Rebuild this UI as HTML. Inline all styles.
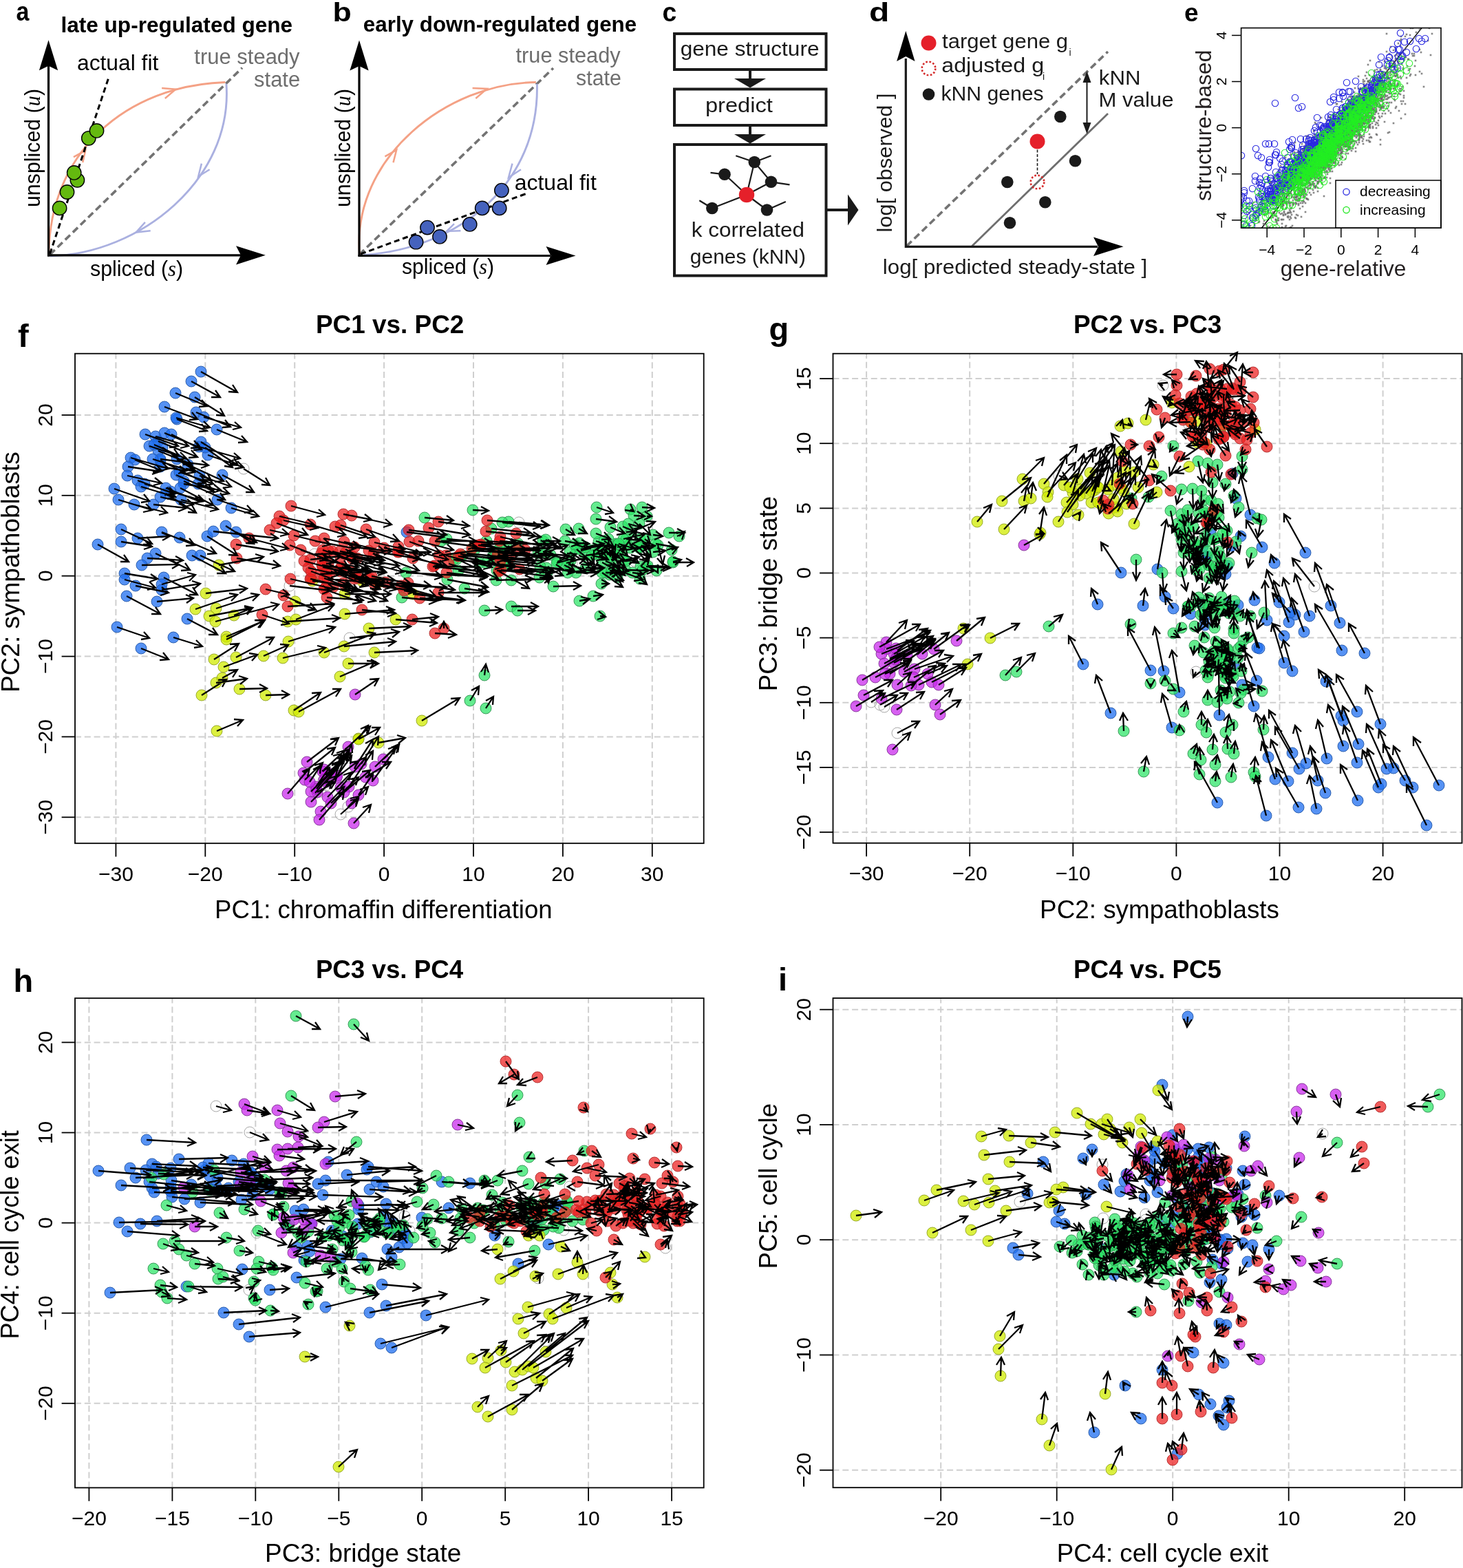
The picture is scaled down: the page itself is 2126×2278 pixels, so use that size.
<!DOCTYPE html>
<html><head><meta charset="utf-8"><title>Figure</title>
<style>html,body{margin:0;padding:0;background:#fff;}svg{display:block;}</style></head>
<body>
<svg xmlns="http://www.w3.org/2000/svg" width="2126" height="2278" viewBox="0 0 2126 2278" font-family="'Liberation Sans', Arial, Helvetica, sans-serif">
<rect width="2126" height="2278" fill="#fff"/>
<text x="23.6" y="29.8" font-size="38" font-weight="bold" textLength="18.9" lengthAdjust="spacingAndGlyphs">a</text>
<text x="88.4" y="46.6" font-size="31" font-weight="bold" textLength="336.8" lengthAdjust="spacingAndGlyphs">late up-regulated gene</text>
<line x1="72.5" y1="370.0" x2="352.0" y2="98.5" stroke="#737373" stroke-width="3.6" stroke-dasharray="10 5.5"/>
<path d="M70.9,368.9 C72.3,220.4 183.7,124.3 327.3,119.5" fill="none" stroke="#f4a185" stroke-width="2.9"/>
<path d="M328.9,121.9 C338.8,260.9 203.0,369.1 72.5,372.0" fill="none" stroke="#aab0e0" stroke-width="2.9"/>
<path d="M235.1,128.1 L255.4,129.7 L239.8,143.0" fill="none" stroke="#f4a185" stroke-width="2.5" stroke-linejoin="miter" stroke-linecap="butt"/>
<path d="M106.9,228.2 L124.1,218.8 L120.2,236.0" fill="none" stroke="#f4a185" stroke-width="2.5" stroke-linejoin="miter" stroke-linecap="butt"/>
<path d="M292.9,237.6 L288.2,256.3 L304.6,246.2" fill="none" stroke="#aab0e0" stroke-width="2.5" stroke-linejoin="miter" stroke-linecap="butt"/>
<path d="M210.9,322.8 L197.6,337.6 L218.7,335.3" fill="none" stroke="#aab0e0" stroke-width="2.5" stroke-linejoin="miter" stroke-linecap="butt"/>
<line x1="72.5" y1="368.9" x2="157.7" y2="113.3" stroke="#000" stroke-width="3" stroke-dasharray="8 5"/>
<circle cx="128.8" cy="200.8" r="10.2" fill="#64b90f" stroke="#000" stroke-width="1.4"/>
<circle cx="140.5" cy="189.9" r="10.2" fill="#64b90f" stroke="#000" stroke-width="1.4"/>
<circle cx="112.4" cy="261.8" r="10.2" fill="#64b90f" stroke="#000" stroke-width="1.4"/>
<circle cx="107.7" cy="250.9" r="10.2" fill="#64b90f" stroke="#000" stroke-width="1.4"/>
<circle cx="97.5" cy="279.0" r="10.2" fill="#64b90f" stroke="#000" stroke-width="1.4"/>
<circle cx="86.6" cy="302.4" r="10.2" fill="#64b90f" stroke="#000" stroke-width="1.4"/>
<line x1="70.5" y1="372.5" x2="70.5" y2="95.0" stroke="#000" stroke-width="3.2"/>
<line x1="69.0" y1="370.8" x2="350.0" y2="370.8" stroke="#000" stroke-width="3.2"/>
<path d="M70.5,58.2 L84.1,102.2 L70.5,95.7 L56.9,102.2 Z" fill="#000" stroke="none" stroke-width="1"/>
<path d="M385.8,370.8 L343,357.2 L350,370.8 L343,384.40000000000003 Z" fill="#000" stroke="none" stroke-width="1"/>
<text x="112.0" y="101.8" font-size="31.5" textLength="118.3" lengthAdjust="spacingAndGlyphs">actual fit</text>
<text x="282.3" y="92.7" font-size="31" fill="#6e6e6e" textLength="153.3" lengthAdjust="spacingAndGlyphs">true steady</text>
<text x="369.1" y="125.7" font-size="31" fill="#6e6e6e" textLength="67.1" lengthAdjust="spacingAndGlyphs">state</text>
<text x="0" y="0" font-size="32" textLength="172" lengthAdjust="spacingAndGlyphs" transform="translate(57.5,301) rotate(-90)">unspliced (<tspan font-family="'Liberation Serif', serif" font-style="italic">u</tspan>)</text>
<text x="131" y="401" font-size="32" textLength="135" lengthAdjust="spacingAndGlyphs">spliced (<tspan font-family="'Liberation Serif', serif" font-style="italic">s</tspan>)</text>
<text x="483.6" y="31.0" font-size="38" font-weight="bold" textLength="27.3" lengthAdjust="spacingAndGlyphs">b</text>
<text x="527.8" y="46.0" font-size="31" font-weight="bold" textLength="397.4" lengthAdjust="spacingAndGlyphs">early down-regulated gene</text>
<line x1="522.0" y1="370.0" x2="804.0" y2="99.0" stroke="#737373" stroke-width="3.6" stroke-dasharray="10 5.5"/>
<path d="M522.5,368.9 C511.6,228.7 649.8,120.6 778.9,119.5" fill="none" stroke="#f4a185" stroke-width="2.9"/>
<path d="M780.4,121.9 C783.8,267.9 667.0,360.6 528.8,370.4" fill="none" stroke="#aab0e0" stroke-width="2.9"/>
<path d="M686.6,128.1 L707.7,128.9 L691.3,143.0" fill="none" stroke="#f4a185" stroke-width="2.5" stroke-linejoin="miter" stroke-linecap="butt"/>
<path d="M559.4,227.4 L576.2,217.9 L571.5,236.1" fill="none" stroke="#f4a185" stroke-width="2.5" stroke-linejoin="miter" stroke-linecap="butt"/>
<path d="M744.5,237.6 L739.0,257.9 L757.0,246.2" fill="none" stroke="#aab0e0" stroke-width="2.5" stroke-linejoin="miter" stroke-linecap="butt"/>
<path d="M660.0,325.1 L649.1,336.0 L669.4,335.3" fill="none" stroke="#aab0e0" stroke-width="2.5" stroke-linejoin="miter" stroke-linecap="butt"/>
<line x1="524.0" y1="369.0" x2="764.8" y2="281.3" stroke="#000" stroke-width="3" stroke-dasharray="8 5"/>
<circle cx="728.9" cy="276.6" r="10.2" fill="#4562bd" stroke="#000" stroke-width="1.4"/>
<circle cx="700.7" cy="302.4" r="10.2" fill="#4562bd" stroke="#000" stroke-width="1.4"/>
<circle cx="725.7" cy="302.4" r="10.2" fill="#4562bd" stroke="#000" stroke-width="1.4"/>
<circle cx="682.7" cy="325.9" r="10.2" fill="#4562bd" stroke="#000" stroke-width="1.4"/>
<circle cx="621.0" cy="330.6" r="10.2" fill="#4562bd" stroke="#000" stroke-width="1.4"/>
<circle cx="639.0" cy="343.9" r="10.2" fill="#4562bd" stroke="#000" stroke-width="1.4"/>
<circle cx="604.6" cy="351.7" r="10.2" fill="#4562bd" stroke="#000" stroke-width="1.4"/>
<line x1="522.0" y1="372.5" x2="522.0" y2="95.0" stroke="#000" stroke-width="3.2"/>
<line x1="520.5" y1="371.5" x2="800.0" y2="371.5" stroke="#000" stroke-width="3.2"/>
<path d="M522,58.5 L535.6,102.5 L522,96 L508.4,102.5 Z" fill="#000" stroke="none" stroke-width="1"/>
<path d="M836.5,371.5 L793.5,357.9 L800.5,371.5 L793.5,385.1 Z" fill="#000" stroke="none" stroke-width="1"/>
<text x="747.7" y="276.2" font-size="31.5" textLength="119.1" lengthAdjust="spacingAndGlyphs">actual fit</text>
<text x="749.5" y="90.5" font-size="31" fill="#6e6e6e" textLength="152.2" lengthAdjust="spacingAndGlyphs">true steady</text>
<text x="837.1" y="123.8" font-size="31" fill="#6e6e6e" textLength="65.8" lengthAdjust="spacingAndGlyphs">state</text>
<text x="0" y="0" font-size="32" textLength="172" lengthAdjust="spacingAndGlyphs" transform="translate(509,301) rotate(-90)">unspliced (<tspan font-family="'Liberation Serif', serif" font-style="italic">u</tspan>)</text>
<text x="584" y="398" font-size="32" textLength="134" lengthAdjust="spacingAndGlyphs">spliced (<tspan font-family="'Liberation Serif', serif" font-style="italic">s</tspan>)</text>
<text x="962.5" y="31.0" font-size="38" font-weight="bold" textLength="20.7" lengthAdjust="spacingAndGlyphs">c</text>
<rect x="980" y="49" width="220.5" height="52" fill="none" stroke="#1a1a1a" stroke-width="4"/>
<rect x="980" y="129.5" width="220.5" height="52.5" fill="none" stroke="#1a1a1a" stroke-width="4"/>
<rect x="980" y="210" width="220.5" height="190.5" fill="none" stroke="#1a1a1a" stroke-width="4"/>
<line x1="1090.0" y1="103.0" x2="1090.0" y2="116.0" stroke="#1a1a1a" stroke-width="4"/>
<path d="M1067,114 L1113,114 L1090,127.5 Z" fill="#1a1a1a" stroke="none" stroke-width="1"/>
<line x1="1090.0" y1="184.0" x2="1090.0" y2="196.0" stroke="#1a1a1a" stroke-width="4"/>
<path d="M1067,195 L1113,195 L1090,208.5 Z" fill="#1a1a1a" stroke="none" stroke-width="1"/>
<text x="988.7" y="81.0" font-size="29" fill="#1a1a1a" textLength="201.8" lengthAdjust="spacingAndGlyphs">gene structure</text>
<text x="1024.9" y="162.5" font-size="29" fill="#1a1a1a" textLength="98.0" lengthAdjust="spacingAndGlyphs">predict</text>
<text x="1004.8" y="344.0" font-size="29" fill="#1a1a1a" textLength="164.2" lengthAdjust="spacingAndGlyphs">k correlated</text>
<text x="1002.8" y="382.5" font-size="29" fill="#1a1a1a" textLength="168.2" lengthAdjust="spacingAndGlyphs">genes (kNN)</text>
<line x1="1085.0" y1="283.0" x2="1096.3" y2="235.5" stroke="#1a1a1a" stroke-width="2.2"/>
<line x1="1085.0" y1="283.0" x2="1053.0" y2="253.3" stroke="#1a1a1a" stroke-width="2.2"/>
<line x1="1085.0" y1="283.0" x2="1120.5" y2="264.3" stroke="#1a1a1a" stroke-width="2.2"/>
<line x1="1085.0" y1="283.0" x2="1034.8" y2="302.5" stroke="#1a1a1a" stroke-width="2.2"/>
<line x1="1085.0" y1="283.0" x2="1114.5" y2="305.0" stroke="#1a1a1a" stroke-width="2.2"/>
<line x1="1096.3" y1="235.5" x2="1120.5" y2="264.3" stroke="#1a1a1a" stroke-width="2.2"/>
<line x1="1096.3" y1="235.5" x2="1069.3" y2="226.3" stroke="#1a1a1a" stroke-width="2.2"/>
<line x1="1096.3" y1="235.5" x2="1120.5" y2="226.3" stroke="#1a1a1a" stroke-width="2.2"/>
<line x1="1053.0" y1="253.3" x2="1032.5" y2="250.8" stroke="#1a1a1a" stroke-width="2.2"/>
<line x1="1120.5" y1="264.3" x2="1147.5" y2="268.3" stroke="#1a1a1a" stroke-width="2.2"/>
<line x1="1034.8" y1="302.5" x2="1016.3" y2="291.3" stroke="#1a1a1a" stroke-width="2.2"/>
<line x1="1114.5" y1="305.0" x2="1141.8" y2="293.0" stroke="#1a1a1a" stroke-width="2.2"/>
<circle cx="1096.3" cy="235.5" r="8.8" fill="#1a1a1a" stroke="none" stroke-width="1"/>
<circle cx="1053.0" cy="253.3" r="8.8" fill="#1a1a1a" stroke="none" stroke-width="1"/>
<circle cx="1120.5" cy="264.3" r="8.8" fill="#1a1a1a" stroke="none" stroke-width="1"/>
<circle cx="1034.8" cy="302.5" r="8.8" fill="#1a1a1a" stroke="none" stroke-width="1"/>
<circle cx="1114.5" cy="305.0" r="8.8" fill="#1a1a1a" stroke="none" stroke-width="1"/>
<circle cx="1085.0" cy="283.0" r="11.2" fill="#e5202a" stroke="none" stroke-width="1"/>
<line x1="1201.0" y1="305.0" x2="1235.0" y2="305.0" stroke="#1a1a1a" stroke-width="4"/>
<path d="M1232,282.5 L1247.5,305 L1232,327.5 Z" fill="#1a1a1a" stroke="none" stroke-width="1"/>
<text x="1263.0" y="31.0" font-size="38" font-weight="bold" textLength="29.3" lengthAdjust="spacingAndGlyphs">d</text>
<line x1="1317.5" y1="357.5" x2="1610.0" y2="75.0" stroke="#737373" stroke-width="3.6" stroke-dasharray="10 5.5"/>
<line x1="1412.5" y1="357.5" x2="1610.0" y2="165.0" stroke="#6e6e6e" stroke-width="2.8"/>
<line x1="1316.3" y1="360.0" x2="1316.3" y2="85.0" stroke="#1a1a1a" stroke-width="3.2"/>
<line x1="1315.0" y1="358.3" x2="1595.0" y2="358.3" stroke="#1a1a1a" stroke-width="3.2"/>
<path d="M1316.3,45 L1329.5,89 L1316.3,82 L1303.1,89 Z" fill="#000" stroke="none" stroke-width="1"/>
<path d="M1632.5,358.3 L1589,344.6 L1596,358.3 L1589,372.0 Z" fill="#000" stroke="none" stroke-width="1"/>
<circle cx="1349.5" cy="62.5" r="11" fill="#e5202a" stroke="none" stroke-width="1"/>
<circle cx="1349.5" cy="99.5" r="9.8" fill="none" stroke="#d42a2a" stroke-width="2.6" stroke-dasharray="2.6 2.6"/>
<circle cx="1349.5" cy="137.0" r="8.8" fill="#1a1a1a" stroke="none" stroke-width="1"/>
<text x="1369.1" y="70.0" font-size="29" fill="#1a1a1a" textLength="183.0" lengthAdjust="spacingAndGlyphs">target gene g</text>
<text x="1553.5" y="81.0" font-size="14" fill="#1a1a1a">i</text>
<text x="1368.2" y="105.0" font-size="29" fill="#1a1a1a" textLength="149.0" lengthAdjust="spacingAndGlyphs">adjusted g</text>
<text x="1515.0" y="116.0" font-size="14" fill="#1a1a1a">i</text>
<text x="1367.4" y="146.0" font-size="29" fill="#1a1a1a" textLength="149.3" lengthAdjust="spacingAndGlyphs">kNN genes</text>
<line x1="1579.5" y1="112.0" x2="1579.5" y2="186.0" stroke="#1a1a1a" stroke-width="2"/>
<path d="M1579.5,103.5 L1585.5,120 L1573.5,120 Z" fill="#1a1a1a" stroke="none" stroke-width="1"/>
<path d="M1579.5,194.5 L1585.5,178 L1573.5,178 Z" fill="#1a1a1a" stroke="none" stroke-width="1"/>
<text x="1596.8" y="122.5" font-size="29" fill="#1a1a1a" textLength="60.8" lengthAdjust="spacingAndGlyphs">kNN</text>
<text x="1596.4" y="155.0" font-size="29" fill="#1a1a1a" textLength="109.1" lengthAdjust="spacingAndGlyphs">M value</text>
<circle cx="1540.8" cy="169.5" r="8.8" fill="#1a1a1a" stroke="none" stroke-width="1"/>
<circle cx="1562.5" cy="233.8" r="8.8" fill="#1a1a1a" stroke="none" stroke-width="1"/>
<circle cx="1463.8" cy="264.5" r="8.8" fill="#1a1a1a" stroke="none" stroke-width="1"/>
<circle cx="1518.8" cy="293.8" r="8.8" fill="#1a1a1a" stroke="none" stroke-width="1"/>
<circle cx="1467.5" cy="323.8" r="8.8" fill="#1a1a1a" stroke="none" stroke-width="1"/>
<line x1="1507.5" y1="217.5" x2="1507.5" y2="253.0" stroke="#1a1a1a" stroke-width="1.6" stroke-dasharray="4 2.5"/>
<circle cx="1507.5" cy="205.5" r="11" fill="#e5202a" stroke="none" stroke-width="1"/>
<circle cx="1507.5" cy="264.5" r="9.8" fill="none" stroke="#d42a2a" stroke-width="2.6" stroke-dasharray="2.6 2.6"/>
<text x="0" y="0" font-size="29" fill="#1a1a1a" transform="translate(1296,337.5) rotate(-90)" textLength="202" lengthAdjust="spacingAndGlyphs">log[ observed ]</text>
<text x="1282.8" y="397.5" font-size="29" fill="#1a1a1a" textLength="384.5" lengthAdjust="spacingAndGlyphs">log[ predicted steady-state ]</text>
<defs><marker id="mg" markerUnits="userSpaceOnUse" markerWidth="4" markerHeight="4" refX="1.3" refY="1.3" overflow="visible"><rect width="2.6" height="2.6" fill="#6a6a6a" fill-opacity="0.8"/></marker><marker id="mbl" markerUnits="userSpaceOnUse" markerWidth="12" markerHeight="12" refX="6" refY="6" overflow="visible"><circle cx="6" cy="6" r="4.7" fill="none" stroke="#2a2ae0" stroke-width="1.1"/></marker><marker id="mgr" markerUnits="userSpaceOnUse" markerWidth="12" markerHeight="12" refX="6" refY="6" overflow="visible"><circle cx="6" cy="6" r="4.7" fill="none" stroke="#22ee22" stroke-opacity="0.9" stroke-width="1.1"/></marker></defs>
<clipPath id="ce"><rect x="1803.6" y="40.6" width="290.4000000000001" height="290.59999999999997"/></clipPath>
<g clip-path="url(#ce)">
<line x1="1833.4" y1="331.2" x2="2066" y2="40.6" stroke="#000" stroke-width="1.5"/>
<path d="M1929 207L1930 220L1898 253L1992 142L1988 149L1959 182L1865 262L1964 171L1863 330L1900 257L1955 190L1965 190L1955 183L1910 202L1966 157L1912 248L1925 223L1970 169L1920 243L1917 206L1904 238L1960 208L1943 181L1849 310L1936 223L1963 181L1874 254L1971 155L2007 127L1946 218L1969 185L1920 249L1896 262L2000 186L1874 268L2007 122L1854 363L1957 199L1890 236L1991 148L1952 186L2014 113L1964 170L1869 247L1984 148L1850 316L1979 198L1932 195L1881 229L1966 180L1956 178L1946 181L1910 244L1988 154L1900 226L2008 144L1878 273L1934 216L2005 160L1998 171L1905 229L1992 132L1957 185L1948 188L1933 208L1967 177L1976 157L2033 99L1921 232L1940 190L1925 213L2025 179L1889 252L1959 181L1921 213L1954 199L2052 78L1915 233L1930 216L1816 350L1987 179L1938 192L1980 135L1863 295L1925 209L1991 206L1991 181L1972 198L1949 178L1934 208L1977 163L1937 183L1989 160L2066 107L1983 165L1947 187L1951 184L1871 315L1969 192L1894 286L1999 128L2008 155L1941 222L1976 138L1900 214L1986 160L1851 260L1936 219L1959 178L2009 155L1993 119L2007 139L1907 219L1946 197L2006 142L1836 325L1856 271L1955 199L1940 191L1944 180L1938 190L2009 96L1910 219L1855 323L1851 269L1884 263L1932 214L1914 228L2023 117L1965 162L1932 235L1915 210L1865 298L1987 140L1941 191L1948 214L1869 295L1983 171L1899 264L1871 280L1887 252L1833 307L1911 273L1974 174L1839 336L1954 197L1976 153L1971 166L2002 126L1961 217L1982 136L1927 227L2029 155L1962 141L1898 234L2027 117L1966 162L1899 249L1954 177L1939 209L1894 261L1982 159L1902 263L2063 43L1970 220L1969 166L2018 113L1938 199L1852 269L1956 200L2001 101L1877 287L1954 187L1923 241L2038 75L1886 292L2019 99L2024 97L1901 240L1842 329L1938 198L1907 241L1962 176L1970 170L1926 205L1943 215L1912 234L1936 207L1941 201L1935 232L1960 167L1961 186L1961 199L1854 293L1898 233L1891 315L1893 219L1923 247L1906 230L1963 177L2009 117L1940 195L2016 102L1988 177L1934 199L1927 199L1968 160L1931 170L1997 149L1945 159L1925 205L1986 157L1887 256L1957 169L1977 166L1980 153L1950 193L1930 204L1893 269L1941 227L1921 262L1910 225L1967 178L1930 240L2024 104L1991 170L1932 244L1976 149L1854 296L1970 205L1857 320L1912 262L1942 199L1970 161L2009 106L1881 279L1892 279L1937 208L1963 207L1884 264L1932 219L1938 220L1973 164L1937 219L1933 259L1896 250L1872 271L1947 218L1929 222L1962 172L1939 220L1934 212L1974 164L1908 266L1924 235L1890 260L1918 226L1965 186L2047 102L1991 149L1992 199L1906 235L1968 134L1955 168L1976 150L1964 182L1964 198L1995 169L1952 159L1931 214L1994 148L1904 237L1967 164L1905 205L2017 124L1953 198L2005 152L1972 180L1909 223L2002 140L1910 220L1938 201L2010 105L1917 185L1941 191L1911 236L1861 241L2003 165L1872 316L1994 157L1938 212L1935 228L1942 226L1937 202L1962 186L1899 244L1919 198L1976 169L1919 240L1898 257L1954 182L1967 140L1908 238L2069 126L1917 226L1948 191L1930 209L1943 189L1854 319L1941 221L1893 240L1911 223L1975 163L1964 182L1876 272L1962 191L1936 196L1901 233L2026 129L1947 199L2011 123L1982 174L1940 205L1860 251L1982 195L1975 171L1961 177L1872 281L2009 146L1894 283L1885 255L2018 113L1952 158L1917 242L1965 169L1894 278L1954 186L1881 271L1916 221L1935 211L1925 202L2004 146L1979 178L1944 189L2010 140L1937 204L1872 276L1910 229L1889 303L1942 198L1916 213L1928 228L1963 208L1910 237L1980 167L1955 200L1955 163L1909 190L1911 235L1949 180L1884 312L1968 161L1969 128L1950 190L1983 152L2017 154L1924 285L1978 172L1983 118L1940 209L1918 244L1912 222L1942 201L1933 197L1963 183L1971 175L1888 226L1962 198L1990 145L1869 239L1956 174L1950 197L1870 254L1942 207L1957 186L1972 178L1939 241L1921 212L2002 148L1935 183L1926 207L2017 123L1997 160L1950 195L1946 181L2050 108L1914 222L1892 244L1967 182L1965 205L1975 196L1909 249L1922 208L1944 206L1966 151L1941 198L1997 139L1882 207L2042 151L1939 199L1985 145L1928 236L1945 183L1891 279L1940 237L1929 224L1961 194L1900 255L1938 217L1941 192L1995 112L1905 250L1827 266L1908 240L1965 202L1962 182L1857 284L1995 186L1978 162L1962 174L2000 146L1981 170L1974 184L1936 180L1961 185L1888 277L1950 181L1960 175L1939 184L1923 233L1981 160L1928 228L1929 205L1957 207L1960 181L1895 235L1928 223L1977 141L1909 228L1901 197L1918 205L1911 219L2042 166L1921 216L1936 220L2039 99L1866 261L1862 257L1914 229L1998 141L1877 312L1995 132L1903 225L1963 169L1837 321L1982 147L1981 209L1948 189L2057 109L1926 219L1981 170L1993 165L1953 200L1948 207L1868 253L1955 198L1950 179L1896 253L1965 169L1925 258L1998 138L1941 208L1953 198L1894 269L1913 245L1888 245L1881 251L1894 245L2004 134L1907 238L1948 223L1913 230L1919 225L1974 155L1982 149L1928 218L1928 223L1933 242L1925 221L1896 251L1964 182L2036 172L1931 246L1986 105L1826 320L1964 184L1966 216L1980 156L1942 212L1970 182L1951 201L1838 313L1950 183L1901 247L1969 172L1998 102L1899 289L1980 134L1983 144L1912 248L1981 179L1858 317L2055 30L1909 252L1951 205L2001 143L1891 227L1914 228L1940 210L1956 200L1856 351L1883 282L1940 204L1966 175L1904 257L1844 310L1963 172L1935 213L1984 159L1974 158L1950 174L1915 239L1904 259L2012 89L1942 194L1994 131L1996 173L1911 226L2006 133L1901 253L1911 253L2009 146L1942 169L1995 140L1913 225L2015 112L1998 142L1964 183L1960 162L1875 274L1952 201L1927 205L2032 92L1956 213L2029 110L1939 224L1938 225L1944 193L1942 198L1902 215L1911 271L1932 226L1895 260L1954 209L1934 187L1972 174L1947 200L1939 194L1936 249L1940 220L1971 184L1948 164L1893 279L1876 330L1855 284L1912 272L1873 260L1905 249L1956 167L2029 85L1947 194L2023 83L1927 211L1954 190L1918 253L1916 259L1997 134L1886 230L1982 198L2025 96L2035 137L1965 171L1950 192L1989 184L1884 296L1915 243L1958 182L1942 213L1921 208L1976 166L1926 192L1914 220L1993 154L1978 186L1987 152L1868 263L1900 220L1910 240L1954 196L1953 200L1971 172L1950 236L1994 148L1859 287L1962 164L1891 222L1933 171L1934 200L1924 242L1991 133L2011 111L1915 264L1911 249L1903 231L1956 193L1949 198L1950 182L1985 172L1872 241L1946 182L1866 291L1942 226L1917 215L1990 120L1901 275L1965 163L1950 215L1976 152L1966 186L1955 177L1915 266L1956 181L1941 189L1914 234L1927 209L2014 133L2035 66L1977 155L2022 124L1936 227L1962 159L1965 171L1932 211L1876 247L1922 244L1906 257L1980 143L1879 247L1981 173L1873 294L1912 228L1924 258L1951 217L1982 184L1909 254L1916 205L1980 152L1955 213L1917 240L1896 240L1907 254L1893 300L1968 152L1949 211L1817 328L1996 140L1983 131L1992 159L1989 138L1870 288L1876 275L1967 195L1847 266L1958 162L1880 242L2036 53L1931 210L1934 195L1988 153L1879 252L1919 215L1953 166L1993 159L1957 159L1916 222L1995 121L1964 202L1883 259L1958 144L1901 221L1976 198L1903 240L1918 231L1962 195L1962 192L1916 220L1915 226L2014 127L1934 199L1924 202L1882 251L1917 244L2022 140L2021 104L2007 156L1996 116L1935 212L2053 81L1921 236L1961 177L1949 170L1926 211L2007 157L1988 118L1879 295L1893 295L1961 213L1964 156L1867 290L1853 275L1907 245L1943 193L1925 220L1916 228L1887 259L1852 310L2028 110L1883 258L1896 286L1907 224L1958 187L1898 272L2002 134L1897 295L1878 211L1888 261L1950 196L1928 242L1893 217L1906 223L1863 292L1953 175L1889 245L1958 198L1963 196L1904 243L1817 338L1895 284L1921 210L1922 200L1888 289L2012 121L1984 175L1978 161L1970 173L1996 160L1897 282L1994 164L1893 275L1920 249L1927 229L1916 249L1942 210L1946 195L1956 223L1916 245L1976 196L1908 244L1925 202L1920 207L1874 319L1996 137L1963 179L1963 201L1984 169L1986 155L1850 334L1992 153L1923 219L1921 235L1945 197L2010 130L2027 69L2019 97L1947 196L1934 223L1938 218L2016 113L1920 261L1938 214L1891 281L1838 295L1938 165L1939 208L2007 132L1948 202L1913 204L1986 122L1925 220L1900 226L1877 257L1991 123L1898 226L1908 254L1880 240L2016 139L1906 247L2055 55L1916 265L1910 213L2026 121L1909 247L1854 270L1891 232L1863 319L1954 202L1976 167L1887 246L1979 200L2024 104L1975 202L1908 246L1990 182L1900 289L1930 210L1864 300L1964 153L1971 178L1887 282L1910 233L1938 179L1954 207L2011 108L1945 210L1855 321L1982 176L1880 263L1952 183L1971 148L1902 224L1896 236L1949 192L1985 158L1992 133L1947 206L1906 251L1931 214L2077 41L1976 183L1908 245L1950 211L2014 140L1990 200L1940 200L1949 186L1954 188L1854 314L1834 298L1955 192L1903 256L2025 73L1938 186L1868 329L1919 244L1915 227L2079 80L1943 197L1939 191L2022 149L1948 200L1957 212L1860 349L1965 176L1944 238L1924 236L1876 294L1973 161L1940 197L1913 232L1943 193L1938 210L1935 221L2043 83L1960 146L2005 171L1973 156L2027 81L1976 189L1901 240L1964 197L1923 230L1943 196L1928 240L1998 111L1936 192L1961 172L1963 194L1967 159L1900 205L2036 57L2032 90L1925 231L1904 241L1939 195L1848 237L2045 96L1972 163L1953 194L1935 224L1949 196L1955 202L1943 201L1968 194L1960 168L1968 182L1918 232L1974 141L1934 223L1958 183L1899 263L1936 198L1886 285L1964 201L1946 193L1936 226L1938 212L1956 201L1991 186L1933 212L1985 170L1966 188L1974 137L1922 215L1898 228L1996 145L1889 249L1993 127L1978 199L1910 208L1885 237L2027 95L1992 157L1885 265L1932 214L1973 173L1950 188L1940 175L1961 182L1931 225L2002 136L1891 268L1934 218L1990 176L1963 178L1887 259L1936 200L1920 220L1865 312L1977 147L1940 214L1990 195L1904 229L1971 191L1854 256L1948 210L1943 187L1822 294L1975 207L1976 200L1993 141L2044 113L1941 187L1911 249L1924 223L1891 245L1966 177L2018 130L2000 153L1975 204L1950 197L1918 239L1925 234L1840 326L1916 241L1892 258L1977 171L1918 202L1985 139L1994 156L1935 192L1915 233L1958 180L1928 200L1933 200L1990 140L1974 190L1881 282L1962 156L1885 256L1902 260L1928 205L1950 176L1896 232L1983 158L1963 191L1891 265L1911 178L1919 196L1950 190L1975 183L1983 153L1871 262L1966 170L2013 138L1964 167L1900 222L1874 305L1965 198L1935 237L1944 219L1956 212L1961 187L1944 202L1947 218L1823 326L1898 259L1960 216L1906 253L1892 248L1934 225L1896 234L1911 224L1961 214L1891 256L1956 175L1977 146L1924 226L1976 175L1989 185L1971 176L1851 272L1955 189L1891 266L2010 150L1902 270L1935 217L1899 266L1989 183L2030 124L1891 239L1967 195L1975 202L1898 224L1929 239L1964 164L1940 235L1925 213L1976 133L1929 225L1939 186L1898 221L1815 310L1910 227L1972 192L1937 204L1968 192L1895 293L2057 88L1931 241L1983 170L2006 116L1942 191L1890 265L1914 256L1942 206L2006 210L1910 255L1920 218L1959 184L1919 218L1957 217L1929 241L1887 257L1943 199L1901 250L1899 240L1972 139L1999 161L1920 244L1955 158L1973 210L1883 294L1964 179L1954 162L1903 261L2031 101L1905 283L1871 338L1944 200L1986 159L1909 252L2028 157L1949 195L1969 182L1964 166L1934 219L1932 230L1931 219L1950 174L2001 151L1968 170L1976 167L1953 199L1905 224L2000 128L1961 179L1920 259L1971 169L1915 249L1999 181L2021 104L2049 110L1940 213L1948 200L1907 218L1905 252L1966 187L1921 218L1924 244L1936 213L2019 149L1985 173L1924 227L1953 178L2021 136L2002 119L1978 179L1982 163L1957 192L1971 152L1992 154L1986 128L1898 217L1880 255L1968 150L1953 198L1904 268L1976 172L1908 228L1906 250L1920 195L2008 138L1869 272L1944 195L1967 183L1983 144L1950 200L1919 214L1890 260L1906 268L1968 176L1942 189L1872 277L1954 177L1891 240L1951 173L1993 138L2039 101L1921 231L1898 250L1855 296L1960 167L1925 196L1911 238L1855 314L1905 212L1964 198L1965 171L1930 215L1927 228L1862 289L1998 114L1928 230L1931 199L1956 197L1957 190L1964 187L1875 272L1975 188L1936 195L1924 233L2031 89L1987 174L2013 165L1918 215L2000 162L1911 231L1855 277L1966 186L1965 166L1954 182L2008 144L1948 204L1987 164L1962 180L1944 175L1937 185L1977 142L1933 196L1974 180L1953 194L1939 185L1909 270L1864 296L1912 234L1966 149L1954 183L1908 227L2001 113L1855 271L2011 113L1875 280L1967 170L1905 259L1983 184L2004 138L1954 210L1914 219L1876 224L1879 297L1943 195L1973 177L1932 218L1915 278L1983 155L1948 206L1952 193L1937 190L1865 277L1894 260L2007 158L1936 218L1982 179L1867 269L1925 226L1988 171L1924 219L1959 193L1986 114L1923 190L1848 264L1926 218L1926 231L1885 272L1998 121L1925 229L1910 259L2020 106L1946 206L1896 224L1975 185L1984 179L1969 191L1923 214L1960 168L1904 211L2000 142L1961 195L1934 233L1945 197L2000 123L1977 173L1931 220L1950 222L1975 196L1918 227L1918 198L1936 184L1992 160L1958 165L1926 218L1916 229L1925 219L1985 132L1947 195L1978 170L1894 229L1900 228L1898 211L1895 234L2007 156L2006 153L1863 267L1972 175L1830 322L1927 225L1928 248L1916 197L2009 141L1909 229L1987 141L1889 254L1947 176L1993 139L1994 156L2008 143L1958 172L1901 260L1864 281L1938 212L1963 215L1940 204L1929 203L2018 134L1899 260L1945 191L1903 224L1896 234L1959 177L2035 111L1933 204L1979 189L1953 203L1968 152L1943 203L1949 239L1975 159L1948 202L1909 241L1994 150L2000 195L1921 220L1940 231L1912 211L1884 286L1893 266L1969 165L1852 259L1915 242L2014 129L1886 275L1909 257L1926 204L1956 209L2063 104L1946 198L1974 175L1961 150L1945 216L1955 201L1924 218L1956 193L1978 169L1883 245L1925 200L1912 223L1955 231L1875 299L2002 179L1981 142L1962 170L1919 227L1951 188L1972 175L1910 247L1959 211L1886 271L1916 235L1824 337L1930 203L1854 303L1962 174L1993 128L1895 239L1926 233L2008 147L1903 252L1903 223L1957 165L1959 195L1987 168L1920 228L1942 184L1914 225L1940 225L1893 259L1959 180L1962 181L1921 217L1897 278L1926 244L1918 241L1916 231L1905 249L1865 280L1902 237L1816 359L1951 229L1925 219L1945 222L1951 191L1898 234L1939 206L1921 215L1945 183L1961 193L1931 199L1925 214L1964 183L1838 308L1950 192L1907 216L1935 221L1909 230L1892 276L2029 80L1987 129L1967 205L1994 124L1962 213L1996 119L1919 225L1975 170L1989 152L1971 171L1875 296L2081 49L1999 120L2017 112L1914 231L1856 298L1981 202L1949 183L2000 162L1912 270L1896 240L2033 136L2002 131L1919 187L1829 323L1950 162L2021 68L1947 183L2001 130L1957 190L1923 245L2027 124L1848 294L1939 203L2021 122L1929 229L1940 212L1950 148L1958 199L2027 93L1977 153L1977 154L2003 117L2001 152L1941 216L1983 144L1920 215L2058 47L1891 258L1969 175L1958 167L1955 206L1973 172L1946 207L1879 298L1925 239L1820 296L1889 274L1964 219L2000 158L1970 182L1954 188L1941 233L1875 274L2004 150L1964 177L1962 165L1874 268L1933 218L1903 260L1895 276L2053 41L1941 192L1897 308L1860 286L2005 138L1896 256L1896 280L1930 222L1905 260L1899 243L2003 144L2040 142L1953 209L1934 210L1966 159L1916 253L1932 208L1910 219L2016 158L1957 171L1855 288L1931 239L1999 138L1919 218L1969 161L1967 170L1888 268L1946 240L2036 114L1894 292L1952 192L1915 239L1901 261L1936 219L1971 175L1947 192L1997 132L1951 196L1905 249L1971 168L1923 246L1872 268L1987 149L1880 273L1951 207L1956 191L1904 268L1977 160L1901 266L1980 152L1927 191L1928 236L1989 157L1956 187L1896 276L1932 190L1896 222L1951 210L1953 183L1901 290L1957 205L1960 214L1934 224L1875 279L1948 204L1888 254L1863 272L1963 154L1980 156L1952 191L1882 233L1964 184L1890 225L1964 199L1971 140L1940 199L1922 235L1988 94L1946 201L1976 173L1973 156L1896 274L1937 194L1953 172L1880 257L1913 231L1955 204L1931 234L1953 205L1919 223L1912 213L1912 218L1953 207L1931 228L1925 226L2021 129L2010 121L1883 317L1971 207L1973 153L1958 189L1930 211L1927 227L1924 201L1913 226L1890 273L1880 272L1971 167L1919 216L1925 214L1953 183L1831 357L1975 170L2040 106L1916 202L1965 147L1963 184L1973 184L1921 235L1931 201L1919 221L1919 211L1819 338L1948 212L1986 153L1997 125L1969 177L1893 259L1920 221L1920 171L1870 250L1920 230L1982 161L1887 251L1932 247L1949 210L1908 229L1954 195L2037 93L1914 228L1935 245L1871 310L2032 113L1929 227L1984 158L2016 107L2013 131L1957 194L1933 240L1915 249L1912 211L1952 174L1979 148L1985 169L1976 173L1917 207L2036 129L2017 105L1903 238L1957 181L1925 243L1942 189L1975 156L1989 172L1939 201L1985 155L1964 178L2033 161L1940 167L1951 220L1947 219L1911 231L2016 115L1970 156L1950 207L1936 203L1929 228L1925 247L1896 253L1925 220L2003 133L1939 224L1893 246L1902 236L1893 251L1938 192L1923 229L1952 192L2015 132L1917 235L1962 179L1971 196L2050 41L1939 224L1948 191L1842 307L1876 262L2002 119L1874 241L1981 169L1963 156L1926 220L1916 209L1846 265L1898 230L1869 302L1914 216L1869 264L1913 210L1927 210L1933 183L1925 221L2028 111L1971 185L1950 228L1945 209L1875 307L1991 143L1874 231L1910 243L1952 210L1870 297L1993 131L1871 248L1942 195L1943 195L1897 269L1910 244L1968 196L2011 145L1915 218L1960 189L1894 275L1870 250L1988 118L1963 176L1974 153L1929 210L2036 147L1879 291L1974 149L1926 208L1939 202L1917 230L1941 187L2039 147L1964 180L1983 140L1975 154L1899 283L2014 100L1899 222L1970 215L1980 181L1992 164L1908 268L1931 197L1911 271L2035 59L1971 182L1887 296L1965 157L1894 253L1929 221L1963 147L1913 217L1989 159L1934 233L1988 165L1912 233L1903 265L1928 192L1932 205L1876 317L2021 129L1873 278L1968 205L1902 240L1900 230L1983 151L1922 225L1913 236L1955 194L1984 110L1917 223L1977 154L1930 223L1985 146L1963 194L1969 161L1933 202L2037 151L1968 196L1880 273L1965 178L1889 289L1916 230L1904 273L2018 142L1934 220L1915 230L1928 207L1888 292L2027 116L1975 148L1965 178L1872 314L1984 146L1966 205L1846 332L1888 255L1895 218L1913 244L1979 158L1901 229L2026 144L1930 234L1855 278L1972 155L1960 216L1940 216L1889 283L1975 174L2028 101L1856 270L1996 145L1887 221L1882 267L1856 325L1865 256L1993 157L1880 269L1958 211L1889 260L1972 170L1961 203L1830 311L1900 250L1924 213L1906 211L1942 194L1969 157L1959 213L1913 198L1962 173L1962 193L1910 248L1992 143L2020 109L2025 104L1888 221L1956 170L1950 199L1948 213L1887 280L1917 254L1936 204L2032 63L1938 192L1931 208L1939 214L1944 223L1960 188L1892 263L1966 190L1962 172L2011 155L1936 201L2008 128L1975 195L1914 200L1928 180L1908 244L1869 264L1953 161L1948 200L1877 273L1983 145L1996 128L1939 197L1949 216L2018 114L1893 245L1954 175L2006 203L1966 152L1898 288L1953 186L1957 205L1920 223L1974 129L1954 200L1834 285L1935 212L1896 235L1860 286L1946 194L2000 144L1945 186L1870 285L1944 186L1904 226L1958 210L1874 309L1947 194L1974 155L1916 210L1978 156L1962 203L1957 203L1887 269L1947 198L1926 238L1949 206L1877 269L2007 144L1892 224L2019 130L1931 211L2075 59L1986 148L1858 320L1885 253L1946 171L1928 212L1944 198L2046 86L2008 105L1913 220L1923 220L1948 196L1919 197L1929 204L2017 109L1988 128L1990 117L1876 225L1942 231L1912 262L1940 229L1895 246L1948 209L1930 217L1944 201L1931 199L1867 293L1947 204L1916 239L1950 175L1932 218L1957 191L1852 289L1923 233L1969 173L1915 273L1862 286L1935 202L1951 201L1883 290L1934 230L1975 192L1859 295L1860 246L1895 253L1930 230L1860 337L1980 143L2040 139L1966 178L1979 173L1974 153L1968 150L1933 186L1909 204L1815 335L1904 242L1988 140L1945 173L1873 295L2010 124L1846 294L1887 227L1993 161L2000 160L1983 149L1935 234L1928 258L1915 267L1996 166L1830 303L1958 195L2038 82L1944 211L1806 330L1985 170L1876 273L1864 284L1976 139L1953 188L1975 142L1926 241L1905 268L1900 249L1956 185L1944 206L1960 169L1975 140L1927 222L2018 118L1960 190L1985 166L1895 254L1921 210L1923 220L1931 209L1912 213L1876 282L1908 225L1943 195L1926 233L1890 265L1916 224L1957 171L1936 222L1892 254L1957 155L1949 169L2026 140L1996 122L2002 140L1984 168L1938 207L2022 124L1984 157L1908 233L1971 185L1970 186L1901 241L1930 233L1866 282L1952 200L1949 218L1959 179L1953 200L1944 198L1990 147L1952 203L1980 141L1918 216L1955 190L1882 225L1855 285L1924 201L1921 224L1969 167L1917 216L1959 169L1917 229L1923 238L1952 186L2006 143L1958 167L1936 209L1947 208L1896 227L1949 197L1884 261L1994 172L1900 223L2006 101L1916 219L1907 229L1924 218L2002 133L1930 215L1953 199L1950 185L2012 177L1887 289L1981 116L1950 193L1993 200L1933 266L1948 204L1919 221L1914 210L1941 198L2056 96L1983 176L1997 125L1947 182L2014 96L1941 205L1991 181L1913 223L1967 145L2021 113L1961 205L1932 208L1930 214L1968 192L1915 265L1993 171L1864 265L1931 198L1924 183L1973 168L1946 202L1977 129L1922 244L1968 157L1873 292L1896 239L1964 192L1890 242L1848 284L1934 179L1986 168L1928 222L1908 237L1984 188L1930 189L1974 184L1904 260L1868 251L1944 212L1876 281L1918 196L1920 224L1989 140L1933 249L2004 125L1921 226L1898 268L1874 262L1964 177L1976 158L1946 212L1967 156L1969 153L1919 244L1997 157L1952 196L1942 207L1917 263L2026 110L1854 319L1890 273L1826 307L2014 133L1974 158L1885 235L1865 298L1925 199L1946 200L1905 240L1943 191L2003 123L1942 206L2012 124L1940 176L2011 118L1936 220L1989 163L1984 174L1945 193L1947 194L1958 204L1891 259L2021 122L1899 261L1942 184L1915 220L1949 201L1899 252L1908 227L1862 258L1975 158L2008 121L1864 283L1961 194L1890 248L1964 187L1930 224L1915 232L1989 185L1926 192L1955 187L1978 183L1887 298L1876 266L1979 172L1910 228L1968 171L1856 307L1828 315L1903 257L2008 105L1962 177L1948 205L1938 176L1902 258L1948 183L1978 183L1935 215L1886 260L1919 210L1960 196L1944 206L1912 243L1988 163L1864 303L1977 128L1894 261L1926 244L1959 186L1953 157L1929 203L1978 177L1914 202L1973 168L1892 236L1964 143L2006 118L1953 191L1916 224L1952 183L1989 147L1917 214L2010 150L1959 176L1965 171L1937 210L2016 86L1878 328L1960 195L1918 258L1956 188L1917 213L2049 51L1993 158L1970 174L1992 139L1939 197L1909 222L2008 142L1965 206L1982 144L1895 215L1946 225L1880 248L1929 198L1872 279L1984 171L1971 179L1956 183L2040 132L1975 144L1891 255L2043 69L1809 350L1865 276L1908 249L1904 237L1920 242L1931 208L1903 221L1867 271L1923 194L1912 247L1881 221L1968 194L1926 236L2008 124L1850 293L1981 161L1962 184L1950 191L1909 230L1948 197L1910 256L1952 180L1833 332L2001 122L1909 211L1897 267L2027 124L1931 242L1896 276L1935 241L1988 162L1914 244L1974 142L1923 194L2012 99L1954 213L1971 180L1949 223L1928 213L1899 242L2015 121L1910 190L1845 330L1959 194L1839 304L1978 180L2006 125L1994 179L1941 179L2030 78L1941 201L1913 212L1910 234L1849 341L2020 120L1950 227L1939 173L1874 331L1934 220L1931 235L1880 296L1969 175L1977 185L1967 184L1945 186L1942 208L1866 280L1976 179L1938 236L1881 257L1999 150L1866 292L1871 284L2027 106L1934 194L1924 216L1950 188L1875 256L1980 205L1819 359L2008 134L1971 163L1981 174L1914 225L1968 166L1956 196L1990 143L1989 204L1986 204L1950 204L1946 206L1927 215L1956 200L1827 347L1965 193L1960 190L1898 224L2015 128L1938 191L1881 287L1992 132L1918 242L1957 210L1918 232L1830 303L1975 149L1876 303L1904 269L2034 132L1927 215L1961 159L1891 236L1947 215L1948 218L2014 144L1986 131L1913 251L1947 214L1982 158L1906 254L1974 196L2017 142L1932 229L2015 108L2000 128L1945 174L1971 165L1967 164L1953 193L1868 229L1882 316L1908 199L1996 159L1953 192L1850 308L1954 172L1886 313L1869 271L1944 198L1947 203L1878 259L1958 176L1998 171L1834 368L2038 126L1959 185L1974 111L1917 232L1913 228L1965 196L2001 116L1961 185L1930 244L1971 190L1918 209L1899 259L1980 128L1909 215L1911 228L1963 200L1988 119L1943 197L1887 220L1944 221L1976 194L1909 280L2004 90L1912 247L1914 243L1966 152L1895 243L1858 250L1937 220L2011 133L2003 115L2016 144L1943 196L1932 187L1908 218L2003 182L1896 270L1916 223L1933 211L1920 228L1963 168L1905 244L1906 244L1875 250L1971 174L1909 246L1910 267L2015 49L1885 290L1967 166L1869 328L1966 212L2006 147L1945 200L1915 234L1927 196L1937 209L1917 242L1907 239L2025 89L1952 167L1987 151L1933 231L1952 197L1868 312L2029 106L1963 177L1919 218L1990 158L1964 162L1919 224L1907 227L1924 201L1906 206L1927 234L1899 233L1902 207L1999 132L1876 273L1908 276L1960 147L1916 214L1999 163L1925 216L1962 201L1951 195L1984 190L1915 241L1926 206L1912 180L1908 221L1987 136L1931 228L1929 205L1946 189L1967 192L1898 218L1919 257L2026 136L1898 228L1889 278L1989 170L2055 81L2063 72L1943 212L1931 223L1940 193L1883 286L1845 262L1937 208L1938 190L1955 175L1933 214L1938 237L1991 184L1895 237L1943 189L2019 78L2004 143L2034 129L1937 192L1931 216L1925 196L1828 284L1989 155L1966 194L1991 88L1899 218L1938 212L1918 231L1883 296L2017 125L1966 172L1963 207L1897 236L1986 179L1914 253L1971 167L1942 213L1956 187L1907 233L1910 217L1969 186L1968 175L1908 256L1865 313L1957 168L1912 231L1956 175L1961 162L1976 181L1959 223L1933 212L1967 182L1979 139L1902 256L1953 184L1947 185L1887 243L1994 125L1960 188L1959 186L1868 295L1939 214L1898 254L1924 221L1939 204L1986 154L1959 205L1806 359L1972 178L1912 258L1982 172L1952 175L1965 140L1935 194L1972 183L1943 211L1894 247L1905 207L1907 251L1945 208L1943 211L1876 331L1882 230L1961 180L1919 229L1954 212L1904 261L1998 166L1994 158L2065 76L1942 181L1981 144L1892 230L2018 126L1919 248L1987 150L1941 224L2015 106L1940 181L1897 231L1895 221L1928 196L1922 217L1993 168L1945 213L1980 175L1924 226L1994 170L1940 211L1916 246L1933 208L1870 272L1887 261L2045 121L1938 211L1986 166L1859 332L1949 192L1990 164L1971 191L2000 144L1910 233L2020 141L1884 287L1888 261L1957 190L1950 177L1928 240L1836 307L1910 242L1959 177L1869 303L1944 203L1993 160L1846 270L1866 307L1959 203L2055 78L1965 186L2042 83L1908 213L1863 300L1954 188L1897 216L2008 155L1958 197L1921 207L1946 200L1945 217L1997 161L2001 151L1920 198L1949 205L1916 218L2026 99L1923 244L1910 239L1952 203L1999 163L1908 228L1963 188L1985 186L2015 75L2030 108L2031 109L2002 145L1950 187L1861 293L2019 192L1958 171L1956 185L2004 130L1854 320L1927 216L1920 228L2017 193L1993 130L1968 175L1944 195L1952 204L1976 182L1939 212L1888 246L1938 227L1937 231L2006 124L2031 123L1973 188L1902 247L1960 169L1929 198L1985 175L1933 228L2019 136L1981 144L1929 225L1956 200L1883 287L1956 185L2021 164L1964 200L1993 135L1947 175L1924 232L1893 269L1946 188L1999 149L1908 246L1921 233L1922 239L1938 215L1933 236L1947 189L1970 183L1889 288L1887 274L1927 250L1971 200L1910 251L1978 130L1925 226L1923 226L1933 170L1891 258L1905 234L1917 218L1892 209L1950 221L1972 179L1888 249L1917 215L1916 213L1947 192L1948 202L1924 213L1973 178L2042 53L1889 234L1938 204L1905 208L1904 245L1908 200L1997 172L1920 219L1921 231L1892 249L1892 237L2049 100L2015 118L1911 242L1898 247L1972 154L1928 238L1937 180L1953 192L1847 314L1965 194L2001 153L1902 257L1937 192L1915 264L1937 199L2010 157L2007 119L1961 195L1901 265L1983 156L1989 118L1942 204L2027 146L1921 232L1924 219L1903 220L1880 287L1865 319L1967 166L1932 199L1969 185L1939 200L2031 121L1958 178L1996 138L1989 175L1929 250L1939 169L1952 191L1953 189L1882 282L1933 209L1902 246L1908 264L1912 250L1978 140L1967 180L1916 260L1917 199L1993 145L1930 215L1960 184L1960 196L1943 207L1989 178L1999 145L1919 227L1947 202L1960 193L1865 266L1940 178L1958 218L1996 160L1965 141L1990 174L1937 234L1971 163L1895 242L1983 145L1911 249L1891 284L1955 188L1999 137L1927 244L2010 128L1940 221L1894 239L1898 237L1969 181L1869 269L2004 156L1885 238L1948 206L1996 152L1961 189L1908 234L1903 280L1917 206L1990 109L1985 126L1952 199L1962 198L1974 177L1953 205L1935 194L1932 225L1954 177L1933 232L1872 309L1988 156L1962 164L1954 183L1919 257L1969 176L1967 195L1935 177L1904 241L1999 148L1947 230L1976 176L1998 146L1925 213L1931 223L2010 110L1946 186L1978 155L1943 200L1959 176L1957 196L1938 200L1898 249L1975 166L1929 217L1920 208L1925 250L1888 252L1951 201L1884 267L1904 255L1941 216L1955 201L1921 229L2006 102L1983 174L1942 189L1977 196L1939 218L1974 158L1918 188L1929 174L1934 213L2025 129L1921 198L1940 198L1886 221L1984 151L1972 180L1921 254L1958 167L1979 147L1972 187L1884 249L1949 181L1929 231L1961 192L1870 293L1903 266L1917 211L2044 50L1923 202L1938 200L1912 236L1868 236L1908 227L1916 225L1890 265L1981 151L1857 270L1884 257L1964 190L1928 222L1959 170L2001 134L2028 136L2019 128L1975 171L1945 214L1958 153L1948 197L1942 192L1933 213L1951 174L1983 180L1914 232L1978 147L1932 177L1934 187L2003 104L1950 186L1875 315L1915 218L1988 157L1987 145L2008 169L1905 260L1896 216L1901 262L1924 206L1921 211L1965 189L1839 337L1887 224L1910 257L1958 185L1901 223L1981 156L1909 255L1852 286L1958 200L1943 151L1892 292L1968 183L1920 214L1936 193L1964 161L1947 230L2000 178L1987 151L1881 265L1980 182L1943 213L1898 262L1997 131L1940 206L1947 193L1949 221L1981 178L1828 301L1889 262L1937 217L1965 184L1929 233L1929 234L1943 181L1985 149L1882 242L1982 122L1843 306L1927 200L1894 261L2042 72L1855 294L2001 154L1967 175L1878 285L1991 128L1915 210L1910 231L1940 225L1955 195L1822 354L1904 259L1899 263L1834 290L1944 197L1929 215L1930 234L1875 271L1985 153L2011 161L1930 227L1995 113L1918 214L1930 232L1936 226L2009 120L1993 142L1835 292L1945 236L1945 184L2016 149L1975 162L1933 216L1964 170L1970 181L1883 234L1998 156L1940 192L1864 272L2047 86L1910 196L1941 200L1922 220L1862 319L1876 250L1937 189L1852 313L2005 154L1859 309L1926 220L1998 116L2009 120L1919 236L1876 242L1996 145L1902 231L1962 179L1890 252L1916 216L1967 169L1922 196L1975 146L1978 153L1958 203L1861 311L1968 160L1949 194L2021 129L1863 325L1927 207L1973 174L1977 167L1909 245L1974 152L1892 277L1946 166L1890 285L1959 177L1914 233L1962 210L1940 196L1981 140L1938 231L2000 126L1913 213L1986 159L1837 326L1908 255L1937 225L1958 156L1889 236L1917 218L1935 189L1910 222L1907 235L1940 187L1872 309L2002 132L2015 150L1950 185L2018 124L1921 212L1936 221L1974 203L1896 222L1919 233L1957 169L1964 196L1916 210L1936 220L1979 143L2036 132L1910 250L1956 195L1990 206L1983 172L1929 207L1950 210L2007 123L1919 223L1892 281L1928 212L1945 211L1880 307L2011 123L1906 217L1964 186L1914 211L1955 164L1957 197L1914 245L1952 189L1967 169L1895 257L1899 237L1883 278L1903 256L1929 190L1930 240L1928 205L1965 175L2028 86L1945 181L1882 270L1903 240L2012 141L2011 154L2003 175L1903 223L1937 206L1940 202L1933 229L1928 216L1901 236L2018 161L1917 234L1942 202L1909 238L1941 205L2008 130L1876 309L1967 183L1914 258L1927 220L1911 242L1980 149L1965 182L1881 249L2006 108L1992 145L1957 187L1996 152L2035 86L1927 219L1870 296L1928 176L1905 223L1944 205L1968 209L1982 124L1954 191L1948 187L1919 224L1963 187L1958 181L1972 189L1917 237L1993 144L1868 311L2026 107L1884 284L1947 176L2012 138L1928 185L1898 217L1956 187L1997 135L1904 273L1941 195L2001 196L2000 130L2007 117L1950 188L1958 196L1936 207L1921 251L1877 259L1964 178L1889 239L1924 259L2009 165L2040 87L1921 267L1910 208L2000 136L1866 292L1928 209L1935 204L1869 295L2004 169L1981 119L1969 198L1995 184L1956 195L1995 123L1949 169L1984 168L1898 198L1923 215L1936 217L1870 282L1936 193L1918 257L1894 254L1952 182L1924 212L1947 172L1938 204L1966 158L1900 256L1929 253L1998 122L1942 151L1997 104L2010 112L1878 234L1959 204L1943 190L1984 155L1918 214L1907 241L1974 194L1957 218L1900 272L1937 197L1939 192L1945 203L1962 185L1947 182L1916 209L1892 260L1864 297L2011 123L1997 176L1896 241L1977 151L1867 269L1938 206L1962 187L1866 309L1877 302L1935 189L1909 252L1890 295L1944 208L1930 231L1962 201L1965 190L1976 184L1960 177L1937 181L1948 209L1971 186L1917 229L1949 171L1864 291L1991 155L1955 166L1886 260L1976 178L1863 310L1949 192L2022 88L1872 251L1981 132L1934 220L1947 174L1968 146L1975 178L1896 212" fill="none" stroke="none" marker-start="url(#mg)" marker-mid="url(#mg)" marker-end="url(#mg)"/>
<path d="M1870 260L1902 216L1946 180L1867 260L1993 127L1912 185L1890 231L1931 202L1937 184L1934 171L1862 285L1925 200L2071 56L1866 268L1920 212L1880 256L2008 115L1925 201L1969 159L1952 187L1959 162L1908 220L1937 197L1898 227L1951 157L1971 149L1933 184L1910 208L1935 182L1874 217L1932 193L1885 252L1974 150L1985 135L1974 167L1884 250L1993 125L1953 193L1960 133L1884 249L2035 88L1994 131L1894 235L1988 136L1844 290L1901 231L1960 178L1930 197L1903 239L1996 116L1903 215L1934 167L1890 202L1933 178L1853 225L1950 196L1919 191L1830 292L1998 126L1964 164L1894 241L1894 221L2016 118L1881 265L1846 278L1962 152L1893 248L1875 245L1924 214L1988 142L1979 154L1958 161L1940 178L1832 302L1891 238L1964 165L1898 202L1951 172L1935 191L1888 231L1973 160L1930 207L1910 212L1998 128L1915 221L1896 240L1891 241L1877 261L1913 220L1929 190L1918 211L1965 171L1868 262L1973 158L1989 132L1960 159L1883 236L1870 256L1907 225L1844 288L1946 143L1910 203L1883 222L1892 230L1852 282L1925 213L1933 200L1992 136L1854 282L1867 258L1942 192L1978 144L1890 231L1877 253L1978 126L2008 108L1898 243L1913 224L1977 163L1971 150L1919 220L1914 192L1919 198L1958 174L1886 250L1982 147L1926 208L1955 181L1887 229L1969 150L1924 209L1916 208L1899 237L1985 143L1961 155L1899 248L1956 177L2017 88L1943 189L1996 137L1948 174L1902 212L1954 187L1836 300L1850 299L1923 211L1934 207L1908 225L1937 183L1811 328L2026 101L1942 182L1878 262L1920 218L1945 176L1879 255L1917 215L1875 267L1894 239L1894 217L1920 183L1848 293L1997 120L1853 292L1922 214L1966 154L1885 237L2031 99L1894 233L1915 200L1902 210L1923 200L1923 196L1934 198L1924 184L1908 212L1988 147L1908 213L2023 97L1967 155L1913 218L1909 210L1900 233L1877 250L1922 214L1938 178L1852 268L1910 190L2011 113L1946 180L1821 318L1875 236L1907 232L1890 247L1902 243L1948 176L1884 247L1871 229L1921 197L1986 152L1902 230L1872 253L1925 203L2049 60L1940 198L1971 162L1908 224L1959 158L1889 237L1964 182L1945 187L1867 277L1894 239L1885 240L1899 223L1825 302L1999 115L1933 190L1910 217L1907 220L1957 174L1857 280L1880 242L1941 198L2016 94L1900 240L1906 208L1887 249L1897 236L1951 173L1941 174L1876 245L1951 171L1932 187L1988 143L1909 205L1940 195L1830 289L1970 147L1898 229L1850 292L1949 165L1870 273L1856 274L1955 155L1861 273L1986 152L1914 225L1903 234L1789 347L1938 187L2038 81L1973 147L1897 224L1841 281L1929 201L1931 184L1907 224L1960 155L1976 157L1918 182L1904 200L1893 234L1958 179L1872 268L2058 71L1975 167L1982 156L1939 193L1956 173L1833 270L1979 133L2007 122L1857 272L1920 217L1931 188L1948 177L1880 256L1939 195L1910 204L1910 212L1942 168L1882 236L1952 140L1956 155L1928 211L1879 239L1934 205L1897 238L1963 165L1873 253L1954 186L1978 151L1885 254L1937 199L1862 268L1955 160L1942 190L1910 221L1902 214L1933 178L1951 184L1869 249L1916 217L1964 175L1978 142L1846 291L1870 248L1970 158L1966 148L1978 159L1842 276L1904 225L1941 178L1876 235L1962 133L1988 127L1909 220L2041 61L1870 243L1902 203L1982 151L1908 227L1930 170L1904 228L1861 260L1927 207L1972 150L1900 240L1920 207L1917 220L1903 217L1880 264L1877 271L1937 192L1885 256L1886 236L1837 292L1938 205L1918 199L1887 250L1959 171L1924 188L1892 248L1966 168L2023 93L1848 264L1938 183L1885 226L1964 158L1924 210L1917 209L1875 251L1913 213L1943 182L2036 82L1930 187L1948 181L1889 241L2031 63L1985 129L1945 192L1887 233L1919 215L1826 311L1931 194L1896 236L1884 236L1972 153L1930 188L1895 234L2032 82L1945 189L1895 237L2005 117L1926 202L1980 133L1936 210L1942 159L1897 250L1903 216L1936 193L1922 215L1951 183L1898 235L1853 276L1848 287L1935 183L1925 197L1844 283L1948 170L1881 254L2004 94L1874 257L1893 235L1962 176L1887 245L1994 123L1955 163L1963 144L1942 186L1937 209L1930 200L1854 277L1933 201L1895 238L1933 148L1931 180L1958 168L1825 313L1955 160L1968 165L1912 207L1964 152L1892 217L1868 253L1965 158L1940 187L1973 152L1991 141L1902 232L1909 216L1933 196L1846 274L1890 242L1963 167L1854 286L1905 210L1970 146L1910 232L1945 183L1915 224L1968 161L1915 213L1860 273L1911 206L1949 183L1914 210L1937 177L1851 275L1919 212L1939 181L1829 309L1912 227L1944 177L1900 223L1950 169L1957 158L1944 180L1959 162L1871 271L1892 234L1942 176L1882 251L1955 167L1969 155L1990 133L1842 278L1969 144L1882 247L1949 174L1956 169L1918 204L1909 213L1921 210L1911 211L1925 202L1860 287L1906 208L1964 176L2001 117L1902 205L1906 215L1868 276L1951 193L1927 200L1949 180L1940 189L1966 153L1932 183L2001 132L1923 194L1882 260L1916 213L1989 137L1882 253L1865 270L1955 173L1896 242L1834 286L1920 217L1894 220L1871 243L1934 203L1995 132L1920 222L1911 215L1951 157L1968 154L1968 169L1872 269L1934 194L1911 220L1921 218L1915 218L1932 190L1950 181L1954 171L1938 141L1951 160L1929 208L1977 156L1873 250L2019 84L1954 185L1951 183L1936 178L1905 213L1927 210L1845 290L1855 258L1960 149L1923 202L1915 211L1919 211L1892 243L1857 264L1903 223L1903 222L1923 205L1869 271L1944 191L1963 154L1892 252L1899 221L1893 211L2007 83L1933 189L1898 231L1962 169L1963 165L1896 234L1900 220L1963 162L1923 186L1907 219L1885 245L1878 252L1924 207L1875 251L1914 171L1922 204L1791 321L2019 83L1926 206L2002 120L1874 261L1973 145L2005 108L1944 187L1987 127L1937 182L2004 120L1833 299L1900 233L1964 163L1861 270L1859 271L1860 230L1941 168L1874 252L1918 223L1957 174L1870 255L1946 191L1940 186L1903 228L1993 143L1883 247L1963 164L1962 156L1819 328L1982 146L1905 204L2009 122L1965 166L1864 271L1893 252L1965 158L1909 222L1937 193L1889 240L1846 282L2001 109L1947 166L1905 212L1860 258L1883 259L1933 201L2044 76L1923 211L1878 203L1945 169L1951 135L1966 157L1924 205L1980 142L1923 187L1848 277L2012 109L1892 232L1871 259L1975 149L1965 155L1938 186L1930 197L1932 197L1879 254L1908 229L1978 161L1958 160L1919 214L1992 149L1955 163L1928 184L1871 240L1938 187L2001 113L1970 156L1979 161L1924 201L1922 207L1959 162L1881 244L1950 166L1882 254L1945 180L1893 247L1873 251L1930 219L1862 260L1899 236L1887 240L1851 287L1931 203L1938 180L1890 238L2034 72L1890 229L1864 234L1803 290L1802 299L1844 236L1851 286L1876 214L1847 292L1860 252L1855 221L1875 259L1863 247L1861 254L1835 276L1808 313L1859 275L1808 280L1854 250L1808 326L1824 256L1845 236L1816 299L1843 243L1808 277L1838 300L1834 282L1854 225L1839 256L1831 260L1807 287L1812 292L1815 304L1812 307L1847 259L1831 273L1868 247L1847 262L1880 237L1856 268L1820 274L1846 277L1804 285L1830 265L1834 266L1845 232L1874 235L1839 286L1861 271L1824 263L1801 296L1846 259L1826 305L1877 212L1865 267L1864 261L1815 292L1849 282L1862 239L1873 206L1856 260L1877 215L1853 150L1882 142L1887 157L1892 155L1938 145L1946 134L1951 134L1957 120L1970 118L1825 216L1828 226L1839 209L1844 209L1852 209L1804 226L1833 229L2035 48L2062 56L2066 60L2024 72L2032 72L1829 286L1839 306L1841 269L1852 273L1820 316L1801 300" fill="none" stroke="none" marker-start="url(#mbl)" marker-mid="url(#mbl)" marker-end="url(#mbl)"/>
<path d="M1880 265L1927 225L1977 165L1927 193L1918 246L1883 272L1965 167L1984 133L2008 125L1993 140L1917 217L1942 205L2021 108L1920 226L2035 108L1970 164L1961 174L1921 231L1934 216L1973 147L1904 234L1900 256L1931 212L1922 260L1997 148L1914 221L1916 250L1960 177L1906 227L1956 204L2012 125L1894 246L1945 185L1885 247L1979 154L1965 159L1970 171L1906 224L1980 158L1946 187L1837 307L1838 308L1983 132L1921 218L1937 239L1970 173L1943 215L1938 205L1992 145L1923 226L1938 218L2002 130L1888 257L1987 175L1946 201L2035 98L1923 230L2017 130L2033 129L1932 216L1911 237L1968 184L1881 246L2000 151L1952 228L1983 179L1917 197L1888 258L1896 277L1892 250L1886 269L1970 175L1886 239L1945 179L1897 225L1885 287L1923 228L1951 201L1966 158L1913 252L1923 210L1973 174L1900 247L1979 173L1993 146L1952 201L1996 145L1879 257L1923 207L1947 206L1947 204L1906 240L1974 168L1936 216L1963 176L1979 158L2027 136L1938 199L1976 188L1890 257L1983 144L1878 268L1988 154L1898 259L1885 245L1929 222L1904 244L1903 257L1938 210L1958 183L1988 155L1950 190L1907 222L1917 251L1991 142L1917 215L1979 153L1892 252L1897 258L1917 241L1960 195L1965 176L1915 228L1968 159L1929 191L1963 162L1885 277L1989 156L1959 168L1881 260L2019 111L1943 193L1940 193L1993 152L1963 176L1970 161L1896 234L1975 183L1928 238L1928 212L1893 265L1904 252L1908 253L1963 183L1906 226L1917 216L1889 237L1921 237L1956 206L1896 247L1920 220L1945 195L1945 189L1940 189L1978 192L1868 257L1922 221L1935 206L2029 121L1942 202L1896 263L1929 216L1955 216L1876 248L1932 201L1922 233L2025 132L1903 234L1940 227L1945 189L1878 278L1971 144L1845 313L1941 217L1903 250L1960 198L1975 156L1974 147L1918 228L1980 144L1978 171L1920 244L1922 236L1920 231L1973 158L1937 223L1937 201L1974 166L1972 180L1966 167L1925 231L1989 167L1967 180L1925 223L1922 224L2012 109L1934 204L1976 172L2014 127L1965 192L1894 266L1913 218L1927 206L1923 236L1946 203L1872 275L1987 158L1891 266L1890 260L1901 247L1946 179L1893 283L2005 130L1925 213L1902 249L1967 181L1945 193L1944 203L1960 165L1991 164L1970 200L1882 259L1961 163L1870 263L1917 235L1957 166L1901 269L1915 232L1988 149L1927 225L1921 211L1872 285L1904 226L1944 209L1970 146L1981 180L1931 198L1866 299L1923 215L1906 238L1933 208L1891 287L1852 294L1979 157L1874 298L1927 231L1865 291L1907 241L1954 187L1946 191L1935 217L1925 204L1928 206L2006 111L1852 294L1978 171L1910 256L1912 234L1863 286L1905 241L1895 251L1945 209L1912 221L1964 190L1956 204L1918 269L1916 220L1919 218L1913 229L1933 226L2023 129L1884 261L1958 181L1934 204L1976 158L1883 240L1937 236L1972 173L1950 166L1917 238L1899 245L1965 173L1945 229L1949 180L1918 235L1898 245L1876 245L1931 223L1890 250L1978 173L1946 195L1978 157L1988 174L2044 103L1893 266L1954 179L2037 86L1908 243L1920 234L1932 222L1986 152L1964 182L1892 249L1923 195L1988 171L1899 255L1930 199L1931 207L1926 223L1988 154L2018 124L1954 184L1965 151L1911 242L1901 220L1958 180L1957 213L1970 171L1951 192L1935 211L1916 233L1964 209L1972 162L1896 244L1951 200L2007 132L1933 230L2026 111L1951 196L2022 121L2002 124L1978 156L1985 159L1855 331L1984 188L1993 106L1863 277L1958 196L1859 291L2007 136L1939 205L1941 200L2031 122L1865 271L1918 235L1883 267L1921 218L1923 243L1959 186L1863 291L1969 175L1926 211L1913 243L1960 186L1914 229L1949 182L1979 162L1938 220L1947 202L1972 159L1965 180L1952 171L2007 142L1825 316L1877 270L1957 166L1932 215L1916 226L1890 249L1953 172L1927 214L1947 198L1900 254L1941 197L1981 170L1949 186L1974 166L1947 202L1940 207L1869 288L1843 299L1974 173L1946 196L1929 195L1932 209L1937 180L1874 271L1886 271L1901 235L1896 265L1926 233L1899 225L1913 244L1994 146L1984 181L1927 211L1948 188L1989 145L1983 148L1909 234L1992 164L1961 174L1993 172L2035 127L1939 170L1885 230L1950 167L1998 142L1908 242L1887 279L1955 209L1954 191L1934 225L1890 246L1901 254L1932 203L2019 94L1971 162L1966 180L1931 238L1962 189L1955 158L1974 153L1975 176L1913 253L1916 227L1967 168L1925 236L1941 199L1860 287L1882 272L1934 225L1919 227L1899 238L1966 170L1897 253L1926 218L1969 181L1940 193L1926 209L1938 226L1937 205L1922 196L1923 242L1933 215L1960 149L1945 188L1910 249L1911 238L1921 225L1913 250L1908 228L1893 243L2005 150L1975 156L1832 305L1965 189L2010 156L1991 147L1898 248L1877 262L1961 166L1995 156L1959 194L1822 315L1986 153L2009 133L1869 285L1928 214L1922 255L1889 260L1984 168L1886 268L1976 150L1899 238L1992 139L1894 244L1919 234L2016 125L1959 168L2005 133L1914 233L1911 236L1934 232L1907 259L1936 197L1968 173L1900 248L1884 256L1876 280L2008 127L1899 251L1897 261L1922 236L1946 183L1904 256L1906 249L1944 210L1903 253L1978 151L1981 159L1900 227L2028 122L1914 217L1966 172L2023 121L1906 245L1948 194L1989 143L1909 226L1931 193L1985 166L1961 201L1957 186L1957 204L1904 250L1929 207L1905 270L1916 219L1973 188L1965 178L1968 173L1989 163L2026 99L1891 278L1980 185L1906 233L1932 211L1851 309L1959 156L1955 189L1943 187L1964 192L1858 294L1922 198L1903 233L1857 281L1885 262L1929 215L1938 224L1962 195L1936 222L1936 211L1930 227L1987 159L1940 236L1961 205L1929 246L2014 153L1926 237L1885 287L1996 116L1932 202L1917 245L2010 123L1890 259L1936 214L1933 222L1933 218L1923 234L1999 149L1928 215L1937 227L1971 190L1909 232L1928 229L1936 221L1912 252L1885 277L1938 215L1930 204L1917 256L1939 182L1818 337L1890 279L1968 177L1934 230L1915 248L1997 147L1854 300L1995 159L1924 223L1955 184L1910 242L1963 196L1922 220L1926 235L2002 139L1924 264L1980 151L1933 212L1902 217L1972 140L2027 140L1962 212L1951 194L1913 224L1942 208L1926 207L1956 177L1949 202L1917 226L1908 248L1969 172L1928 215L1921 207L1929 217L1890 268L1884 258L1959 177L1923 223L1951 199L1869 252L1957 175L1969 185L1935 217L1980 161L1908 234L2048 92L1876 253L1875 259L1871 238L1825 320L1809 333L1849 347L1835 307L1821 335L1838 296L1856 272L1881 227L1856 302L1807 302L1807 322L1850 331L1845 328L1841 261L1867 277L1866 300L1827 355L1878 298L1850 288L1867 259L1824 298L1833 282L1860 268L1878 234L1813 352L1809 318L1810 347L1810 304L1851 307L1869 256L1860 302L1841 295L1852 288L1798 386L1811 299L1841 303L1808 325L1824 369L1821 303L1841 292L1835 296L1818 326L1867 222L1839 315L1828 279L1852 318L1857 255" fill="none" stroke="none" marker-start="url(#mgr)" marker-mid="url(#mgr)" marker-end="url(#mgr)"/>
</g>
<rect x="1941" y="262" width="153" height="69.2" fill="#fff" stroke="#000" stroke-width="1.5"/>
<circle cx="1956.5" cy="278.8" r="4.6" fill="none" stroke="#2a2ae0" stroke-width="1.3"/>
<circle cx="1956.5" cy="305" r="4.6" fill="none" stroke="#19e619" stroke-width="1.3"/>
<text x="1976" y="285" font-size="21">decreasing</text>
<text x="1976" y="311.5" font-size="21">increasing</text>
<rect x="1803.6" y="40.6" width="290.4" height="290.6" fill="none" stroke="#000" stroke-width="1.6"/>
<line x1="1841.2" y1="331.2" x2="1841.2" y2="345.0" stroke="#000" stroke-width="1.5"/>
<text x="1841.2" y="369.5" font-size="21" text-anchor="middle">−4</text>
<line x1="1790.0" y1="319.8" x2="1803.6" y2="319.8" stroke="#000" stroke-width="1.5"/>
<text x="0" y="0" font-size="21" text-anchor="middle" transform="translate(1782,319.8) rotate(-90)">−4</text>
<line x1="1895.0" y1="331.2" x2="1895.0" y2="345.0" stroke="#000" stroke-width="1.5"/>
<text x="1895.0" y="369.5" font-size="21" text-anchor="middle">−2</text>
<line x1="1790.0" y1="252.7" x2="1803.6" y2="252.7" stroke="#000" stroke-width="1.5"/>
<text x="0" y="0" font-size="21" text-anchor="middle" transform="translate(1782,252.7) rotate(-90)">−2</text>
<line x1="1948.8" y1="331.2" x2="1948.8" y2="345.0" stroke="#000" stroke-width="1.5"/>
<text x="1948.8" y="369.5" font-size="21" text-anchor="middle">0</text>
<line x1="1790.0" y1="185.6" x2="1803.6" y2="185.6" stroke="#000" stroke-width="1.5"/>
<text x="0" y="0" font-size="21" text-anchor="middle" transform="translate(1782,185.6) rotate(-90)">0</text>
<line x1="2002.6" y1="331.2" x2="2002.6" y2="345.0" stroke="#000" stroke-width="1.5"/>
<text x="2002.6" y="369.5" font-size="21" text-anchor="middle">2</text>
<line x1="1790.0" y1="118.5" x2="1803.6" y2="118.5" stroke="#000" stroke-width="1.5"/>
<text x="0" y="0" font-size="21" text-anchor="middle" transform="translate(1782,118.5) rotate(-90)">2</text>
<line x1="2056.4" y1="331.2" x2="2056.4" y2="345.0" stroke="#000" stroke-width="1.5"/>
<text x="2056.4" y="369.5" font-size="21" text-anchor="middle">4</text>
<line x1="1790.0" y1="51.4" x2="1803.6" y2="51.4" stroke="#000" stroke-width="1.5"/>
<text x="0" y="0" font-size="21" text-anchor="middle" transform="translate(1782,51.4) rotate(-90)">4</text>
<text x="1721" y="31" font-size="37" font-weight="bold">e</text>
<text x="1860.7" y="400.9" font-size="32" fill="#231f20" textLength="182.7" lengthAdjust="spacingAndGlyphs">gene-relative</text>
<text x="0" y="0" font-size="32" fill="#231f20" textLength="219.1" lengthAdjust="spacingAndGlyphs" transform="translate(1759.5,291.9) rotate(-90)">structure-based</text>
<line x1="168.4" y1="1225.2" x2="168.4" y2="513.7" stroke="#cfcfcf" stroke-width="2" stroke-dasharray="9 4.8"/>
<line x1="298.3" y1="1225.2" x2="298.3" y2="513.7" stroke="#cfcfcf" stroke-width="2" stroke-dasharray="9 4.8"/>
<line x1="428.2" y1="1225.2" x2="428.2" y2="513.7" stroke="#cfcfcf" stroke-width="2" stroke-dasharray="9 4.8"/>
<line x1="558.1" y1="1225.2" x2="558.1" y2="513.7" stroke="#cfcfcf" stroke-width="2" stroke-dasharray="9 4.8"/>
<line x1="688.0" y1="1225.2" x2="688.0" y2="513.7" stroke="#cfcfcf" stroke-width="2" stroke-dasharray="9 4.8"/>
<line x1="817.9" y1="1225.2" x2="817.9" y2="513.7" stroke="#cfcfcf" stroke-width="2" stroke-dasharray="9 4.8"/>
<line x1="947.8" y1="1225.2" x2="947.8" y2="513.7" stroke="#cfcfcf" stroke-width="2" stroke-dasharray="9 4.8"/>
<line x1="109.0" y1="1187.3" x2="1022.7" y2="1187.3" stroke="#cfcfcf" stroke-width="2" stroke-dasharray="9 4.8"/>
<line x1="109.0" y1="1070.4" x2="1022.7" y2="1070.4" stroke="#cfcfcf" stroke-width="2" stroke-dasharray="9 4.8"/>
<line x1="109.0" y1="953.6" x2="1022.7" y2="953.6" stroke="#cfcfcf" stroke-width="2" stroke-dasharray="9 4.8"/>
<line x1="109.0" y1="836.7" x2="1022.7" y2="836.7" stroke="#cfcfcf" stroke-width="2" stroke-dasharray="9 4.8"/>
<line x1="109.0" y1="719.8" x2="1022.7" y2="719.8" stroke="#cfcfcf" stroke-width="2" stroke-dasharray="9 4.8"/>
<line x1="109.0" y1="603.0" x2="1022.7" y2="603.0" stroke="#cfcfcf" stroke-width="2" stroke-dasharray="9 4.8"/>
<line x1="1259.1" y1="1224.8" x2="1259.1" y2="513.7" stroke="#cfcfcf" stroke-width="2" stroke-dasharray="9 4.8"/>
<line x1="1409.2" y1="1224.8" x2="1409.2" y2="513.7" stroke="#cfcfcf" stroke-width="2" stroke-dasharray="9 4.8"/>
<line x1="1559.3" y1="1224.8" x2="1559.3" y2="513.7" stroke="#cfcfcf" stroke-width="2" stroke-dasharray="9 4.8"/>
<line x1="1709.4" y1="1224.8" x2="1709.4" y2="513.7" stroke="#cfcfcf" stroke-width="2" stroke-dasharray="9 4.8"/>
<line x1="1859.5" y1="1224.8" x2="1859.5" y2="513.7" stroke="#cfcfcf" stroke-width="2" stroke-dasharray="9 4.8"/>
<line x1="2009.6" y1="1224.8" x2="2009.6" y2="513.7" stroke="#cfcfcf" stroke-width="2" stroke-dasharray="9 4.8"/>
<line x1="1210.5" y1="1209.0" x2="2124.5" y2="1209.0" stroke="#cfcfcf" stroke-width="2" stroke-dasharray="9 4.8"/>
<line x1="1210.5" y1="1114.9" x2="2124.5" y2="1114.9" stroke="#cfcfcf" stroke-width="2" stroke-dasharray="9 4.8"/>
<line x1="1210.5" y1="1020.8" x2="2124.5" y2="1020.8" stroke="#cfcfcf" stroke-width="2" stroke-dasharray="9 4.8"/>
<line x1="1210.5" y1="926.6" x2="2124.5" y2="926.6" stroke="#cfcfcf" stroke-width="2" stroke-dasharray="9 4.8"/>
<line x1="1210.5" y1="832.5" x2="2124.5" y2="832.5" stroke="#cfcfcf" stroke-width="2" stroke-dasharray="9 4.8"/>
<line x1="1210.5" y1="738.4" x2="2124.5" y2="738.4" stroke="#cfcfcf" stroke-width="2" stroke-dasharray="9 4.8"/>
<line x1="1210.5" y1="644.2" x2="2124.5" y2="644.2" stroke="#cfcfcf" stroke-width="2" stroke-dasharray="9 4.8"/>
<line x1="1210.5" y1="550.1" x2="2124.5" y2="550.1" stroke="#cfcfcf" stroke-width="2" stroke-dasharray="9 4.8"/>
<line x1="129.4" y1="2161.4" x2="129.4" y2="1450.2" stroke="#cfcfcf" stroke-width="2" stroke-dasharray="9 4.8"/>
<line x1="250.4" y1="2161.4" x2="250.4" y2="1450.2" stroke="#cfcfcf" stroke-width="2" stroke-dasharray="9 4.8"/>
<line x1="371.3" y1="2161.4" x2="371.3" y2="1450.2" stroke="#cfcfcf" stroke-width="2" stroke-dasharray="9 4.8"/>
<line x1="492.3" y1="2161.4" x2="492.3" y2="1450.2" stroke="#cfcfcf" stroke-width="2" stroke-dasharray="9 4.8"/>
<line x1="613.2" y1="2161.4" x2="613.2" y2="1450.2" stroke="#cfcfcf" stroke-width="2" stroke-dasharray="9 4.8"/>
<line x1="734.2" y1="2161.4" x2="734.2" y2="1450.2" stroke="#cfcfcf" stroke-width="2" stroke-dasharray="9 4.8"/>
<line x1="855.1" y1="2161.4" x2="855.1" y2="1450.2" stroke="#cfcfcf" stroke-width="2" stroke-dasharray="9 4.8"/>
<line x1="976.1" y1="2161.4" x2="976.1" y2="1450.2" stroke="#cfcfcf" stroke-width="2" stroke-dasharray="9 4.8"/>
<line x1="109.0" y1="2038.8" x2="1022.7" y2="2038.8" stroke="#cfcfcf" stroke-width="2" stroke-dasharray="9 4.8"/>
<line x1="109.0" y1="1907.7" x2="1022.7" y2="1907.7" stroke="#cfcfcf" stroke-width="2" stroke-dasharray="9 4.8"/>
<line x1="109.0" y1="1776.6" x2="1022.7" y2="1776.6" stroke="#cfcfcf" stroke-width="2" stroke-dasharray="9 4.8"/>
<line x1="109.0" y1="1645.5" x2="1022.7" y2="1645.5" stroke="#cfcfcf" stroke-width="2" stroke-dasharray="9 4.8"/>
<line x1="109.0" y1="1514.4" x2="1022.7" y2="1514.4" stroke="#cfcfcf" stroke-width="2" stroke-dasharray="9 4.8"/>
<line x1="1367.2" y1="2161.2" x2="1367.2" y2="1450.1" stroke="#cfcfcf" stroke-width="2" stroke-dasharray="9 4.8"/>
<line x1="1535.7" y1="2161.2" x2="1535.7" y2="1450.1" stroke="#cfcfcf" stroke-width="2" stroke-dasharray="9 4.8"/>
<line x1="1704.2" y1="2161.2" x2="1704.2" y2="1450.1" stroke="#cfcfcf" stroke-width="2" stroke-dasharray="9 4.8"/>
<line x1="1872.7" y1="2161.2" x2="1872.7" y2="1450.1" stroke="#cfcfcf" stroke-width="2" stroke-dasharray="9 4.8"/>
<line x1="2041.2" y1="2161.2" x2="2041.2" y2="1450.1" stroke="#cfcfcf" stroke-width="2" stroke-dasharray="9 4.8"/>
<line x1="1210.5" y1="2135.8" x2="2124.5" y2="2135.8" stroke="#cfcfcf" stroke-width="2" stroke-dasharray="9 4.8"/>
<line x1="1210.5" y1="1968.5" x2="2124.5" y2="1968.5" stroke="#cfcfcf" stroke-width="2" stroke-dasharray="9 4.8"/>
<line x1="1210.5" y1="1801.2" x2="2124.5" y2="1801.2" stroke="#cfcfcf" stroke-width="2" stroke-dasharray="9 4.8"/>
<line x1="1210.5" y1="1634.0" x2="2124.5" y2="1634.0" stroke="#cfcfcf" stroke-width="2" stroke-dasharray="9 4.8"/>
<line x1="1210.5" y1="1466.7" x2="2124.5" y2="1466.7" stroke="#cfcfcf" stroke-width="2" stroke-dasharray="9 4.8"/>
<g fill="none" stroke="#a8a8a8" stroke-width="1"><circle cx="511" cy="832" r="8"/><circle cx="584" cy="829" r="8"/><circle cx="457" cy="805" r="8"/><circle cx="506" cy="837" r="8"/><circle cx="678" cy="804" r="8"/><circle cx="889" cy="809" r="8"/><circle cx="831" cy="819" r="8"/><circle cx="884" cy="827" r="8"/><circle cx="880" cy="815" r="8"/><circle cx="458" cy="1152" r="8"/><circle cx="470" cy="1134" r="8"/><circle cx="474" cy="1141" r="8"/><circle cx="354" cy="681" r="8"/><circle cx="508" cy="927" r="8"/><circle cx="421" cy="851" r="8"/><circle cx="495" cy="1183" r="8"/><circle cx="506" cy="1172" r="8"/><circle cx="466" cy="1150" r="8"/><circle cx="754" cy="759" r="8"/><circle cx="922" cy="815" r="8"/></g>
<g fill="rgba(30,110,240,0.75)" stroke="#2c5fae" stroke-width="1"><circle cx="256" cy="690" r="8"/><circle cx="263" cy="726" r="8"/><circle cx="233" cy="669" r="8"/><circle cx="267" cy="703" r="8"/><circle cx="241" cy="717" r="8"/><circle cx="230" cy="655" r="8"/><circle cx="233" cy="667" r="8"/><circle cx="230" cy="641" r="8"/><circle cx="267" cy="699" r="8"/><circle cx="257" cy="667" r="8"/><circle cx="273" cy="675" r="8"/><circle cx="292" cy="642" r="8"/><circle cx="292" cy="540" r="8"/><circle cx="278" cy="554" r="8"/><circle cx="255" cy="571" r="8"/><circle cx="283" cy="577" r="8"/><circle cx="239" cy="591" r="8"/><circle cx="285" cy="599" r="8"/><circle cx="296" cy="606" r="8"/><circle cx="257" cy="609" r="8"/><circle cx="256" cy="607" r="8"/><circle cx="315" cy="624" r="8"/><circle cx="211" cy="631" r="8"/><circle cx="226" cy="634" r="8"/><circle cx="239" cy="629" r="8"/><circle cx="249" cy="631" r="8"/><circle cx="217" cy="648" r="8"/><circle cx="236" cy="650" r="8"/><circle cx="224" cy="646" r="8"/><circle cx="289" cy="649" r="8"/><circle cx="302" cy="661" r="8"/><circle cx="298" cy="650" r="8"/><circle cx="190" cy="665" r="8"/><circle cx="196" cy="668" r="8"/><circle cx="222" cy="667" r="8"/><circle cx="186" cy="678" r="8"/><circle cx="233" cy="678" r="8"/><circle cx="185" cy="691" r="8"/><circle cx="200" cy="698" r="8"/><circle cx="261" cy="686" r="8"/><circle cx="290" cy="691" r="8"/><circle cx="288" cy="703" r="8"/><circle cx="323" cy="690" r="8"/><circle cx="166" cy="710" r="8"/><circle cx="205" cy="707" r="8"/><circle cx="241" cy="709" r="8"/><circle cx="262" cy="709" r="8"/><circle cx="248" cy="714" r="8"/><circle cx="316" cy="726" r="8"/><circle cx="172" cy="726" r="8"/><circle cx="195" cy="733" r="8"/><circle cx="223" cy="733" r="8"/><circle cx="336" cy="738" r="8"/><circle cx="233" cy="722" r="8"/><circle cx="210" cy="703" r="8"/><circle cx="176" cy="769" r="8"/><circle cx="176" cy="787" r="8"/><circle cx="200" cy="782" r="8"/><circle cx="235" cy="773" r="8"/><circle cx="261" cy="781" r="8"/><circle cx="301" cy="779" r="8"/><circle cx="310" cy="772" r="8"/><circle cx="328" cy="764" r="8"/><circle cx="343" cy="773" r="8"/><circle cx="142" cy="791" r="8"/><circle cx="226" cy="804" r="8"/><circle cx="214" cy="811" r="8"/><circle cx="206" cy="821" r="8"/><circle cx="279" cy="807" r="8"/><circle cx="291" cy="807" r="8"/><circle cx="181" cy="833" r="8"/><circle cx="181" cy="842" r="8"/><circle cx="197" cy="851" r="8"/><circle cx="238" cy="839" r="8"/><circle cx="235" cy="849" r="8"/><circle cx="235" cy="857" r="8"/><circle cx="184" cy="866" r="8"/><circle cx="228" cy="874" r="8"/><circle cx="272" cy="899" r="8"/><circle cx="170" cy="911" r="8"/><circle cx="252" cy="926" r="8"/><circle cx="205" cy="942" r="8"/><circle cx="591" cy="773" r="8"/></g>
<g fill="rgba(40,228,100,0.72)" stroke="#3a9a5a" stroke-width="1"><circle cx="716" cy="808" r="8"/><circle cx="641" cy="786" r="8"/><circle cx="664" cy="812" r="8"/><circle cx="688" cy="795" r="8"/><circle cx="723" cy="803" r="8"/><circle cx="736" cy="794" r="8"/><circle cx="669" cy="808" r="8"/><circle cx="726" cy="797" r="8"/><circle cx="689" cy="800" r="8"/><circle cx="738" cy="818" r="8"/><circle cx="697" cy="818" r="8"/><circle cx="733" cy="821" r="8"/><circle cx="722" cy="829" r="8"/><circle cx="672" cy="807" r="8"/><circle cx="717" cy="811" r="8"/><circle cx="649" cy="783" r="8"/><circle cx="886" cy="835" r="8"/><circle cx="915" cy="791" r="8"/><circle cx="949" cy="777" r="8"/><circle cx="884" cy="783" r="8"/><circle cx="903" cy="802" r="8"/><circle cx="795" cy="832" r="8"/><circle cx="844" cy="798" r="8"/><circle cx="917" cy="773" r="8"/><circle cx="863" cy="799" r="8"/><circle cx="851" cy="807" r="8"/><circle cx="875" cy="817" r="8"/><circle cx="878" cy="800" r="8"/><circle cx="893" cy="806" r="8"/><circle cx="873" cy="807" r="8"/><circle cx="900" cy="829" r="8"/><circle cx="895" cy="790" r="8"/><circle cx="810" cy="816" r="8"/><circle cx="837" cy="832" r="8"/><circle cx="870" cy="787" r="8"/><circle cx="866" cy="805" r="8"/><circle cx="899" cy="801" r="8"/><circle cx="880" cy="832" r="8"/><circle cx="932" cy="792" r="8"/><circle cx="882" cy="805" r="8"/><circle cx="829" cy="815" r="8"/><circle cx="871" cy="801" r="8"/><circle cx="978" cy="817" r="8"/><circle cx="929" cy="796" r="8"/><circle cx="931" cy="823" r="8"/><circle cx="910" cy="783" r="8"/><circle cx="906" cy="814" r="8"/><circle cx="826" cy="820" r="8"/><circle cx="939" cy="823" r="8"/><circle cx="842" cy="789" r="8"/><circle cx="916" cy="796" r="8"/><circle cx="956" cy="792" r="8"/><circle cx="888" cy="818" r="8"/><circle cx="838" cy="798" r="8"/><circle cx="828" cy="802" r="8"/><circle cx="930" cy="841" r="8"/><circle cx="794" cy="825" r="8"/><circle cx="820" cy="821" r="8"/><circle cx="941" cy="822" r="8"/><circle cx="931" cy="794" r="8"/><circle cx="934" cy="828" r="8"/><circle cx="897" cy="791" r="8"/><circle cx="906" cy="783" r="8"/><circle cx="930" cy="783" r="8"/><circle cx="790" cy="803" r="8"/><circle cx="909" cy="828" r="8"/><circle cx="875" cy="832" r="8"/><circle cx="617" cy="752" r="8"/><circle cx="687" cy="741" r="8"/><circle cx="590" cy="832" r="8"/><circle cx="650" cy="842" r="8"/><circle cx="675" cy="855" r="8"/><circle cx="584" cy="868" r="8"/><circle cx="666" cy="829" r="8"/><circle cx="659" cy="813" r="8"/><circle cx="683" cy="1018" r="8"/><circle cx="867" cy="737" r="8"/><circle cx="866" cy="754" r="8"/><circle cx="916" cy="740" r="8"/><circle cx="933" cy="737" r="8"/><circle cx="940" cy="750" r="8"/><circle cx="921" cy="749" r="8"/><circle cx="822" cy="769" r="8"/><circle cx="841" cy="768" r="8"/><circle cx="866" cy="775" r="8"/><circle cx="887" cy="766" r="8"/><circle cx="905" cy="765" r="8"/><circle cx="913" cy="761" r="8"/><circle cx="929" cy="761" r="8"/><circle cx="972" cy="774" r="8"/><circle cx="987" cy="779" r="8"/><circle cx="937" cy="783" r="8"/><circle cx="899" cy="790" r="8"/><circle cx="929" cy="795" r="8"/><circle cx="953" cy="790" r="8"/><circle cx="949" cy="802" r="8"/><circle cx="976" cy="799" r="8"/><circle cx="978" cy="816" r="8"/><circle cx="889" cy="809" r="8"/><circle cx="910" cy="815" r="8"/><circle cx="860" cy="807" r="8"/><circle cx="851" cy="795" r="8"/><circle cx="878" cy="786" r="8"/><circle cx="835" cy="791" r="8"/><circle cx="821" cy="786" r="8"/><circle cx="809" cy="818" r="8"/><circle cx="785" cy="823" r="8"/><circle cx="789" cy="786" r="8"/><circle cx="782" cy="804" r="8"/><circle cx="800" cy="806" r="8"/><circle cx="825" cy="832" r="8"/><circle cx="851" cy="825" r="8"/><circle cx="889" cy="829" r="8"/><circle cx="897" cy="839" r="8"/><circle cx="919" cy="832" r="8"/><circle cx="954" cy="829" r="8"/><circle cx="874" cy="848" r="8"/><circle cx="862" cy="866" r="8"/><circle cx="842" cy="873" r="8"/><circle cx="872" cy="895" r="8"/><circle cx="804" cy="852" r="8"/><circle cx="743" cy="881" r="8"/><circle cx="752" cy="887" r="8"/><circle cx="704" cy="887" r="8"/><circle cx="721" cy="843" r="8"/><circle cx="743" cy="843" r="8"/><circle cx="784" cy="839" r="8"/><circle cx="707" cy="818" r="8"/><circle cx="725" cy="829" r="8"/><circle cx="723" cy="800" r="8"/><circle cx="732" cy="815" r="8"/><circle cx="739" cy="758" r="8"/><circle cx="730" cy="759" r="8"/><circle cx="714" cy="768" r="8"/><circle cx="707" cy="786" r="8"/><circle cx="753" cy="790" r="8"/><circle cx="793" cy="784" r="8"/><circle cx="704" cy="981" r="8"/><circle cx="706" cy="1029" r="8"/></g>
<g fill="rgba(208,235,0,0.75)" stroke="#9aab2a" stroke-width="1"><circle cx="526" cy="844" r="8"/><circle cx="550" cy="846" r="8"/><circle cx="318" cy="821" r="8"/><circle cx="299" cy="862" r="8"/><circle cx="284" cy="885" r="8"/><circle cx="314" cy="884" r="8"/><circle cx="304" cy="895" r="8"/><circle cx="340" cy="894" r="8"/><circle cx="313" cy="903" r="8"/><circle cx="329" cy="925" r="8"/><circle cx="329" cy="929" r="8"/><circle cx="311" cy="958" r="8"/><circle cx="343" cy="955" r="8"/><circle cx="383" cy="953" r="8"/><circle cx="325" cy="969" r="8"/><circle cx="293" cy="1010" r="8"/><circle cx="314" cy="992" r="8"/><circle cx="323" cy="985" r="8"/><circle cx="348" cy="1001" r="8"/><circle cx="386" cy="1010" r="8"/><circle cx="315" cy="1062" r="8"/><circle cx="454" cy="844" r="8"/><circle cx="501" cy="863" r="8"/><circle cx="429" cy="874" r="8"/><circle cx="600" cy="863" r="8"/><circle cx="501" cy="892" r="8"/><circle cx="575" cy="900" r="8"/><circle cx="418" cy="903" r="8"/><circle cx="430" cy="900" r="8"/><circle cx="536" cy="913" r="8"/><circle cx="419" cy="932" r="8"/><circle cx="500" cy="939" r="8"/><circle cx="471" cy="948" r="8"/><circle cx="544" cy="948" r="8"/><circle cx="411" cy="956" r="8"/><circle cx="506" cy="964" r="8"/><circle cx="494" cy="983" r="8"/><circle cx="427" cy="1032" r="8"/><circle cx="434" cy="1034" r="8"/><circle cx="613" cy="1047" r="8"/><circle cx="521" cy="1073" r="8"/><circle cx="521" cy="1074" r="8"/><circle cx="550" cy="1079" r="8"/></g>
<g fill="rgba(200,35,235,0.72)" stroke="#8a3a9e" stroke-width="1"><circle cx="446" cy="1107" r="8"/><circle cx="478" cy="1124" r="8"/><circle cx="495" cy="1144" r="8"/><circle cx="471" cy="1118" r="8"/><circle cx="441" cy="1123" r="8"/><circle cx="459" cy="1143" r="8"/><circle cx="474" cy="1136" r="8"/><circle cx="469" cy="1121" r="8"/><circle cx="461" cy="1151" r="8"/><circle cx="489" cy="1130" r="8"/><circle cx="452" cy="1150" r="8"/><circle cx="460" cy="1146" r="8"/><circle cx="516" cy="1009" r="8"/><circle cx="506" cy="1085" r="8"/><circle cx="418" cy="1153" r="8"/><circle cx="443" cy="1133" r="8"/><circle cx="450" cy="1136" r="8"/><circle cx="473" cy="1126" r="8"/><circle cx="471" cy="1133" r="8"/><circle cx="490" cy="1127" r="8"/><circle cx="452" cy="1165" r="8"/><circle cx="466" cy="1179" r="8"/><circle cx="464" cy="1191" r="8"/><circle cx="476" cy="1158" r="8"/><circle cx="481" cy="1167" r="8"/><circle cx="507" cy="1143" r="8"/><circle cx="516" cy="1114" r="8"/><circle cx="525" cy="1110" r="8"/><circle cx="521" cy="1155" r="8"/><circle cx="531" cy="1129" r="8"/><circle cx="542" cy="1134" r="8"/><circle cx="545" cy="1114" r="8"/><circle cx="557" cy="1103" r="8"/><circle cx="511" cy="1167" r="8"/><circle cx="514" cy="1196" r="8"/><circle cx="500" cy="1151" r="8"/></g>
<g fill="rgba(235,28,28,0.72)" stroke="#b83232" stroke-width="1"><circle cx="587" cy="858" r="8"/><circle cx="580" cy="802" r="8"/><circle cx="543" cy="804" r="8"/><circle cx="538" cy="841" r="8"/><circle cx="515" cy="841" r="8"/><circle cx="522" cy="840" r="8"/><circle cx="629" cy="823" r="8"/><circle cx="593" cy="847" r="8"/><circle cx="484" cy="853" r="8"/><circle cx="451" cy="841" r="8"/><circle cx="545" cy="850" r="8"/><circle cx="458" cy="786" r="8"/><circle cx="495" cy="825" r="8"/><circle cx="508" cy="829" r="8"/><circle cx="451" cy="813" r="8"/><circle cx="465" cy="834" r="8"/><circle cx="536" cy="800" r="8"/><circle cx="519" cy="811" r="8"/><circle cx="476" cy="841" r="8"/><circle cx="452" cy="841" r="8"/><circle cx="579" cy="794" r="8"/><circle cx="468" cy="821" r="8"/><circle cx="512" cy="808" r="8"/><circle cx="471" cy="840" r="8"/><circle cx="494" cy="801" r="8"/><circle cx="512" cy="812" r="8"/><circle cx="469" cy="824" r="8"/><circle cx="499" cy="847" r="8"/><circle cx="477" cy="800" r="8"/><circle cx="494" cy="830" r="8"/><circle cx="473" cy="854" r="8"/><circle cx="448" cy="825" r="8"/><circle cx="477" cy="819" r="8"/><circle cx="495" cy="810" r="8"/><circle cx="474" cy="831" r="8"/><circle cx="467" cy="804" r="8"/><circle cx="578" cy="802" r="8"/><circle cx="515" cy="795" r="8"/><circle cx="560" cy="846" r="8"/><circle cx="697" cy="792" r="8"/><circle cx="666" cy="808" r="8"/><circle cx="669" cy="805" r="8"/><circle cx="638" cy="807" r="8"/><circle cx="706" cy="772" r="8"/><circle cx="699" cy="791" r="8"/><circle cx="686" cy="797" r="8"/><circle cx="727" cy="780" r="8"/><circle cx="728" cy="828" r="8"/><circle cx="725" cy="830" r="8"/><circle cx="727" cy="815" r="8"/><circle cx="755" cy="827" r="8"/><circle cx="723" cy="807" r="8"/><circle cx="648" cy="807" r="8"/><circle cx="742" cy="810" r="8"/><circle cx="695" cy="792" r="8"/><circle cx="726" cy="786" r="8"/><circle cx="763" cy="799" r="8"/><circle cx="343" cy="791" r="8"/><circle cx="344" cy="811" r="8"/><circle cx="362" cy="782" r="8"/><circle cx="392" cy="770" r="8"/><circle cx="386" cy="856" r="8"/><circle cx="381" cy="893" r="8"/><circle cx="423" cy="735" r="8"/><circle cx="406" cy="750" r="8"/><circle cx="412" cy="756" r="8"/><circle cx="402" cy="760" r="8"/><circle cx="451" cy="762" r="8"/><circle cx="499" cy="747" r="8"/><circle cx="511" cy="749" r="8"/><circle cx="487" cy="765" r="8"/><circle cx="495" cy="763" r="8"/><circle cx="532" cy="769" r="8"/><circle cx="427" cy="778" r="8"/><circle cx="421" cy="792" r="8"/><circle cx="471" cy="782" r="8"/><circle cx="500" cy="787" r="8"/><circle cx="544" cy="788" r="8"/><circle cx="558" cy="796" r="8"/><circle cx="437" cy="799" r="8"/><circle cx="469" cy="799" r="8"/><circle cx="483" cy="801" r="8"/><circle cx="502" cy="803" r="8"/><circle cx="442" cy="815" r="8"/><circle cx="468" cy="813" r="8"/><circle cx="497" cy="824" r="8"/><circle cx="452" cy="830" r="8"/><circle cx="481" cy="830" r="8"/><circle cx="518" cy="839" r="8"/><circle cx="540" cy="837" r="8"/><circle cx="594" cy="770" r="8"/><circle cx="595" cy="787" r="8"/><circle cx="608" cy="786" r="8"/><circle cx="623" cy="767" r="8"/><circle cx="637" cy="758" r="8"/><circle cx="632" cy="786" r="8"/><circle cx="600" cy="811" r="8"/><circle cx="631" cy="822" r="8"/><circle cx="652" cy="819" r="8"/><circle cx="649" cy="832" r="8"/><circle cx="583" cy="851" r="8"/><circle cx="637" cy="861" r="8"/><circle cx="610" cy="869" r="8"/><circle cx="471" cy="856" r="8"/><circle cx="475" cy="868" r="8"/><circle cx="412" cy="865" r="8"/><circle cx="418" cy="881" r="8"/><circle cx="526" cy="886" r="8"/><circle cx="599" cy="900" r="8"/><circle cx="632" cy="920" r="8"/><circle cx="645" cy="913" r="8"/><circle cx="422" cy="841" r="8"/><circle cx="708" cy="756" r="8"/><circle cx="751" cy="799" r="8"/><circle cx="750" cy="775" r="8"/></g>
<path d="M587 858L647 870M637 862L647 870L635 873M580 802L626 802M615 796L626 802L615 808M543 804L609 829M600 820L609 829L596 831M511 832L550 856M544 845L550 856L538 855M584 829L643 838M633 830L643 838L631 842M538 841L599 855M590 847L599 855L587 858M515 841L560 846M550 839L560 846L549 850M522 840L574 843M563 836L574 843L563 848M629 823L698 830M688 823L698 830L687 835M593 847L661 857M651 850L661 857L649 861M484 853L546 873M538 864L546 873L534 875M451 841L509 855M500 847L509 855L497 858M545 850L605 859M595 852L605 859L593 863M458 786L516 797M506 790L516 797L504 801M495 825L561 832M550 825L561 832L549 836M508 829L561 831M550 824L561 831L549 836M451 813L496 808M484 803L496 808L486 815M465 834L536 831M525 825L536 831L525 837M536 800L611 812M601 805L611 812L599 816M519 811L580 822M570 814L580 822L568 826M476 841L536 846M526 839L536 846L525 851M452 841L516 856M506 848L516 856L504 859M579 794L651 813M642 804L651 813L639 816M468 821L513 828M503 820L513 828L501 832M512 808L559 814M548 806L559 814L547 818M471 840L522 859M514 849L522 859L510 860M494 801L552 811M542 804L552 811L540 815M512 812L586 831M577 823L586 831L574 834M469 824L514 834M504 826L514 834L501 837M499 847L563 873M555 863L563 873L551 874M477 800L534 827M526 817L534 827L521 828M494 830L553 856M546 847L553 856L541 857M473 854L549 861M538 854L549 861L537 866M448 825L493 835M484 827L493 835L481 839M477 819L534 845M526 835L534 845L521 846M495 810L560 830M551 821L560 830L548 833M474 831L536 840M526 833L536 840L524 845M467 804L507 825M500 814L507 825L495 825M526 844L577 856M568 848L577 856L565 859M457 805L514 804M502 798L514 804L503 810M578 802L645 823M636 814L645 823L632 826M506 837L557 850M548 841L557 850L545 853M515 795L569 801M559 794L569 801L558 806M550 846L626 851M616 844L626 851L615 856M560 846L633 866M624 857L633 866L621 869M716 808L773 813M762 806L773 813L761 817M641 786L692 786M681 780L692 786L681 792M664 812L724 841M717 831L724 841L711 842M697 792L742 799M732 791L742 799L731 803M666 808L731 824M722 816L731 824L719 827M669 805L719 812M709 805L719 812L708 816M688 795L769 809M759 801L769 809L757 813M638 807L721 796M709 791L721 796L711 803M723 803L789 807M778 801L789 807L778 812M706 772L786 780M775 773L786 780L774 785M736 794L797 813M789 804L797 813L785 815M669 808L720 819M710 811L720 819L707 823M726 797L800 796M789 790L800 796L789 802M699 791L752 789M741 784L752 789L741 795M689 800L741 803M731 797L741 803L730 808M686 797L766 798M755 792L766 798L755 804M738 818L818 827M808 820L818 827L806 831M727 780L786 793M776 785L786 793L774 796M728 828L802 838M792 831L802 838L790 842M697 818L748 824M738 817L748 824L737 829M725 830L769 855M763 844L769 855L757 854M733 821L807 831M796 823L807 831L795 835M727 815L802 806M790 802L802 806L791 814M722 829L795 827M784 821L795 827L784 833M672 807L735 812M724 805L735 812L723 817M717 811L778 815M767 808L778 815L766 820M678 804L739 810M729 803L739 810L728 815M755 827L801 833M791 826L801 833L790 838M723 807L808 807M796 801L808 807L797 813M648 807L715 824M705 816L715 824L702 827M649 783L715 789M704 782L715 789L703 794M742 810L791 815M781 808L791 815L779 820M695 792L748 800M738 793L748 800L736 804M726 786L797 792M786 785L797 792L785 796M763 799L810 795M798 790L810 795L799 802M886 835L898 829M886 829L898 829L891 839M889 809L909 825M904 814L909 825L896 823M915 791L941 816M938 804L941 816L929 812M949 777L963 779M953 772L963 779L951 784M884 783L887 808M892 797L887 808L880 798M903 802L925 771M914 777L925 771L923 783M795 832L797 847M801 835L797 847L790 837M831 819L852 833M846 822L852 833L839 831M844 798L872 793M861 789L872 793L863 801M917 773L952 758M939 757L952 758L944 767M863 799L863 827M869 816L863 827L857 816M851 807L879 803M867 799L879 803L869 810M875 817L905 834M898 824L905 834L893 834M878 800L909 815M901 805L909 815L896 815M893 806L900 825M902 813L900 825L891 817M873 807L884 813M877 803L884 813L871 813M900 829L934 842M926 833L934 842L921 844M895 790L892 813M899 802L892 813L888 801M810 816L837 805M824 804L837 805L829 815M837 832L869 832M858 826L869 832L858 838M884 827L895 821M882 821L895 821L888 831M870 787L893 805M888 794L893 805L881 803M866 805L883 792M871 794L883 792L878 803M899 801L910 792M897 795L910 792L905 804M880 832L900 832M889 826L900 832L889 838M932 792L946 809M944 797L946 809L935 804M882 805L900 809M890 801L900 809L888 813M829 815L852 811M841 807L852 811L842 819M871 801L894 794M882 791L894 794L885 803M978 817L1008 817M997 811L1008 817L998 823M929 796L941 808M938 796L941 808L929 804M931 823L944 809M932 813L944 809L941 821M910 783L930 785M920 778L930 785L919 790M906 814L929 809M917 806L929 809L920 817M826 820L863 831M854 822L863 831L851 833M939 823L974 825M964 819L974 825L963 830M842 789L856 790M845 784L856 790L845 795M916 796L930 796M918 790L930 796L918 802M956 792L963 820M966 807L963 820L955 811M888 818L908 836M904 824L908 836L896 833M838 798L864 820M859 809L864 820L852 818M828 802L857 821M851 810L857 821L844 820M930 841L940 849M935 837L940 849L928 847M794 825L818 836M810 826L818 836L806 837M820 821L834 828M827 817L834 828L821 828M880 815L913 830M905 820L913 830L900 831M941 822L971 823M960 817L971 823L960 829M931 794L952 793M941 788L952 793L942 799M934 828L951 829M941 822L951 829L940 834M897 791L912 808M909 796L912 808L900 804M906 783L937 776M925 773L937 776L928 784M930 783L945 795M940 784L945 795L933 793M790 803L825 792M812 790L825 792L816 801M909 828L943 829M932 823L943 829L932 834M875 832L905 853M899 842L905 853L893 852M256 690L311 714M303 704L311 714L299 715M263 726L317 740M308 732L317 740L305 743M233 669L299 702M292 691L299 702L287 702M267 703L321 712M311 704L321 712L309 716M241 717L285 745M279 734L285 745L273 744M230 655L278 674M270 665L278 674L266 675M233 667L303 676M293 669L303 676L292 680M230 641L287 664M278 654L287 664L274 665M267 699L327 726M320 716L327 726L315 726M257 667L307 698M301 687L307 698L295 697M273 675L325 699M317 689L325 699L312 700M292 642L346 676M340 665L346 676L334 675M446 1107L492 1072M480 1074L492 1072L487 1083M458 1152L491 1115M480 1119L491 1115L488 1127M478 1124L508 1088M497 1093L508 1088L506 1100M495 1144L532 1100M521 1105L532 1100L530 1112M471 1118L496 1095M484 1098L496 1095L492 1107M470 1134L510 1094M498 1098L510 1094L507 1106M441 1123L487 1086M475 1088L487 1086L482 1097M459 1143L479 1115M468 1120L479 1115L478 1127M474 1136L506 1097M495 1102L506 1097L504 1109M469 1121L501 1090M489 1094L501 1090L497 1102M461 1151L487 1136M475 1136L487 1136L481 1146M489 1130L511 1081M501 1089L511 1081L512 1094M452 1150L494 1108M482 1112L494 1108L490 1120M474 1141L520 1106M508 1108L520 1106L515 1117M460 1146L494 1106M482 1110L494 1106L491 1118M292 540L345 570M338 559L345 570L332 569M278 554L320 577M313 567L320 577L307 577M255 571L301 590M293 581L301 590L289 591M283 577L326 604M320 593L326 604L314 603M239 591L287 609M279 599L287 609L275 610M285 599L335 620M327 610L335 620L323 621M296 606L350 621M341 613L350 621L338 624M257 609L301 626M293 616L301 626L289 627M256 607L305 621M296 612L305 621L293 623M315 624L359 642M351 633L359 642L346 643M211 631L259 648M250 639L259 648L246 650M226 634L274 648M265 639L274 648L262 651M239 629L290 650M282 640L290 650L277 651M249 631L293 653M286 643L293 653L281 654M217 648L271 666M262 657L271 666L258 668M236 650L283 683M277 672L283 683L270 681M224 646L260 662M253 652L260 662L248 663M289 649L349 666M340 658L349 666L337 669M302 661L354 679M345 670L354 679L341 681M298 650L338 679M333 668L338 679L326 677M190 665L245 681M236 672L245 681L233 684M196 668L235 684M227 675L235 684L222 686M222 667L283 686M274 677L283 686L271 688M186 678L233 685M223 678L233 685L221 689M233 678L271 684M261 677L271 684L259 688M185 691L235 702M225 694L235 702L223 705M200 698L252 717M243 708L252 717L239 719M261 686L310 703M302 694L310 703L298 705M290 691L336 707M328 698L336 707L324 709M288 703L333 717M324 708L333 717L321 719M323 690L369 715M362 705L369 715L357 715M354 681L392 705M386 694L392 705L380 704M166 710L217 728M209 718L217 728L205 730M205 707L255 722M246 713L255 722L243 725M241 709L291 729M283 720L291 729L279 731M262 709L310 734M304 724L310 734L298 734M248 714L297 728M288 719L297 728L284 730M316 726L367 743M359 734L367 743L355 745M172 726L221 741M212 732L221 741L208 744M195 733L243 745M234 736L243 745L231 748M223 733L271 738M260 731L271 738L259 743M336 738L376 750M367 741L376 750L364 752M233 722L281 733M272 725L281 733L269 736M210 703L255 717M246 708L255 717L243 720M176 769L221 790M213 780L221 790L208 791M176 787L221 794M211 786L221 794L209 798M200 782L247 779M235 774L247 779L236 785M235 773L283 792M275 782L283 792L270 793M261 781L314 804M306 794L314 804L301 805M301 779L345 807M339 796L345 807L332 806M310 772L404 782M393 775L404 782L392 786M328 764L369 790M363 779L369 790L357 789M343 773L373 788M366 778L373 788L360 788M142 791L187 816M180 806L187 816L175 816M226 804L276 828M269 818L276 828L263 829M214 811L266 814M255 808L266 814L254 819M206 821L260 820M249 814L260 820L250 826M279 807L328 833M321 823L328 833L315 833M291 807L341 830M333 820L341 830L328 831M318 821L383 809M371 805L383 809L373 817M181 833L229 841M219 834L229 841L218 845M181 842L226 854M217 845L226 854L214 857M197 851L245 861M235 853L245 861L233 865M238 839L287 864M280 853L287 864L275 864M235 849L284 835M272 832L284 835L275 844M235 857L291 848M279 844L291 848L281 856M184 866L233 892M226 882L233 892L220 892M228 874L281 869M270 864L281 869L271 876M299 862L359 855M347 850L359 855L348 862M284 885L345 864M333 862L345 864L336 873M314 884L376 864M364 862L376 864L367 873M304 895L367 883M355 880L367 883L358 891M340 894L367 883M355 882L367 883L359 893M313 903L405 878M393 875L405 878L396 887M272 899L316 922M309 912L316 922L303 922M170 911L217 927M209 918L217 927L205 929M252 926L294 939M285 930L294 939L282 941M205 942L245 958M237 948L245 958L232 959M329 925L383 902M370 901L383 902L375 912M329 929L385 901M372 901L385 901L377 912M311 958L347 935M334 936L347 935L341 946M343 955L398 926M386 926L398 926L391 937M383 953L419 937M407 936L419 937L412 947M325 969L374 951M362 949L374 951L366 960M343 791L404 801M394 793L404 801L392 805M344 811L407 822M397 814L407 822L395 826M362 782L419 797M410 789L419 797L407 800M392 770L419 776M410 768L419 776L407 779M386 856L420 864M411 856L420 864L408 867M381 893L420 906M411 897L420 906L408 908M293 1010L329 987M317 988L329 987L323 998M314 992L359 986M347 982L359 986L349 994M323 985L345 973M332 974L345 973L338 984M348 1001L388 1000M377 994L388 1000L377 1006M386 1010L420 1009M409 1003L420 1009L409 1015M315 1062L353 1046M340 1045L353 1046L345 1055M423 735L472 748M463 740L472 748L460 751M406 750L456 762M447 754L456 762L444 765M412 756L462 767M453 759L462 767L450 770M402 760L447 777M439 767L447 777L435 778M451 762L502 777M493 768L502 777L490 780M499 747L540 755M530 747L540 755L528 758M511 749L569 762M560 754L569 762L557 766M487 765L533 780M524 771L533 780L521 782M495 763L545 780M537 771L545 780L533 782M532 769L580 786M571 776L580 786L567 787M427 778L480 791M470 782L480 791L468 794M421 792L476 813M468 804L476 813L464 815M471 782L523 794M513 786L523 794L511 797M500 787L559 801M550 793L559 801L547 804M544 788L588 798M579 790L588 798L576 801M558 796L614 806M604 798L614 806L602 810M437 799L487 817M478 807L487 817L474 819M469 799L521 817M512 808L521 817L509 819M483 801L542 817M533 808L542 817L530 819M502 803L556 819M547 810L556 819L543 822M442 815L497 830M488 822L497 830L485 833M468 813L521 824M511 816L521 824L509 827M497 824L542 830M532 823L542 830L530 835M452 830L511 851M502 842L511 851L498 853M481 830L535 851M527 842L535 851L522 853M518 839L571 853M562 844L571 853L559 856M540 837L597 848M587 840L597 848L585 851M594 770L649 777M639 770L649 777L637 781M595 787L640 803M632 794L640 803L628 805M608 786L659 799M650 791L659 799L647 802M623 767L683 777M673 769L683 777L671 781M637 758L682 764M671 757L682 764L670 768M632 786L692 794M682 787L692 794L680 798M600 811L649 822M639 814L649 822L637 825M631 822L697 824M686 817L697 824L686 829M652 819L706 834M697 825L706 834L693 837M649 832L707 839M697 832L707 839L696 844M583 851L649 853M638 847L649 853L638 858M637 861L706 861M695 855L706 861L695 867M610 869L676 872M666 866L676 872L665 877M471 856L525 875M516 866L525 875L512 877M475 868L528 872M517 865L528 872L517 877M412 865L459 886M451 876L459 886L447 886M418 881L485 877M473 872L485 877L474 884M526 886L575 891M564 884L575 891L563 896M599 900L637 896M625 891L637 896L626 903M632 920L663 922M652 915L663 922L651 927M645 913L645 903M639 914L645 903L651 914M591 773L645 780M635 772L645 780L634 784M617 752L659 756M649 749L659 756L648 761M687 741L710 742M699 736L710 742L699 747M590 832L707 838M697 832L707 838L696 843M650 842L709 853M699 845L709 853L697 857M675 855L710 860M700 852L710 860L698 864M584 868L635 873M624 866L635 873L623 878M666 829L709 837M699 829L709 837L697 841M659 813L701 817M690 810L701 817L689 822M422 841L487 856M477 848L487 856L475 859M454 844L511 851M501 844L511 851L499 856M501 863L568 863M557 857L568 863L557 869M429 874L459 886M451 876L459 886L447 887M600 863L675 872M664 865L675 872L663 876M501 892L573 886M561 881L573 886L562 892M575 900L635 905M624 898L635 905L624 910M418 903L494 898M482 893L494 898L483 904M430 900L485 879M472 877L485 879L477 888M536 913L597 910M586 905L597 910L586 916M419 932L487 911M474 909L487 911L478 920M500 939L575 932M563 927L575 932L564 939M471 948L545 920M533 918L545 920L537 929M544 948L607 945M596 940L607 945L597 951M411 956L473 941M461 938L473 941L464 949M508 927L580 918M568 914L580 918L570 926M421 851L480 858M469 851L480 858L468 863M506 964L550 964M539 958L550 964L539 970M494 983L545 961M533 960L545 961L538 971M427 1032L466 1006M453 1007L466 1006L460 1017M434 1034L495 1001M483 1001L495 1001L488 1012M613 1047L668 1014M655 1015L668 1014L661 1025M521 1073L535 1054M524 1059L535 1054L533 1066M521 1074L552 1057M540 1057L552 1057L545 1068M550 1079L589 1072M577 1068L589 1072L579 1080M516 1009L550 986M537 987L550 986L544 997M506 1085L538 1055M526 1058L538 1055L534 1067M418 1153L450 1116M439 1121L450 1116L447 1128M443 1133L469 1108M457 1112L469 1108L465 1120M450 1136L466 1112M455 1118L466 1112L465 1124M473 1126L507 1095M495 1098L507 1095L503 1106M471 1133L502 1098M490 1102L502 1098L499 1110M490 1127L511 1098M500 1104L511 1098L509 1110M452 1165L483 1134M471 1138L483 1134L479 1146M466 1179L500 1143M489 1147L500 1143L497 1155M464 1191L500 1150M489 1154L500 1150L498 1162M476 1158L511 1122M499 1126L511 1122L507 1134M481 1167L521 1129M509 1132L521 1129L517 1141M507 1143L542 1091M531 1097L542 1091L541 1104M516 1114L542 1074M531 1080L542 1074L541 1086M525 1110L550 1070M539 1076L550 1070L549 1083M521 1155L542 1124M531 1130L542 1124L541 1136M531 1129L568 1107M555 1107L568 1107L561 1117M542 1134L580 1081M569 1086L580 1081L578 1093M545 1114L576 1084M564 1088L576 1084L572 1096M557 1103L580 1082M568 1086L580 1082L576 1094M511 1167L535 1143M523 1147L535 1143L531 1155M514 1196L539 1169M527 1173L539 1169L536 1181M500 1151L538 1119M526 1121L538 1119L534 1130M495 1183L521 1160M509 1163L521 1160L517 1172M506 1172L521 1157M509 1160L521 1157L517 1169M466 1150L490 1127M478 1131L490 1127L486 1139M683 1018L696 997M685 1003L696 997L695 1010M867 737L891 745M883 736L891 745L879 747M866 754L896 758M885 750L896 758L884 762M916 740L921 743M916 732L921 743L908 741M933 737L951 738M940 732L951 738L940 743M940 750L947 750M937 743L947 750L936 755M921 749L937 750M926 743L937 750L925 755M822 769L835 777M829 766L835 777L823 777M841 768L853 775M846 765L853 775L840 775M866 775L887 783M878 773L887 783L874 784M887 766L908 775M900 766L908 775L896 777M905 765L922 772M914 762L922 772L910 773M913 761L931 766M922 758L931 766L919 769M929 761L945 777M942 765L945 777L934 774M972 774L995 774M984 768L995 774L984 779M987 779L995 772M983 775L995 772L991 784M937 783L945 790M941 778L945 790L933 787M899 790L922 797M914 788L922 797L910 799M929 795L945 795M934 789L945 795L934 801M953 790L981 795M971 787L981 795L969 799M949 802L967 800M955 796L967 800L956 807M976 799L985 795M972 794L985 795L977 805M978 816L990 813M978 810L990 813L981 821M889 809L899 807M887 803L899 807L889 815M910 815L924 813M912 808L924 813L914 820M860 807L878 811M868 803L878 811L866 815M851 795L878 790M866 786L878 790L868 798M878 786L892 795M886 784L892 795L880 794M835 791L857 797M847 788L857 797L844 800M821 786L842 790M832 782L842 790L830 794M809 818L835 811M823 808L835 811L826 819M785 823L835 831M825 823L835 831L823 835M789 786L814 786M803 780L814 786L803 792M782 804L825 807M814 801L825 807L813 812M800 806L835 815M826 806L835 815L823 818M825 832L878 825M866 821L878 825L868 832M851 825L878 825M867 819L878 825L867 831M889 829L905 845M901 833L905 845L893 841M897 839L906 843M898 833L906 843L894 844M919 832L935 834M925 827L935 834L923 839M954 829L956 832M956 820L956 832L946 825M874 848L885 848M874 842L885 848L874 854M862 866L876 864M864 860L876 864L866 872M842 873L857 870M844 867L857 870L847 878M872 895L880 896M870 888L880 896L868 900M804 852L844 851M833 845L844 851L833 857M743 881L782 881M771 875L782 881L771 887M752 887L778 887M767 882L778 887L767 893M704 887L730 886M719 881L730 886L720 892M721 843L775 841M763 836L775 841L764 847M743 843L801 841M790 836L801 841L791 847M784 839L803 840M792 834L803 840L792 846M707 818L748 822M738 815L748 822L737 827M725 829L775 831M764 824L775 831L763 836M723 800L760 804M750 797L760 804L749 809M732 815L778 818M768 811L778 818L767 823M739 758L798 763M787 756L798 763L786 768M730 759L785 765M775 758L785 765L774 769M714 768L771 774M761 767L771 774L760 778M707 786L753 790M743 783L753 790L742 795M753 790L807 790M796 784L807 790L796 795M793 784L817 797M810 787L817 797L805 797M708 756L796 763M786 756L796 763L785 768M751 799L785 800M775 794L785 800L774 806M750 775L778 779M768 772L778 779L767 783M754 759L798 763M787 756L798 763L786 768M922 815L928 818M922 807L928 818L915 817M704 981L706 965M699 976L706 965L710 977M706 1029L717 1012M706 1018L717 1012L716 1024" fill="none" stroke="#000" stroke-width="2.3" stroke-linejoin="miter"/>
<g fill="none" stroke="#a8a8a8" stroke-width="1"><circle cx="1729" cy="627" r="8"/><circle cx="1758" cy="573" r="8"/><circle cx="1728" cy="617" r="8"/><circle cx="1304" cy="945" r="8"/><circle cx="1317" cy="961" r="8"/><circle cx="1293" cy="957" r="8"/><circle cx="1539" cy="691" r="8"/><circle cx="1690" cy="560" r="8"/><circle cx="1738" cy="976" r="8"/><circle cx="1910" cy="852" r="8"/><circle cx="1266" cy="1020" r="8"/><circle cx="1285" cy="1027" r="8"/><circle cx="1304" cy="1065" r="8"/><circle cx="1279" cy="1024" r="8"/></g>
<g fill="rgba(30,110,240,0.75)" stroke="#2c5fae" stroke-width="1"><circle cx="1781" cy="834" r="8"/><circle cx="1754" cy="808" r="8"/><circle cx="1759" cy="775" r="8"/><circle cx="1759" cy="746" r="8"/><circle cx="1748" cy="794" r="8"/><circle cx="1778" cy="949" r="8"/><circle cx="1805" cy="995" r="8"/><circle cx="1799" cy="879" r="8"/><circle cx="1760" cy="884" r="8"/><circle cx="1751" cy="896" r="8"/><circle cx="1793" cy="881" r="8"/><circle cx="1629" cy="832" r="8"/><circle cx="1682" cy="827" r="8"/><circle cx="1817" cy="748" r="8"/><circle cx="1803" cy="779" r="8"/><circle cx="1790" cy="793" r="8"/><circle cx="1784" cy="822" r="8"/><circle cx="1791" cy="688" r="8"/><circle cx="1796" cy="724" r="8"/><circle cx="1753" cy="810" r="8"/><circle cx="1595" cy="878" r="8"/><circle cx="1661" cy="880" r="8"/><circle cx="1693" cy="867" r="8"/><circle cx="1705" cy="884" r="8"/><circle cx="1730" cy="892" r="8"/><circle cx="1751" cy="908" r="8"/><circle cx="1782" cy="877" r="8"/><circle cx="1823" cy="872" r="8"/><circle cx="1574" cy="965" r="8"/><circle cx="1614" cy="1036" r="8"/><circle cx="1672" cy="974" r="8"/><circle cx="1691" cy="975" r="8"/><circle cx="1714" cy="1006" r="8"/><circle cx="1703" cy="1057" r="8"/><circle cx="1772" cy="1039" r="8"/><circle cx="1822" cy="1026" r="8"/><circle cx="1826" cy="989" r="8"/><circle cx="1827" cy="941" r="8"/><circle cx="1793" cy="967" r="8"/><circle cx="1745" cy="876" r="8"/><circle cx="1769" cy="1166" r="8"/><circle cx="1834" cy="795" r="8"/><circle cx="1852" cy="818" r="8"/><circle cx="1897" cy="803" r="8"/><circle cx="1934" cy="880" r="8"/><circle cx="1947" cy="905" r="8"/><circle cx="1903" cy="895" r="8"/><circle cx="1895" cy="918" r="8"/><circle cx="1882" cy="893" r="8"/><circle cx="1873" cy="904" r="8"/><circle cx="1875" cy="890" r="8"/><circle cx="1859" cy="875" r="8"/><circle cx="1841" cy="901" r="8"/><circle cx="1866" cy="924" r="8"/><circle cx="1950" cy="945" r="8"/><circle cx="1983" cy="949" r="8"/><circle cx="1866" cy="963" r="8"/><circle cx="1878" cy="975" r="8"/><circle cx="1830" cy="942" r="8"/><circle cx="1927" cy="990" r="8"/><circle cx="1972" cy="1034" r="8"/><circle cx="1949" cy="1040" r="8"/><circle cx="1952" cy="1047" r="8"/><circle cx="2006" cy="1052" r="8"/><circle cx="1952" cy="1084" r="8"/><circle cx="1974" cy="1081" r="8"/><circle cx="1972" cy="1108" r="8"/><circle cx="1878" cy="1094" r="8"/><circle cx="1843" cy="1100" r="8"/><circle cx="1888" cy="1117" r="8"/><circle cx="1898" cy="1109" r="8"/><circle cx="1928" cy="1102" r="8"/><circle cx="1915" cy="1134" r="8"/><circle cx="1926" cy="1152" r="8"/><circle cx="1853" cy="1132" r="8"/><circle cx="1872" cy="1135" r="8"/><circle cx="1887" cy="1173" r="8"/><circle cx="1913" cy="1175" r="8"/><circle cx="1973" cy="1163" r="8"/><circle cx="2003" cy="1144" r="8"/><circle cx="2007" cy="1139" r="8"/><circle cx="2015" cy="1117" r="8"/><circle cx="2025" cy="1116" r="8"/><circle cx="2042" cy="1134" r="8"/><circle cx="2053" cy="1144" r="8"/><circle cx="2091" cy="1141" r="8"/><circle cx="2073" cy="1199" r="8"/><circle cx="1840" cy="1185" r="8"/></g>
<g fill="rgba(40,228,100,0.72)" stroke="#3a9a5a" stroke-width="1"><circle cx="1717" cy="784" r="8"/><circle cx="1755" cy="765" r="8"/><circle cx="1719" cy="755" r="8"/><circle cx="1757" cy="840" r="8"/><circle cx="1739" cy="808" r="8"/><circle cx="1771" cy="801" r="8"/><circle cx="1783" cy="771" r="8"/><circle cx="1732" cy="798" r="8"/><circle cx="1738" cy="803" r="8"/><circle cx="1742" cy="746" r="8"/><circle cx="1796" cy="787" r="8"/><circle cx="1750" cy="726" r="8"/><circle cx="1768" cy="827" r="8"/><circle cx="1774" cy="814" r="8"/><circle cx="1742" cy="793" r="8"/><circle cx="1751" cy="779" r="8"/><circle cx="1752" cy="746" r="8"/><circle cx="1756" cy="821" r="8"/><circle cx="1739" cy="793" r="8"/><circle cx="1715" cy="769" r="8"/><circle cx="1771" cy="752" r="8"/><circle cx="1736" cy="788" r="8"/><circle cx="1722" cy="778" r="8"/><circle cx="1760" cy="727" r="8"/><circle cx="1711" cy="761" r="8"/><circle cx="1765" cy="827" r="8"/><circle cx="1773" cy="808" r="8"/><circle cx="1763" cy="750" r="8"/><circle cx="1738" cy="828" r="8"/><circle cx="1757" cy="753" r="8"/><circle cx="1753" cy="787" r="8"/><circle cx="1715" cy="775" r="8"/><circle cx="1756" cy="821" r="8"/><circle cx="1774" cy="822" r="8"/><circle cx="1750" cy="742" r="8"/><circle cx="1768" cy="782" r="8"/><circle cx="1738" cy="801" r="8"/><circle cx="1770" cy="732" r="8"/><circle cx="1769" cy="744" r="8"/><circle cx="1757" cy="754" r="8"/><circle cx="1767" cy="824" r="8"/><circle cx="1738" cy="807" r="8"/><circle cx="1772" cy="826" r="8"/><circle cx="1766" cy="808" r="8"/><circle cx="1726" cy="766" r="8"/><circle cx="1717" cy="747" r="8"/><circle cx="1727" cy="798" r="8"/><circle cx="1778" cy="1011" r="8"/><circle cx="1781" cy="982" r="8"/><circle cx="1766" cy="961" r="8"/><circle cx="1777" cy="962" r="8"/><circle cx="1793" cy="914" r="8"/><circle cx="1784" cy="943" r="8"/><circle cx="1761" cy="953" r="8"/><circle cx="1807" cy="1002" r="8"/><circle cx="1749" cy="948" r="8"/><circle cx="1786" cy="983" r="8"/><circle cx="1764" cy="946" r="8"/><circle cx="1781" cy="985" r="8"/><circle cx="1799" cy="956" r="8"/><circle cx="1803" cy="1007" r="8"/><circle cx="1807" cy="930" r="8"/><circle cx="1787" cy="1005" r="8"/><circle cx="1777" cy="938" r="8"/><circle cx="1791" cy="979" r="8"/><circle cx="1775" cy="963" r="8"/><circle cx="1792" cy="983" r="8"/><circle cx="1761" cy="970" r="8"/><circle cx="1757" cy="961" r="8"/><circle cx="1779" cy="942" r="8"/><circle cx="1764" cy="950" r="8"/><circle cx="1777" cy="972" r="8"/><circle cx="1779" cy="963" r="8"/><circle cx="1763" cy="956" r="8"/><circle cx="1786" cy="954" r="8"/><circle cx="1776" cy="970" r="8"/><circle cx="1804" cy="975" r="8"/><circle cx="1800" cy="942" r="8"/><circle cx="1788" cy="952" r="8"/><circle cx="1784" cy="945" r="8"/><circle cx="1756" cy="979" r="8"/><circle cx="1788" cy="976" r="8"/><circle cx="1777" cy="977" r="8"/><circle cx="1755" cy="984" r="8"/><circle cx="1781" cy="951" r="8"/><circle cx="1745" cy="893" r="8"/><circle cx="1770" cy="879" r="8"/><circle cx="1756" cy="887" r="8"/><circle cx="1786" cy="883" r="8"/><circle cx="1777" cy="879" r="8"/><circle cx="1727" cy="881" r="8"/><circle cx="1794" cy="889" r="8"/><circle cx="1766" cy="895" r="8"/><circle cx="1742" cy="868" r="8"/><circle cx="1775" cy="867" r="8"/><circle cx="1730" cy="881" r="8"/><circle cx="1784" cy="881" r="8"/><circle cx="1763" cy="882" r="8"/><circle cx="1757" cy="877" r="8"/><circle cx="1756" cy="881" r="8"/><circle cx="1794" cy="873" r="8"/><circle cx="1771" cy="885" r="8"/><circle cx="1748" cy="891" r="8"/><circle cx="1705" cy="648" r="8"/><circle cx="1741" cy="670" r="8"/><circle cx="1755" cy="673" r="8"/><circle cx="1769" cy="675" r="8"/><circle cx="1762" cy="701" r="8"/><circle cx="1781" cy="703" r="8"/><circle cx="1805" cy="663" r="8"/><circle cx="1805" cy="682" r="8"/><circle cx="1688" cy="692" r="8"/><circle cx="1669" cy="722" r="8"/><circle cx="1644" cy="724" r="8"/><circle cx="1717" cy="711" r="8"/><circle cx="1733" cy="710" r="8"/><circle cx="1746" cy="713" r="8"/><circle cx="1701" cy="742" r="8"/><circle cx="1726" cy="741" r="8"/><circle cx="1717" cy="777" r="8"/><circle cx="1734" cy="765" r="8"/><circle cx="1762" cy="744" r="8"/><circle cx="1777" cy="775" r="8"/><circle cx="1764" cy="784" r="8"/><circle cx="1793" cy="720" r="8"/><circle cx="1800" cy="737" r="8"/><circle cx="1819" cy="803" r="8"/><circle cx="1651" cy="813" r="8"/><circle cx="1689" cy="832" r="8"/><circle cx="1720" cy="803" r="8"/><circle cx="1734" cy="805" r="8"/><circle cx="1755" cy="801" r="8"/><circle cx="1786" cy="818" r="8"/><circle cx="1717" cy="830" r="8"/><circle cx="1743" cy="827" r="8"/><circle cx="1827" cy="753" r="8"/><circle cx="1524" cy="910" r="8"/><circle cx="1643" cy="907" r="8"/><circle cx="1705" cy="920" r="8"/><circle cx="1717" cy="912" r="8"/><circle cx="1726" cy="881" r="8"/><circle cx="1736" cy="910" r="8"/><circle cx="1750" cy="926" r="8"/><circle cx="1736" cy="938" r="8"/><circle cx="1752" cy="974" r="8"/><circle cx="1672" cy="993" r="8"/><circle cx="1693" cy="989" r="8"/><circle cx="1705" cy="1001" r="8"/><circle cx="1720" cy="1034" r="8"/><circle cx="1633" cy="1062" r="8"/><circle cx="1714" cy="1061" r="8"/><circle cx="1755" cy="1017" r="8"/><circle cx="1774" cy="1003" r="8"/><circle cx="1769" cy="1020" r="8"/><circle cx="1783" cy="1015" r="8"/><circle cx="1800" cy="1021" r="8"/><circle cx="1746" cy="1053" r="8"/><circle cx="1753" cy="1064" r="8"/><circle cx="1781" cy="1064" r="8"/><circle cx="1791" cy="1053" r="8"/><circle cx="1762" cy="1089" r="8"/><circle cx="1784" cy="1088" r="8"/><circle cx="1793" cy="1095" r="8"/><circle cx="1734" cy="1095" r="8"/><circle cx="1767" cy="932" r="8"/><circle cx="1765" cy="912" r="8"/><circle cx="1779" cy="950" r="8"/><circle cx="1793" cy="920" r="8"/><circle cx="1803" cy="939" r="8"/><circle cx="1814" cy="926" r="8"/><circle cx="1802" cy="895" r="8"/><circle cx="1817" cy="895" r="8"/><circle cx="1783" cy="977" r="8"/><circle cx="1786" cy="891" r="8"/><circle cx="1764" cy="879" r="8"/><circle cx="1757" cy="869" r="8"/><circle cx="1743" cy="876" r="8"/><circle cx="1662" cy="1121" r="8"/><circle cx="1743" cy="1125" r="8"/><circle cx="1766" cy="1135" r="8"/><circle cx="1789" cy="1129" r="8"/><circle cx="1766" cy="1111" r="8"/><circle cx="1822" cy="1122" r="8"/><circle cx="1824" cy="1128" r="8"/><circle cx="1745" cy="1104" r="8"/><circle cx="1833" cy="755" r="8"/><circle cx="1837" cy="890" r="8"/><circle cx="1834" cy="1004" r="8"/><circle cx="1836" cy="1060" r="8"/><circle cx="1461" cy="981" r="8"/><circle cx="1477" cy="976" r="8"/></g>
<g fill="rgba(208,235,0,0.75)" stroke="#9aab2a" stroke-width="1"><circle cx="1730" cy="613" r="8"/><circle cx="1824" cy="624" r="8"/><circle cx="1778" cy="618" r="8"/><circle cx="1740" cy="643" r="8"/><circle cx="1738" cy="612" r="8"/><circle cx="1753" cy="645" r="8"/><circle cx="1637" cy="732" r="8"/><circle cx="1591" cy="712" r="8"/><circle cx="1559" cy="733" r="8"/><circle cx="1654" cy="708" r="8"/><circle cx="1622" cy="737" r="8"/><circle cx="1594" cy="707" r="8"/><circle cx="1586" cy="730" r="8"/><circle cx="1611" cy="746" r="8"/><circle cx="1633" cy="714" r="8"/><circle cx="1587" cy="714" r="8"/><circle cx="1566" cy="696" r="8"/><circle cx="1578" cy="717" r="8"/><circle cx="1596" cy="708" r="8"/><circle cx="1630" cy="709" r="8"/><circle cx="1570" cy="711" r="8"/><circle cx="1599" cy="732" r="8"/><circle cx="1618" cy="725" r="8"/><circle cx="1616" cy="705" r="8"/><circle cx="1559" cy="716" r="8"/><circle cx="1420" cy="758" r="8"/><circle cx="1456" cy="728" r="8"/><circle cx="1459" cy="769" r="8"/><circle cx="1486" cy="696" r="8"/><circle cx="1488" cy="728" r="8"/><circle cx="1498" cy="724" r="8"/><circle cx="1511" cy="776" r="8"/><circle cx="1517" cy="703" r="8"/><circle cx="1523" cy="715" r="8"/><circle cx="1522" cy="722" r="8"/><circle cx="1546" cy="705" r="8"/><circle cx="1555" cy="708" r="8"/><circle cx="1569" cy="720" r="8"/><circle cx="1584" cy="687" r="8"/><circle cx="1550" cy="730" r="8"/><circle cx="1551" cy="744" r="8"/><circle cx="1567" cy="748" r="8"/><circle cx="1538" cy="758" r="8"/><circle cx="1596" cy="730" r="8"/><circle cx="1624" cy="694" r="8"/><circle cx="1629" cy="656" r="8"/><circle cx="1634" cy="684" r="8"/><circle cx="1648" cy="686" r="8"/><circle cx="1610" cy="711" r="8"/><circle cx="1681" cy="715" r="8"/><circle cx="1648" cy="761" r="8"/><circle cx="1624" cy="743" r="8"/><circle cx="1676" cy="675" r="8"/><circle cx="1728" cy="678" r="8"/><circle cx="1512" cy="774" r="8"/><circle cx="1703" cy="585" r="8"/><circle cx="1628" cy="619" r="8"/><circle cx="1639" cy="615" r="8"/><circle cx="1665" cy="610" r="8"/><circle cx="1400" cy="913" r="8"/><circle cx="1439" cy="927" r="8"/><circle cx="1406" cy="965" r="8"/></g>
<g fill="rgba(200,35,235,0.72)" stroke="#8a3a9e" stroke-width="1"><circle cx="1303" cy="955" r="8"/><circle cx="1318" cy="952" r="8"/><circle cx="1299" cy="950" r="8"/><circle cx="1288" cy="943" r="8"/><circle cx="1299" cy="963" r="8"/><circle cx="1288" cy="933" r="8"/><circle cx="1301" cy="958" r="8"/><circle cx="1281" cy="950" r="8"/><circle cx="1278" cy="940" r="8"/><circle cx="1488" cy="792" r="8"/><circle cx="1302" cy="942" r="8"/><circle cx="1285" cy="964" r="8"/><circle cx="1340" cy="950" r="8"/><circle cx="1357" cy="943" r="8"/><circle cx="1390" cy="931" r="8"/><circle cx="1253" cy="988" r="8"/><circle cx="1272" cy="984" r="8"/><circle cx="1293" cy="979" r="8"/><circle cx="1314" cy="976" r="8"/><circle cx="1329" cy="972" r="8"/><circle cx="1348" cy="979" r="8"/><circle cx="1328" cy="984" r="8"/><circle cx="1335" cy="995" r="8"/><circle cx="1354" cy="991" r="8"/><circle cx="1364" cy="995" r="8"/><circle cx="1304" cy="995" r="8"/><circle cx="1255" cy="1010" r="8"/><circle cx="1281" cy="1015" r="8"/><circle cx="1244" cy="1026" r="8"/><circle cx="1303" cy="1031" r="8"/><circle cx="1359" cy="1024" r="8"/><circle cx="1366" cy="1038" r="8"/><circle cx="1297" cy="1089" r="8"/><circle cx="1324" cy="996" r="8"/><circle cx="1286" cy="979" r="8"/></g>
<g fill="rgba(235,28,28,0.72)" stroke="#b83232" stroke-width="1"><circle cx="1778" cy="617" r="8"/><circle cx="1793" cy="617" r="8"/><circle cx="1761" cy="573" r="8"/><circle cx="1759" cy="598" r="8"/><circle cx="1778" cy="537" r="8"/><circle cx="1722" cy="600" r="8"/><circle cx="1727" cy="590" r="8"/><circle cx="1773" cy="565" r="8"/><circle cx="1802" cy="596" r="8"/><circle cx="1788" cy="618" r="8"/><circle cx="1791" cy="564" r="8"/><circle cx="1802" cy="637" r="8"/><circle cx="1781" cy="662" r="8"/><circle cx="1778" cy="634" r="8"/><circle cx="1758" cy="606" r="8"/><circle cx="1766" cy="613" r="8"/><circle cx="1748" cy="594" r="8"/><circle cx="1803" cy="568" r="8"/><circle cx="1776" cy="604" r="8"/><circle cx="1748" cy="583" r="8"/><circle cx="1758" cy="536" r="8"/><circle cx="1789" cy="588" r="8"/><circle cx="1805" cy="615" r="8"/><circle cx="1817" cy="594" r="8"/><circle cx="1778" cy="573" r="8"/><circle cx="1718" cy="606" r="8"/><circle cx="1770" cy="594" r="8"/><circle cx="1746" cy="630" r="8"/><circle cx="1731" cy="576" r="8"/><circle cx="1738" cy="596" r="8"/><circle cx="1817" cy="629" r="8"/><circle cx="1748" cy="587" r="8"/><circle cx="1770" cy="605" r="8"/><circle cx="1750" cy="643" r="8"/><circle cx="1748" cy="646" r="8"/><circle cx="1795" cy="625" r="8"/><circle cx="1795" cy="631" r="8"/><circle cx="1728" cy="596" r="8"/><circle cx="1778" cy="635" r="8"/><circle cx="1771" cy="638" r="8"/><circle cx="1777" cy="593" r="8"/><circle cx="1758" cy="619" r="8"/><circle cx="1781" cy="577" r="8"/><circle cx="1783" cy="565" r="8"/><circle cx="1761" cy="579" r="8"/><circle cx="1774" cy="595" r="8"/><circle cx="1757" cy="560" r="8"/><circle cx="1794" cy="628" r="8"/><circle cx="1757" cy="581" r="8"/><circle cx="1714" cy="586" r="8"/><circle cx="1736" cy="633" r="8"/><circle cx="1753" cy="759" r="8"/><circle cx="1755" cy="760" r="8"/><circle cx="1784" cy="788" r="8"/><circle cx="1611" cy="733" r="8"/><circle cx="1684" cy="635" r="8"/><circle cx="1670" cy="648" r="8"/><circle cx="1643" cy="646" r="8"/><circle cx="1631" cy="670" r="8"/><circle cx="1670" cy="698" r="8"/><circle cx="1627" cy="703" r="8"/><circle cx="1603" cy="727" r="8"/><circle cx="1610" cy="739" r="8"/><circle cx="1646" cy="732" r="8"/><circle cx="1701" cy="713" r="8"/><circle cx="1714" cy="663" r="8"/><circle cx="1733" cy="634" r="8"/><circle cx="1758" cy="653" r="8"/><circle cx="1774" cy="637" r="8"/><circle cx="1810" cy="653" r="8"/><circle cx="1812" cy="639" r="8"/><circle cx="1760" cy="686" r="8"/><circle cx="1789" cy="689" r="8"/><circle cx="1764" cy="741" r="8"/><circle cx="1710" cy="544" r="8"/><circle cx="1738" cy="546" r="8"/><circle cx="1772" cy="539" r="8"/><circle cx="1821" cy="541" r="8"/><circle cx="1710" cy="560" r="8"/><circle cx="1708" cy="574" r="8"/><circle cx="1760" cy="564" r="8"/><circle cx="1739" cy="572" r="8"/><circle cx="1755" cy="581" r="8"/><circle cx="1776" cy="578" r="8"/><circle cx="1793" cy="566" r="8"/><circle cx="1802" cy="555" r="8"/><circle cx="1821" cy="577" r="8"/><circle cx="1795" cy="591" r="8"/><circle cx="1681" cy="595" r="8"/><circle cx="1693" cy="607" r="8"/><circle cx="1719" cy="610" r="8"/><circle cx="1736" cy="597" r="8"/><circle cx="1745" cy="586" r="8"/><circle cx="1764" cy="597" r="8"/><circle cx="1774" cy="610" r="8"/><circle cx="1795" cy="610" r="8"/><circle cx="1822" cy="614" r="8"/><circle cx="1731" cy="614" r="8"/><circle cx="1752" cy="607" r="8"/><circle cx="1781" cy="600" r="8"/><circle cx="1841" cy="649" r="8"/></g>
<path d="M1730 613L1699 614M1710 620L1699 614L1710 608M1778 617L1811 603M1798 602L1811 603L1803 613M1793 617L1802 600M1792 607L1802 600L1802 613M1761 573L1742 572M1753 578L1742 572L1753 567M1759 598L1754 570M1750 582L1754 570L1762 580M1778 537L1798 512M1787 517L1798 512L1796 525M1722 600L1690 576M1696 587L1690 576L1703 578M1727 590L1739 574M1727 580L1739 574L1737 587M1773 565L1751 594M1763 589L1751 594L1753 582M1824 624L1819 596M1815 608L1819 596L1826 606M1802 596L1779 597M1790 602L1779 597L1789 591M1729 627L1742 595M1733 603L1742 595L1744 607M1788 618L1809 624M1800 615L1809 624L1797 626M1791 564L1770 538M1773 550L1770 538L1782 543M1802 637L1783 622M1788 634L1783 622L1795 624M1781 662L1760 631M1761 643L1760 631L1771 637M1778 634L1758 600M1758 612L1758 600L1769 606M1758 606L1775 588M1764 592L1775 588L1772 600M1766 613L1741 595M1746 606L1741 595L1753 597M1758 573L1778 553M1766 557L1778 553L1775 565M1778 618L1782 597M1774 606L1782 597L1786 609M1748 594L1745 633M1751 623L1745 633L1740 622M1803 568L1806 529M1800 539L1806 529L1811 540M1776 604L1811 610M1801 602L1811 610L1799 614M1748 583L1742 561M1739 573L1742 561L1750 570M1758 536L1737 524M1744 535L1737 524L1750 525M1789 588L1783 570M1781 582L1783 570L1792 579M1805 615L1821 602M1809 604L1821 602L1816 613M1817 594L1804 580M1808 592L1804 580L1816 584M1778 573L1779 605M1784 594L1779 605L1773 594M1718 606L1727 578M1718 586L1727 578L1729 590M1770 594L1758 625M1768 617L1758 625L1757 613M1740 643L1763 616M1752 620L1763 616L1761 628M1746 630L1720 625M1729 633L1720 625L1732 621M1731 576L1714 609M1724 602L1714 609L1714 597M1738 596L1702 603M1714 607L1702 603L1712 595M1817 629L1795 623M1804 632L1795 623L1807 620M1748 587L1710 585M1720 592L1710 585L1721 580M1770 605L1759 587M1759 599L1759 587L1769 593M1750 643L1716 628M1724 638L1716 628L1728 627M1748 646L1716 668M1729 666L1716 668L1722 657M1795 625L1774 612M1780 623L1774 612L1786 613M1795 631L1826 608M1814 610L1826 608L1821 619M1728 596L1741 576M1730 582L1741 576L1740 589M1778 635L1743 623M1752 632L1743 623L1755 621M1771 638L1765 620M1763 633L1765 620L1774 629M1777 593L1745 577M1752 587L1745 577L1757 577M1758 619L1756 600M1751 612L1756 600L1763 611M1781 577L1809 575M1798 570L1809 575L1799 582M1783 565L1744 561M1755 568L1744 561L1756 556M1761 579L1759 550M1754 562L1759 550L1765 561M1774 595L1754 580M1759 591L1754 580L1766 582M1757 560L1753 525M1748 536L1753 525L1760 535M1738 612L1722 582M1722 595L1722 582L1733 589M1794 628L1817 607M1805 611L1817 607L1813 619M1753 645L1725 648M1737 653L1725 648L1735 641M1757 581L1775 552M1764 558L1775 552L1774 564M1728 617L1755 646M1752 634L1755 646L1743 642M1714 586L1739 593M1730 584L1739 593L1726 595M1736 633L1752 602M1742 609L1752 602L1752 614M1717 784L1715 800M1722 790L1715 800L1711 789M1755 765L1737 775M1749 775L1737 775L1743 765M1719 755L1724 781M1728 769L1724 781L1716 771M1757 840L1748 860M1758 852L1748 860L1747 847M1739 808L1732 833M1741 824L1732 833L1730 821M1753 759L1751 786M1758 775L1751 786L1746 774M1771 801L1774 813M1777 801L1774 813L1766 804M1783 771L1785 796M1790 784L1785 796L1778 785M1732 798L1736 807M1737 795L1736 807L1726 800M1755 760L1776 767M1768 758L1776 767L1764 769M1738 803L1738 817M1744 806L1738 817L1732 806M1742 746L1731 762M1742 756L1731 762L1732 749M1796 787L1801 804M1803 792L1801 804L1792 795M1750 726L1738 741M1749 736L1738 741L1740 729M1768 827L1768 849M1774 838L1768 849L1762 837M1774 814L1770 829M1778 820L1770 829L1767 817M1742 793L1740 808M1747 798L1740 808L1735 796M1751 779L1754 789M1756 776L1754 789L1745 781M1784 788L1778 796M1789 791L1778 796L1780 784M1752 746L1735 759M1747 757L1735 759L1740 748M1756 821L1761 847M1765 835L1761 847L1753 837M1739 793L1741 818M1746 807L1741 818L1734 808M1715 769L1712 784M1720 774L1712 784L1709 772M1771 752L1787 772M1785 760L1787 772L1776 767M1736 788L1722 804M1734 800L1722 804L1725 792M1722 778L1734 801M1734 789L1734 801L1724 794M1760 727L1769 745M1769 732L1769 745L1759 738M1781 834L1777 858M1784 848L1777 858L1773 846M1711 761L1703 774M1714 767L1703 774L1703 762M1765 827L1770 848M1773 836L1770 848L1762 839M1773 808L1777 825M1780 813L1777 825L1769 815M1763 750L1755 758M1767 754L1755 758L1759 746M1738 828L1747 842M1746 830L1747 842L1736 836M1757 753L1754 769M1762 759L1754 769L1750 757M1754 808L1745 821M1756 815L1745 821L1746 808M1753 787L1738 809M1749 803L1738 809L1739 796M1715 775L1729 795M1728 783L1729 795L1718 790M1759 775L1744 795M1755 790L1744 795L1746 782M1756 821L1767 840M1767 828L1767 840L1757 834M1774 822L1774 838M1780 827L1774 838L1768 827M1750 742L1752 754M1756 742L1752 754L1744 745M1768 782L1761 790M1772 786L1761 790L1764 778M1759 746L1767 770M1769 758L1767 770L1758 762M1738 801L1742 823M1746 811L1742 823L1734 813M1770 732L1778 745M1777 732L1778 745L1767 738M1769 744L1763 760M1773 752L1763 760L1762 748M1757 754L1756 773M1763 762L1756 773L1751 762M1767 824L1780 843M1779 830L1780 843L1769 837M1748 794L1741 819M1749 810L1741 819L1738 807M1738 807L1736 820M1743 810L1736 820L1732 808M1772 826L1768 841M1777 832L1768 841L1765 829M1766 808L1776 828M1776 816L1776 828L1766 821M1726 766L1735 783M1735 770L1735 783L1725 776M1717 747L1723 763M1724 751L1723 763L1713 755M1727 798L1729 817M1734 805L1729 817L1722 807M1778 1011L1784 1002M1773 1008L1784 1002L1783 1015M1781 982L1780 972M1776 984L1780 972L1787 983M1766 961L1750 968M1762 969L1750 968L1758 959M1777 962L1789 976M1787 964L1789 976L1777 971M1793 914L1793 895M1787 906L1793 895L1799 906M1784 943L1767 944M1779 949L1767 944L1778 937M1761 953L1750 958M1762 958L1750 958L1757 948M1807 1002L1824 1001M1812 996L1824 1001L1813 1008M1749 948L1743 936M1742 949L1743 936L1753 944M1786 983L1786 997M1792 986L1786 997L1780 985M1764 946L1753 947M1765 952L1753 947L1764 941M1781 985L1795 992M1788 982L1795 992L1783 992M1799 956L1807 953M1794 952L1807 953L1799 963M1803 1007L1796 1000M1799 1012L1796 1000L1808 1004M1807 930L1815 920M1803 925L1815 920L1813 932M1778 949L1764 939M1770 950L1764 939L1777 941M1787 1005L1776 999M1782 1010L1776 999L1789 1000M1777 938L1786 952M1785 939L1786 952L1775 945M1791 979L1782 967M1784 980L1782 967L1793 972M1775 963L1770 970M1781 964L1770 970L1771 958M1792 983L1785 977M1791 989L1785 977L1797 979M1761 970L1773 971M1762 965L1773 971L1762 976M1757 961L1755 969M1764 961L1755 969L1753 957M1779 942L1785 933M1774 938L1785 933L1784 945M1764 950L1762 960M1770 951L1762 960L1758 948M1777 972L1791 981M1785 970L1791 981L1779 980M1779 963L1784 976M1785 964L1784 976L1774 968M1763 956L1754 960M1767 961L1754 960L1762 950M1786 954L1789 965M1792 953L1789 965L1781 956M1776 970L1767 980M1779 976L1767 980L1770 968M1804 975L1808 964M1799 972L1808 964L1810 976M1800 942L1811 942M1800 936L1811 942L1799 947M1788 952L1779 961M1791 957L1779 961L1783 949M1784 945L1775 929M1775 941L1775 929L1785 935M1756 979L1766 963M1755 970L1766 963L1765 976M1788 976L1794 962M1784 970L1794 962L1795 975M1777 977L1794 980M1784 973L1794 980L1782 984M1805 995L1823 995M1811 989L1823 995L1811 1001M1755 984L1753 973M1749 985L1753 973L1761 982M1781 951L1794 950M1783 945L1794 950L1783 956M1745 893L1755 911M1755 898L1755 911L1745 904M1770 879L1756 885M1769 886L1756 885L1764 875M1756 887L1762 911M1765 898L1762 911L1754 902M1799 879L1779 878M1789 884L1779 878L1790 873M1786 883L1786 897M1792 887L1786 897L1781 886M1777 879L1761 881M1773 885L1761 881L1771 874M1760 884L1748 897M1760 893L1748 897L1751 885M1727 881L1718 895M1729 889L1718 895L1719 883M1794 889L1777 890M1788 896L1777 890L1787 884M1766 895L1769 911M1773 899L1769 911L1761 902M1742 868L1734 883M1745 876L1734 883L1734 870M1775 867L1763 878M1775 875L1763 878L1767 866M1751 896L1742 917M1752 909L1742 917L1741 904M1730 881L1724 891M1735 884L1724 891L1724 879M1793 881L1773 895M1786 893L1773 895L1779 884M1784 881L1788 894M1791 882L1788 894L1779 885M1763 882L1758 893M1768 886L1758 893L1758 880M1757 877L1751 897M1760 888L1751 897L1748 885M1756 881L1744 902M1755 895L1744 902L1744 889M1794 873L1791 889M1799 879L1791 889L1787 877M1771 885L1761 906M1771 898L1761 906L1760 893M1748 891L1752 903M1754 891L1752 903L1743 895M1637 732L1668 696M1656 700L1668 696L1665 708M1591 712L1600 653M1592 663L1600 653L1604 664M1559 733L1588 692M1577 698L1588 692L1586 704M1654 708L1678 653M1668 661L1678 653L1679 666M1622 737L1643 696M1633 703L1643 696L1643 708M1611 733L1636 686M1625 693L1636 686L1636 698M1594 707L1612 668M1602 676L1612 668L1613 680M1586 730L1602 679M1593 687L1602 679L1604 691M1611 746L1644 719M1632 722L1644 719L1639 731M1633 714L1657 678M1646 684L1657 678L1656 690M1587 714L1608 664M1598 672L1608 664L1609 677M1566 696L1588 660M1578 666L1588 660L1588 672M1578 717L1604 681M1593 686L1604 681L1602 693M1596 708L1608 648M1600 658L1608 648L1611 660M1630 709L1628 661M1622 672L1628 661L1634 672M1570 711L1604 669M1593 674L1604 669L1602 682M1599 732L1612 676M1604 686L1612 676L1616 688M1618 725L1643 685M1632 691L1643 685L1642 697M1616 705L1619 657M1613 667L1619 657L1625 668M1559 716L1575 660M1566 670L1575 660L1578 673M1303 955L1342 943M1329 940L1342 943L1333 951M1318 952L1356 924M1344 926L1356 924L1350 935M1304 945L1348 913M1335 915L1348 913L1342 925M1299 950L1344 925M1331 926L1344 925L1337 936M1288 943L1351 919M1339 917L1351 919L1343 928M1299 963L1359 930M1346 930L1359 930L1352 940M1288 933L1318 901M1306 905L1318 901L1315 914M1301 958L1359 928M1346 928L1359 928L1352 938M1281 950L1328 931M1316 930L1328 931L1320 941M1317 961L1358 931M1345 933L1358 931L1352 943M1293 957L1331 937M1319 937L1331 937L1324 947M1278 940L1337 907M1325 907L1337 907L1331 917M1420 758L1441 733M1429 738L1441 733L1438 745M1456 728L1498 694M1485 697L1498 694L1493 706M1459 769L1492 734M1481 738L1492 734L1489 746M1486 696L1517 665M1505 669L1517 665L1514 677M1488 728L1492 706M1484 716L1492 706L1496 718M1498 724L1501 701M1494 711L1501 701L1506 713M1511 776L1517 737M1510 747L1517 737L1521 749M1488 792L1517 776M1505 776L1517 776L1510 786M1517 703L1565 646M1554 650L1565 646L1563 658M1523 715L1563 672M1552 676L1563 672L1560 684M1522 722L1550 661M1540 669L1550 661L1550 674M1546 705L1593 651M1581 656L1593 651L1590 663M1555 708L1565 689M1555 696L1565 689L1565 702M1569 720L1595 692M1583 696L1595 692L1591 705M1584 687L1617 644M1606 649L1617 644L1615 656M1550 730L1603 670M1591 674L1603 670L1600 682M1551 744L1620 646M1609 651L1620 646L1619 658M1567 748L1570 744M1558 750L1570 744L1568 757M1538 758L1567 713M1556 719L1567 713L1566 726M1596 730L1624 673M1614 681L1624 673L1624 686M1624 694L1634 651M1626 660L1634 651L1637 663M1629 656L1641 675M1640 663L1641 675L1630 669M1634 684L1643 670M1632 676L1643 670L1642 682M1648 686L1658 663M1648 671L1658 663L1659 676M1610 711L1614 713M1606 703L1614 713L1601 713M1681 715L1670 725M1682 722L1670 725L1674 713M1648 761L1669 717M1659 724L1669 717L1669 729M1624 743L1650 692M1639 700L1650 692L1650 705M1676 675L1681 679M1675 668L1681 679L1668 677M1728 678L1708 687M1721 688L1708 687L1716 677M1512 774L1517 775M1508 766L1517 775L1505 777M1539 691L1551 696M1544 686L1551 696L1539 697M1684 635L1683 642M1691 633L1683 642L1679 630M1670 648L1679 653M1673 642L1679 653L1667 652M1643 646L1653 646M1642 640L1653 646L1642 652M1631 670L1641 655M1630 660L1641 655L1640 667M1670 698L1615 630M1618 643L1615 630L1627 635M1627 703L1631 694M1621 702L1631 694L1632 707M1603 727L1598 746M1607 737L1598 746L1595 734M1610 739L1603 732M1607 744L1603 732L1615 736M1646 732L1646 727M1640 738L1646 727L1652 738M1701 713L1674 689M1678 701L1674 689L1686 692M1714 663L1700 691M1710 683L1700 691L1699 678M1733 634L1741 648M1740 635L1741 648L1730 641M1758 653L1760 663M1764 651L1760 663L1753 653M1774 637L1786 655M1784 642L1786 655L1775 649M1810 653L1803 661M1815 656L1803 661L1806 649M1812 639L1821 630M1809 634L1821 630L1817 642M1760 686L1757 677M1755 689L1757 677L1766 685M1789 689L1795 680M1784 687L1795 680L1794 693M1764 741L1760 730M1758 743L1760 730L1769 739M1705 648L1700 656M1711 650L1700 656L1701 644M1741 670L1748 701M1751 689L1748 701L1740 692M1755 673L1757 706M1762 695L1757 706L1750 696M1769 675L1772 698M1776 686L1772 698L1765 688M1762 701L1762 724M1768 712L1762 724L1756 712M1781 703L1779 713M1787 703L1779 713L1775 701M1805 663L1805 682M1811 671L1805 682L1799 671M1805 682L1807 692M1811 681L1807 692L1799 683M1688 692L1681 703M1692 697L1681 703L1682 690M1669 722L1676 710M1665 716L1676 710L1675 722M1644 724L1648 729M1645 716L1648 729L1636 724M1717 711L1710 732M1719 724L1710 732L1708 720M1733 710L1734 739M1739 728L1734 739L1728 728M1746 713L1745 737M1751 727L1745 737L1740 726M1701 742L1707 772M1711 760L1707 772L1699 762M1726 741L1727 758M1732 746L1727 758L1720 748M1717 777L1717 801M1723 790L1717 801L1711 790M1734 765L1736 791M1741 779L1736 791L1729 780M1762 744L1760 758M1767 748L1760 758L1756 746M1777 775L1776 793M1783 782L1776 793L1771 781M1764 784L1765 806M1770 795L1765 806L1759 796M1793 720L1789 730M1799 722L1789 730L1787 718M1800 737L1795 751M1804 743L1795 751L1793 739M1819 803L1814 824M1822 814L1814 824L1811 811M1651 813L1651 843M1657 831L1651 843L1646 831M1689 832L1691 860M1696 848L1691 860L1685 849M1720 803L1720 827M1726 816L1720 827L1715 816M1734 805L1739 827M1743 815L1739 827L1731 818M1755 801L1753 824M1760 813L1753 824L1748 812M1786 818L1783 832M1791 823L1783 832L1780 820M1717 830L1724 858M1727 846L1724 858L1716 849M1743 827L1739 844M1747 835L1739 844L1736 832M1827 753L1830 758M1830 746L1830 758L1820 751M1629 832L1600 788M1601 801L1600 788L1611 794M1682 827L1695 755M1687 764L1695 755L1698 766M1817 748L1803 691M1800 703L1803 691L1812 700M1803 779L1800 772M1799 784L1800 772L1810 779M1790 793L1783 808M1793 801L1783 808L1783 796M1784 822L1781 834M1790 825L1781 834L1778 822M1791 688L1795 696M1796 683L1795 696L1785 688M1796 724L1793 711M1790 724L1793 711L1802 720M1753 810L1750 818M1759 810L1750 818L1748 806M1710 544L1691 544M1702 550L1691 544L1702 538M1738 546L1728 551M1741 551L1728 551L1735 540M1772 539L1760 550M1772 547L1760 550L1764 538M1821 541L1807 541M1818 547L1807 541L1817 535M1710 560L1703 552M1706 564L1703 552L1715 557M1708 574L1693 579M1705 581L1693 579L1701 570M1760 564L1748 550M1751 562L1748 550L1760 554M1739 572L1726 581M1738 580L1726 581L1732 570M1755 581L1748 569M1748 581L1748 569L1759 576M1776 578L1769 569M1771 581L1769 569L1780 574M1793 566L1779 528M1777 540L1779 528L1788 536M1802 555L1786 531M1787 544L1786 531L1797 537M1821 577L1800 560M1805 572L1800 560L1812 563M1795 591L1783 583M1788 594L1783 583L1795 584M1681 595L1670 579M1672 592L1670 579L1681 585M1693 607L1688 621M1697 612L1688 621L1686 608M1719 610L1717 602M1713 614L1717 602L1725 611M1736 597L1724 581M1726 593L1724 581L1735 586M1745 586L1738 600M1748 593L1738 600L1737 588M1764 597L1758 607M1769 600L1758 607L1758 594M1774 610L1765 597M1766 609L1765 597L1776 603M1795 610L1795 597M1789 608L1795 597L1801 608M1822 614L1814 607M1819 618L1814 607L1826 609M1731 614L1739 624M1737 612L1739 624L1728 619M1752 607L1748 621M1756 611L1748 621L1745 609M1781 600L1776 614M1785 606L1776 614L1774 601M1703 585L1698 590M1710 586L1698 590L1702 578M1628 619L1631 610M1622 619L1631 610L1633 623M1639 615L1645 619M1640 607L1645 619L1632 616M1665 610L1672 581M1664 590L1672 581L1675 593M1690 560L1684 557M1692 567L1684 557L1697 556M1841 649L1823 623M1824 636L1823 623L1834 629M1524 910L1544 893M1531 896L1544 893L1539 904M1595 878L1586 855M1585 867L1586 855L1596 863M1661 880L1664 855M1657 865L1664 855L1668 866M1693 867L1686 853M1686 866L1686 853L1696 860M1705 884L1693 867M1694 879L1693 867L1704 873M1730 892L1727 870M1723 882L1727 870L1735 881M1751 908L1733 860M1731 872L1733 860L1742 868M1782 877L1788 865M1778 872L1788 865L1788 878M1823 872L1821 860M1817 872L1821 860L1829 870M1574 965L1553 924M1553 936L1553 924L1563 931M1614 1036L1593 981M1591 993L1593 981L1602 989M1672 974L1639 912M1639 924L1639 912L1649 919M1691 975L1678 911M1675 923L1678 911L1686 921M1714 1006L1703 945M1699 956L1703 945L1711 954M1703 1057L1689 1008M1687 1021L1689 1008L1698 1017M1772 1039L1771 970M1766 982L1771 970L1777 981M1822 1026L1803 964M1801 976L1803 964L1812 972M1826 989L1810 948M1809 960L1810 948L1820 956M1827 941L1812 886M1809 898L1812 886L1820 895M1793 967L1783 946M1782 959L1783 946L1793 954M1643 907L1639 912M1650 906L1639 912L1641 899M1705 920L1714 926M1707 915L1714 926L1701 925M1717 912L1712 917M1724 913L1712 917L1715 905M1726 881L1722 891M1731 882L1722 891L1720 879M1736 910L1741 919M1741 906L1741 919L1730 912M1750 926L1748 919M1745 931L1748 919L1756 928M1736 938L1734 951M1741 941L1734 951L1730 940M1752 974L1748 976M1761 976L1748 976L1755 965M1738 976L1734 984M1744 976L1734 984L1733 972M1672 993L1672 998M1678 987L1672 998L1666 987M1693 989L1693 982M1687 994L1693 982L1699 994M1705 1001L1708 1003M1701 993L1708 1003L1696 1003M1720 1034L1724 1019M1715 1028L1724 1019L1727 1031M1633 1062L1632 1036M1627 1047L1632 1036L1639 1047M1714 1061L1714 1053M1709 1065L1714 1053L1721 1064M1755 1017L1755 1003M1749 1014L1755 1003L1761 1014M1774 1003L1774 998M1768 1009L1774 998L1780 1009M1769 1020L1774 1007M1765 1015L1774 1007L1776 1019M1783 1015L1786 996M1778 1006L1786 996L1790 1008M1800 1021L1793 1022M1805 1027L1793 1022L1803 1015M1746 1053L1746 1034M1740 1045L1746 1034L1752 1045M1753 1064L1755 1045M1748 1055L1755 1045L1760 1056M1781 1064L1786 1038M1778 1047L1786 1038L1790 1050M1791 1053L1793 1050M1783 1057L1793 1050L1793 1062M1762 1089L1764 1067M1757 1078L1764 1067L1769 1078M1784 1088L1783 1069M1778 1080L1783 1069L1789 1079M1793 1095L1795 1077M1788 1088L1795 1077L1799 1089M1734 1095L1739 1081M1730 1089L1739 1081L1741 1093M1767 932L1765 926M1762 938L1765 926L1774 935M1765 912L1769 895M1761 904L1769 895L1772 906M1779 950L1776 943M1775 955L1776 943L1786 950M1793 920L1793 903M1787 914L1793 903L1799 914M1803 939L1810 948M1808 936L1810 948L1799 943M1814 926L1812 931M1821 922L1812 931L1810 918M1802 895L1807 886M1796 892L1807 886L1806 898M1817 895L1810 891M1817 901L1810 891L1823 891M1783 977L1779 974M1783 986L1779 974L1791 978M1786 891L1784 884M1781 896L1784 884L1793 893M1764 879L1758 874M1762 886L1758 874L1770 877M1757 869L1752 863M1755 875L1752 863L1763 867M1743 876L1752 872M1739 871L1752 872L1743 882M1745 876L1741 869M1741 881L1741 869L1751 876M1662 1121L1666 1099M1658 1109L1666 1099L1670 1111M1743 1125L1738 1107M1735 1119L1738 1107L1746 1116M1766 1135L1768 1121M1761 1131L1768 1121L1772 1132M1789 1129L1792 1110M1785 1121L1792 1110L1796 1122M1766 1111L1769 1097M1761 1106L1769 1097L1773 1108M1822 1122L1824 1100M1817 1111L1824 1100L1829 1112M1824 1128L1830 1138M1830 1126L1830 1138L1819 1131M1769 1166L1736 1107M1736 1119L1736 1107L1746 1114M1745 1104L1743 1086M1738 1098L1743 1086L1750 1097M1834 795L1811 756M1811 768L1811 756L1822 762M1833 755L1828 780M1836 770L1828 780L1824 768M1852 818L1847 806M1845 818L1847 806L1856 814M1897 803L1866 747M1866 759L1866 747L1876 754M1910 852L1878 811M1880 823L1878 811L1890 816M1934 880L1911 818M1910 831L1911 818L1921 827M1947 905L1928 849M1926 861L1928 849L1938 857M1903 895L1882 834M1880 846L1882 834L1891 843M1895 918L1877 869M1875 882L1877 869L1886 878M1882 893L1865 840M1863 852L1865 840L1874 849M1873 904L1851 844M1849 856L1851 844L1860 852M1875 890L1849 862M1852 875L1849 862L1861 867M1859 875L1841 828M1839 840L1841 828L1850 836M1841 901L1838 844M1833 855L1838 844L1844 854M1866 924L1849 906M1852 918L1849 906L1861 910M1950 945L1911 878M1912 890L1911 878L1922 885M1983 949L1960 906M1960 918L1960 906L1971 913M1866 963L1849 906M1847 918L1849 906L1858 914M1878 975L1865 930M1862 942L1865 930L1874 939M1830 942L1813 895M1811 908L1813 895L1822 904M1837 890L1827 913M1837 905L1827 913L1826 900M1927 990L1916 973M1917 986L1916 973L1927 980M1834 1004L1828 996M1829 1008L1828 996L1839 1002M1972 1034L1942 980M1942 992L1942 980L1953 987M1949 1040L1927 980M1925 992L1927 980L1936 988M1952 1047L1930 987M1928 999L1930 987L1939 995M2006 1052L1985 996M1984 1009L1985 996L1995 1005M1836 1060L1837 1040M1831 1051L1837 1040L1842 1052M1952 1084L1930 1024M1928 1036L1930 1024L1939 1032M1974 1081L1951 1026M1950 1038L1951 1026L1961 1034M1972 1108L1953 1054M1951 1067L1953 1054L1962 1063M1878 1094L1844 1032M1844 1044L1844 1032L1854 1039M1843 1100L1825 1037M1822 1049L1825 1037L1834 1046M1888 1117L1853 1056M1853 1068L1853 1056L1863 1063M1898 1109L1882 1054M1879 1066L1882 1054L1891 1063M1928 1102L1915 1046M1912 1059L1915 1046L1923 1056M1915 1134L1904 1084M1901 1096L1904 1084L1912 1094M1926 1152L1908 1099M1906 1111L1908 1099L1917 1108M1853 1132L1834 1078M1832 1091L1834 1078L1843 1087M1872 1135L1847 1075M1846 1087L1847 1075L1857 1083M1887 1173L1854 1116M1855 1129L1854 1116L1865 1123M1913 1175L1903 1127M1899 1139L1903 1127L1911 1136M1973 1163L1948 1111M1948 1124L1948 1111L1958 1118M2003 1144L1980 1090M1979 1103L1980 1090L1990 1098M2007 1139L1987 1088M1986 1100L1987 1088L1997 1096M2015 1117L1986 1052M1985 1065L1986 1052L1996 1060M2025 1116L2004 1060M2003 1073L2004 1060L2014 1069M2042 1134L2010 1082M2010 1094L2010 1082L2020 1088M2053 1144L2025 1084M2024 1097L2025 1084L2035 1092M2091 1141L2054 1071M2054 1084L2054 1071L2065 1079M2073 1199L2044 1140M2044 1152L2044 1140L2054 1147M1840 1185L1825 1127M1822 1139L1825 1127L1833 1136M1302 942L1352 916M1339 916L1352 916L1345 926M1285 964L1338 935M1326 935L1338 935L1331 945M1340 950L1379 919M1367 921L1379 919L1374 930M1357 943L1407 907M1395 908L1407 907L1402 918M1390 931L1431 897M1419 899L1431 897L1426 909M1253 988L1316 950M1303 950L1316 950L1309 960M1272 984L1324 957M1312 957L1324 957L1317 967M1293 979L1324 959M1312 960L1324 959L1318 970M1314 976L1371 945M1358 945L1371 945L1364 955M1329 972L1385 953M1372 951L1385 953L1376 962M1348 979L1376 967M1363 966L1376 967L1368 977M1328 984L1373 964M1360 963L1373 964L1365 973M1335 995L1397 965M1384 965L1397 965L1389 975M1354 991L1405 965M1393 965L1405 965L1398 975M1364 995L1404 970M1391 971L1404 970L1397 981M1304 995L1324 977M1312 980L1324 977L1319 989M1255 1010L1297 988M1284 988L1297 988L1290 998M1281 1015L1331 991M1319 991L1331 991L1324 1001M1244 1026L1283 1003M1270 1004L1283 1003L1276 1014M1303 1031L1343 1005M1331 1006L1343 1005L1337 1016M1359 1024L1384 1001M1372 1004L1384 1001L1379 1013M1366 1038L1396 1017M1383 1018L1396 1017L1390 1028M1297 1089L1323 1064M1311 1068L1323 1064L1319 1076M1324 996L1360 967M1348 969L1360 967L1356 978M1286 979L1321 964M1308 963L1321 964L1313 973M1266 1020L1286 1007M1274 1008L1286 1007L1280 1018M1285 1027L1319 1007M1307 1007L1319 1007L1313 1017M1304 1065L1336 1048M1324 1048L1336 1048L1329 1058M1279 1024L1304 1010M1291 1010L1304 1010L1297 1021M1400 913L1409 908M1396 909L1409 908L1402 919M1439 927L1481 906M1469 906L1481 906L1474 916M1406 965L1426 950M1414 952L1426 950L1421 961M1461 981L1484 955M1472 959L1484 955L1481 967M1477 976L1504 949M1492 952L1504 949L1500 961" fill="none" stroke="#000" stroke-width="2.3" stroke-linejoin="miter"/>
<g fill="none" stroke="#a8a8a8" stroke-width="1"><circle cx="722" cy="1748" r="8"/><circle cx="760" cy="1751" r="8"/><circle cx="783" cy="1755" r="8"/><circle cx="815" cy="1765" r="8"/><circle cx="727" cy="1771" r="8"/><circle cx="795" cy="1772" r="8"/><circle cx="755" cy="1771" r="8"/><circle cx="876" cy="1756" r="8"/><circle cx="314" cy="1607" r="8"/><circle cx="363" cy="1645" r="8"/><circle cx="373" cy="1791" r="8"/><circle cx="362" cy="1874" r="8"/><circle cx="595" cy="1788" r="8"/><circle cx="588" cy="1767" r="8"/><circle cx="828" cy="1724" r="8"/><circle cx="819" cy="1787" r="8"/><circle cx="782" cy="1857" r="8"/><circle cx="967" cy="1813" r="8"/><circle cx="793" cy="1948" r="8"/></g>
<g fill="rgba(30,110,240,0.75)" stroke="#2c5fae" stroke-width="1"><circle cx="351" cy="1743" r="8"/><circle cx="306" cy="1727" r="8"/><circle cx="363" cy="1720" r="8"/><circle cx="364" cy="1703" r="8"/><circle cx="367" cy="1736" r="8"/><circle cx="221" cy="1726" r="8"/><circle cx="303" cy="1690" r="8"/><circle cx="248" cy="1729" r="8"/><circle cx="305" cy="1709" r="8"/><circle cx="197" cy="1711" r="8"/><circle cx="248" cy="1725" r="8"/><circle cx="250" cy="1739" r="8"/><circle cx="314" cy="1723" r="8"/><circle cx="304" cy="1727" r="8"/><circle cx="316" cy="1711" r="8"/><circle cx="298" cy="1700" r="8"/><circle cx="365" cy="1704" r="8"/><circle cx="386" cy="1723" r="8"/><circle cx="392" cy="1728" r="8"/><circle cx="370" cy="1723" r="8"/><circle cx="230" cy="1705" r="8"/><circle cx="321" cy="1730" r="8"/><circle cx="520" cy="1778" r="8"/><circle cx="571" cy="1785" r="8"/><circle cx="482" cy="1788" r="8"/><circle cx="506" cy="1804" r="8"/><circle cx="450" cy="1818" r="8"/><circle cx="498" cy="1796" r="8"/><circle cx="416" cy="1781" r="8"/><circle cx="580" cy="1812" r="8"/><circle cx="452" cy="1777" r="8"/><circle cx="590" cy="1793" r="8"/><circle cx="567" cy="1783" r="8"/><circle cx="586" cy="1799" r="8"/><circle cx="538" cy="1790" r="8"/><circle cx="569" cy="1826" r="8"/><circle cx="558" cy="1767" r="8"/><circle cx="588" cy="1792" r="8"/><circle cx="592" cy="1806" r="8"/><circle cx="572" cy="1777" r="8"/><circle cx="783" cy="1771" r="8"/><circle cx="775" cy="1770" r="8"/><circle cx="811" cy="1751" r="8"/><circle cx="804" cy="1756" r="8"/><circle cx="213" cy="1656" r="8"/><circle cx="143" cy="1701" r="8"/><circle cx="189" cy="1697" r="8"/><circle cx="221" cy="1691" r="8"/><circle cx="227" cy="1695" r="8"/><circle cx="212" cy="1700" r="8"/><circle cx="248" cy="1697" r="8"/><circle cx="260" cy="1684" r="8"/><circle cx="295" cy="1696" r="8"/><circle cx="337" cy="1686" r="8"/><circle cx="354" cy="1691" r="8"/><circle cx="176" cy="1722" r="8"/><circle cx="217" cy="1717" r="8"/><circle cx="249" cy="1715" r="8"/><circle cx="278" cy="1721" r="8"/><circle cx="332" cy="1726" r="8"/><circle cx="347" cy="1717" r="8"/><circle cx="224" cy="1732" r="8"/><circle cx="248" cy="1731" r="8"/><circle cx="268" cy="1742" r="8"/><circle cx="291" cy="1747" r="8"/><circle cx="173" cy="1776" r="8"/><circle cx="204" cy="1778" r="8"/><circle cx="228" cy="1774" r="8"/><circle cx="185" cy="1789" r="8"/><circle cx="352" cy="1844" r="8"/><circle cx="160" cy="1878" r="8"/><circle cx="271" cy="1869" r="8"/><circle cx="392" cy="1874" r="8"/><circle cx="369" cy="1710" r="8"/><circle cx="325" cy="1907" r="8"/><circle cx="347" cy="1924" r="8"/><circle cx="362" cy="1942" r="8"/><circle cx="477" cy="1688" r="8"/><circle cx="535" cy="1695" r="8"/><circle cx="533" cy="1699" r="8"/><circle cx="504" cy="1707" r="8"/><circle cx="473" cy="1715" r="8"/><circle cx="462" cy="1720" r="8"/><circle cx="469" cy="1736" r="8"/><circle cx="537" cy="1728" r="8"/><circle cx="547" cy="1717" r="8"/><circle cx="557" cy="1724" r="8"/><circle cx="521" cy="1751" r="8"/><circle cx="561" cy="1749" r="8"/><circle cx="521" cy="1757" r="8"/><circle cx="429" cy="1759" r="8"/><circle cx="441" cy="1757" r="8"/><circle cx="683" cy="1719" r="8"/><circle cx="642" cy="1717" r="8"/><circle cx="652" cy="1755" r="8"/><circle cx="613" cy="1769" r="8"/><circle cx="556" cy="1774" r="8"/><circle cx="563" cy="1815" r="8"/><circle cx="431" cy="1812" r="8"/><circle cx="447" cy="1810" r="8"/><circle cx="442" cy="1831" r="8"/><circle cx="495" cy="1829" r="8"/><circle cx="526" cy="1828" r="8"/><circle cx="431" cy="1856" r="8"/><circle cx="555" cy="1866" r="8"/><circle cx="473" cy="1899" r="8"/><circle cx="537" cy="1907" r="8"/><circle cx="561" cy="1897" r="8"/><circle cx="619" cy="1911" r="8"/><circle cx="553" cy="1952" r="8"/><circle cx="569" cy="1958" r="8"/><circle cx="797" cy="1808" r="8"/><circle cx="719" cy="1795" r="8"/><circle cx="753" cy="1836" r="8"/></g>
<g fill="rgba(40,228,100,0.72)" stroke="#3a9a5a" stroke-width="1"><circle cx="304" cy="1729" r="8"/><circle cx="384" cy="1714" r="8"/><circle cx="311" cy="1700" r="8"/><circle cx="280" cy="1732" r="8"/><circle cx="238" cy="1706" r="8"/><circle cx="220" cy="1711" r="8"/><circle cx="552" cy="1787" r="8"/><circle cx="493" cy="1783" r="8"/><circle cx="448" cy="1789" r="8"/><circle cx="577" cy="1781" r="8"/><circle cx="486" cy="1766" r="8"/><circle cx="586" cy="1780" r="8"/><circle cx="551" cy="1774" r="8"/><circle cx="502" cy="1799" r="8"/><circle cx="547" cy="1775" r="8"/><circle cx="621" cy="1771" r="8"/><circle cx="601" cy="1798" r="8"/><circle cx="507" cy="1765" r="8"/><circle cx="545" cy="1777" r="8"/><circle cx="562" cy="1791" r="8"/><circle cx="502" cy="1776" r="8"/><circle cx="530" cy="1796" r="8"/><circle cx="419" cy="1783" r="8"/><circle cx="491" cy="1795" r="8"/><circle cx="490" cy="1774" r="8"/><circle cx="541" cy="1789" r="8"/><circle cx="469" cy="1797" r="8"/><circle cx="529" cy="1797" r="8"/><circle cx="576" cy="1784" r="8"/><circle cx="498" cy="1802" r="8"/><circle cx="533" cy="1780" r="8"/><circle cx="438" cy="1798" r="8"/><circle cx="420" cy="1778" r="8"/><circle cx="788" cy="1771" r="8"/><circle cx="824" cy="1745" r="8"/><circle cx="777" cy="1769" r="8"/><circle cx="824" cy="1758" r="8"/><circle cx="771" cy="1746" r="8"/><circle cx="815" cy="1770" r="8"/><circle cx="809" cy="1770" r="8"/><circle cx="689" cy="1777" r="8"/><circle cx="765" cy="1772" r="8"/><circle cx="671" cy="1756" r="8"/><circle cx="702" cy="1758" r="8"/><circle cx="739" cy="1765" r="8"/><circle cx="782" cy="1787" r="8"/><circle cx="703" cy="1759" r="8"/><circle cx="727" cy="1757" r="8"/><circle cx="794" cy="1757" r="8"/><circle cx="697" cy="1768" r="8"/><circle cx="781" cy="1762" r="8"/><circle cx="847" cy="1772" r="8"/><circle cx="781" cy="1786" r="8"/><circle cx="735" cy="1773" r="8"/><circle cx="812" cy="1784" r="8"/><circle cx="698" cy="1761" r="8"/><circle cx="790" cy="1747" r="8"/><circle cx="790" cy="1787" r="8"/><circle cx="787" cy="1752" r="8"/><circle cx="786" cy="1758" r="8"/><circle cx="804" cy="1782" r="8"/><circle cx="242" cy="1751" r="8"/><circle cx="319" cy="1762" r="8"/><circle cx="355" cy="1757" r="8"/><circle cx="397" cy="1765" r="8"/><circle cx="409" cy="1734" r="8"/><circle cx="375" cy="1788" r="8"/><circle cx="329" cy="1798" r="8"/><circle cx="254" cy="1803" r="8"/><circle cx="237" cy="1807" r="8"/><circle cx="260" cy="1815" r="8"/><circle cx="271" cy="1824" r="8"/><circle cx="283" cy="1836" r="8"/><circle cx="348" cy="1817" r="8"/><circle cx="376" cy="1833" r="8"/><circle cx="316" cy="1843" r="8"/><circle cx="317" cy="1858" r="8"/><circle cx="324" cy="1855" r="8"/><circle cx="373" cy="1843" r="8"/><circle cx="395" cy="1841" r="8"/><circle cx="223" cy="1843" r="8"/><circle cx="233" cy="1867" r="8"/><circle cx="235" cy="1877" r="8"/><circle cx="243" cy="1886" r="8"/><circle cx="274" cy="1869" r="8"/><circle cx="369" cy="1862" r="8"/><circle cx="369" cy="1886" r="8"/><circle cx="393" cy="1904" r="8"/><circle cx="371" cy="1889" r="8"/><circle cx="430" cy="1476" r="8"/><circle cx="514" cy="1488" r="8"/><circle cx="423" cy="1592" r="8"/><circle cx="518" cy="1659" r="8"/><circle cx="407" cy="1732" r="8"/><circle cx="412" cy="1753" r="8"/><circle cx="397" cy="1764" r="8"/><circle cx="433" cy="1791" r="8"/><circle cx="478" cy="1795" r="8"/><circle cx="501" cy="1770" r="8"/><circle cx="512" cy="1782" r="8"/><circle cx="514" cy="1791" r="8"/><circle cx="507" cy="1805" r="8"/><circle cx="511" cy="1819" r="8"/><circle cx="483" cy="1815" r="8"/><circle cx="475" cy="1843" r="8"/><circle cx="497" cy="1843" r="8"/><circle cx="487" cy="1833" r="8"/><circle cx="500" cy="1862" r="8"/><circle cx="509" cy="1872" r="8"/><circle cx="538" cy="1874" r="8"/><circle cx="461" cy="1876" r="8"/><circle cx="531" cy="1839" r="8"/><circle cx="535" cy="1845" r="8"/><circle cx="581" cy="1837" r="8"/><circle cx="563" cy="1791" r="8"/><circle cx="552" cy="1770" r="8"/><circle cx="511" cy="1745" r="8"/><circle cx="634" cy="1708" r="8"/><circle cx="652" cy="1717" r="8"/><circle cx="704" cy="1715" r="8"/><circle cx="614" cy="1726" r="8"/><circle cx="630" cy="1750" r="8"/><circle cx="606" cy="1746" r="8"/><circle cx="614" cy="1781" r="8"/><circle cx="625" cy="1791" r="8"/><circle cx="632" cy="1805" r="8"/><circle cx="666" cy="1788" r="8"/><circle cx="683" cy="1798" r="8"/><circle cx="694" cy="1755" r="8"/><circle cx="669" cy="1770" r="8"/><circle cx="642" cy="1770" r="8"/><circle cx="445" cy="1833" r="8"/><circle cx="397" cy="1845" r="8"/><circle cx="443" cy="1864" r="8"/><circle cx="459" cy="1876" r="8"/><circle cx="448" cy="1895" r="8"/><circle cx="752" cy="1591" r="8"/><circle cx="755" cy="1631" r="8"/><circle cx="849" cy="1672" r="8"/><circle cx="769" cy="1681" r="8"/><circle cx="759" cy="1701" r="8"/><circle cx="768" cy="1720" r="8"/><circle cx="705" cy="1717" r="8"/><circle cx="723" cy="1715" r="8"/><circle cx="730" cy="1747" r="8"/><circle cx="715" cy="1736" r="8"/><circle cx="793" cy="1720" r="8"/><circle cx="814" cy="1713" r="8"/><circle cx="825" cy="1747" r="8"/><circle cx="771" cy="1749" r="8"/><circle cx="757" cy="1753" r="8"/><circle cx="775" cy="1760" r="8"/><circle cx="800" cy="1760" r="8"/><circle cx="832" cy="1774" r="8"/><circle cx="718" cy="1779" r="8"/><circle cx="739" cy="1804" r="8"/><circle cx="777" cy="1817" r="8"/><circle cx="807" cy="1776" r="8"/></g>
<g fill="rgba(208,235,0,0.75)" stroke="#9aab2a" stroke-width="1"><circle cx="508" cy="1926" r="8"/><circle cx="443" cy="1971" r="8"/><circle cx="686" cy="1974" r="8"/><circle cx="694" cy="2044" r="8"/><circle cx="768" cy="1795" r="8"/><circle cx="784" cy="1795" r="8"/><circle cx="815" cy="1811" r="8"/><circle cx="723" cy="1815" r="8"/><circle cx="839" cy="1834" r="8"/><circle cx="746" cy="1847" r="8"/><circle cx="727" cy="1858" r="8"/><circle cx="778" cy="1854" r="8"/><circle cx="811" cy="1851" r="8"/><circle cx="847" cy="1851" r="8"/><circle cx="887" cy="1849" r="8"/><circle cx="890" cy="1866" r="8"/><circle cx="937" cy="1826" r="8"/><circle cx="897" cy="1885" r="8"/><circle cx="767" cy="1899" r="8"/><circle cx="753" cy="1916" r="8"/><circle cx="798" cy="1909" r="8"/><circle cx="803" cy="1916" r="8"/><circle cx="823" cy="1900" r="8"/><circle cx="761" cy="1937" r="8"/><circle cx="728" cy="1962" r="8"/><circle cx="709" cy="1973" r="8"/><circle cx="705" cy="1987" r="8"/><circle cx="735" cy="1979" r="8"/><circle cx="793" cy="1964" r="8"/><circle cx="748" cy="1993" r="8"/><circle cx="759" cy="1990" r="8"/><circle cx="768" cy="1985" r="8"/><circle cx="775" cy="1987" r="8"/><circle cx="779" cy="2002" r="8"/><circle cx="788" cy="2006" r="8"/><circle cx="744" cy="2013" r="8"/><circle cx="744" cy="2048" r="8"/><circle cx="709" cy="2058" r="8"/><circle cx="492" cy="2131" r="8"/></g>
<g fill="rgba(200,35,235,0.72)" stroke="#8a3a9e" stroke-width="1"><circle cx="349" cy="1721" r="8"/><circle cx="267" cy="1725" r="8"/><circle cx="480" cy="1826" r="8"/><circle cx="519" cy="1748" r="8"/><circle cx="441" cy="1786" r="8"/><circle cx="466" cy="1824" r="8"/><circle cx="453" cy="1778" r="8"/><circle cx="355" cy="1604" r="8"/><circle cx="359" cy="1613" r="8"/><circle cx="367" cy="1680" r="8"/><circle cx="385" cy="1696" r="8"/><circle cx="350" cy="1703" r="8"/><circle cx="363" cy="1715" r="8"/><circle cx="379" cy="1745" r="8"/><circle cx="283" cy="1782" r="8"/><circle cx="487" cy="1593" r="8"/><circle cx="403" cy="1613" r="8"/><circle cx="407" cy="1632" r="8"/><circle cx="418" cy="1644" r="8"/><circle cx="471" cy="1630" r="8"/><circle cx="462" cy="1638" r="8"/><circle cx="665" cy="1634" r="8"/><circle cx="434" cy="1651" r="8"/><circle cx="403" cy="1670" r="8"/><circle cx="418" cy="1669" r="8"/><circle cx="433" cy="1667" r="8"/><circle cx="406" cy="1679" r="8"/><circle cx="416" cy="1701" r="8"/><circle cx="426" cy="1696" r="8"/><circle cx="419" cy="1719" r="8"/><circle cx="425" cy="1726" r="8"/><circle cx="473" cy="1691" r="8"/><circle cx="412" cy="1769" r="8"/><circle cx="427" cy="1772" r="8"/><circle cx="442" cy="1772" r="8"/><circle cx="409" cy="1791" r="8"/><circle cx="426" cy="1820" r="8"/></g>
<g fill="rgba(235,28,28,0.72)" stroke="#b83232" stroke-width="1"><circle cx="776" cy="1761" r="8"/><circle cx="781" cy="1766" r="8"/><circle cx="788" cy="1762" r="8"/><circle cx="682" cy="1769" r="8"/><circle cx="740" cy="1751" r="8"/><circle cx="697" cy="1761" r="8"/><circle cx="776" cy="1760" r="8"/><circle cx="747" cy="1777" r="8"/><circle cx="735" cy="1767" r="8"/><circle cx="697" cy="1774" r="8"/><circle cx="713" cy="1782" r="8"/><circle cx="743" cy="1775" r="8"/><circle cx="809" cy="1769" r="8"/><circle cx="821" cy="1761" r="8"/><circle cx="765" cy="1789" r="8"/><circle cx="756" cy="1774" r="8"/><circle cx="900" cy="1719" r="8"/><circle cx="920" cy="1777" r="8"/><circle cx="908" cy="1723" r="8"/><circle cx="908" cy="1751" r="8"/><circle cx="985" cy="1767" r="8"/><circle cx="953" cy="1736" r="8"/><circle cx="938" cy="1755" r="8"/><circle cx="841" cy="1761" r="8"/><circle cx="964" cy="1763" r="8"/><circle cx="960" cy="1761" r="8"/><circle cx="925" cy="1731" r="8"/><circle cx="894" cy="1742" r="8"/><circle cx="837" cy="1758" r="8"/><circle cx="974" cy="1761" r="8"/><circle cx="883" cy="1757" r="8"/><circle cx="908" cy="1744" r="8"/><circle cx="882" cy="1761" r="8"/><circle cx="955" cy="1778" r="8"/><circle cx="916" cy="1774" r="8"/><circle cx="951" cy="1750" r="8"/><circle cx="912" cy="1735" r="8"/><circle cx="924" cy="1764" r="8"/><circle cx="894" cy="1756" r="8"/><circle cx="907" cy="1727" r="8"/><circle cx="926" cy="1744" r="8"/><circle cx="961" cy="1758" r="8"/><circle cx="892" cy="1736" r="8"/><circle cx="992" cy="1760" r="8"/><circle cx="927" cy="1776" r="8"/><circle cx="990" cy="1764" r="8"/><circle cx="873" cy="1744" r="8"/><circle cx="851" cy="1762" r="8"/><circle cx="925" cy="1765" r="8"/><circle cx="853" cy="1746" r="8"/><circle cx="951" cy="1747" r="8"/><circle cx="911" cy="1758" r="8"/><circle cx="901" cy="1740" r="8"/><circle cx="895" cy="1781" r="8"/><circle cx="899" cy="1744" r="8"/><circle cx="984" cy="1774" r="8"/><circle cx="913" cy="1764" r="8"/><circle cx="965" cy="1781" r="8"/><circle cx="859" cy="1750" r="8"/><circle cx="970" cy="1747" r="8"/><circle cx="956" cy="1771" r="8"/><circle cx="928" cy="1762" r="8"/><circle cx="914" cy="1747" r="8"/><circle cx="848" cy="1757" r="8"/><circle cx="985" cy="1752" r="8"/><circle cx="870" cy="1745" r="8"/><circle cx="871" cy="1759" r="8"/><circle cx="859" cy="1777" r="8"/><circle cx="904" cy="1742" r="8"/><circle cx="925" cy="1740" r="8"/><circle cx="735" cy="1542" r="8"/><circle cx="747" cy="1561" r="8"/><circle cx="781" cy="1565" r="8"/><circle cx="848" cy="1609" r="8"/><circle cx="918" cy="1647" r="8"/><circle cx="945" cy="1640" r="8"/><circle cx="983" cy="1667" r="8"/><circle cx="860" cy="1672" r="8"/><circle cx="832" cy="1686" r="8"/><circle cx="920" cy="1683" r="8"/><circle cx="951" cy="1689" r="8"/><circle cx="985" cy="1694" r="8"/><circle cx="853" cy="1697" r="8"/><circle cx="870" cy="1692" r="8"/><circle cx="970" cy="1708" r="8"/><circle cx="786" cy="1711" r="8"/><circle cx="839" cy="1717" r="8"/><circle cx="865" cy="1708" r="8"/><circle cx="915" cy="1712" r="8"/><circle cx="937" cy="1713" r="8"/><circle cx="962" cy="1719" r="8"/><circle cx="978" cy="1717" r="8"/><circle cx="985" cy="1738" r="8"/><circle cx="960" cy="1738" r="8"/><circle cx="988" cy="1749" r="8"/><circle cx="881" cy="1735" r="8"/><circle cx="908" cy="1735" r="8"/><circle cx="791" cy="1735" r="8"/><circle cx="821" cy="1735" r="8"/><circle cx="841" cy="1745" r="8"/><circle cx="865" cy="1744" r="8"/><circle cx="896" cy="1745" r="8"/><circle cx="922" cy="1753" r="8"/><circle cx="942" cy="1756" r="8"/><circle cx="963" cy="1754" r="8"/><circle cx="988" cy="1774" r="8"/><circle cx="867" cy="1788" r="8"/><circle cx="892" cy="1801" r="8"/><circle cx="960" cy="1808" r="8"/><circle cx="880" cy="1856" r="8"/><circle cx="789" cy="1753" r="8"/><circle cx="905" cy="1777" r="8"/><circle cx="883" cy="1774" r="8"/><circle cx="931" cy="1779" r="8"/><circle cx="727" cy="1767" r="8"/></g>
<path d="M351 1743L442 1741M431 1736L442 1741L431 1747M306 1727L375 1723M364 1718L375 1723L365 1730M363 1720L430 1736M421 1727L430 1736L418 1739M349 1721L438 1728M427 1721L438 1728L426 1733M364 1703L428 1702M417 1697L428 1702L417 1708M367 1736L460 1738M449 1732L460 1738L449 1744M221 1726L283 1726M272 1720L283 1726L272 1732M304 1729L372 1728M361 1722L372 1728L361 1734M303 1690L382 1694M372 1688L382 1694L371 1699M267 1725L363 1725M351 1719L363 1725L352 1731M248 1729L322 1714M310 1710L322 1714L312 1722M305 1709L382 1688M369 1685L382 1688L373 1696M197 1711L282 1707M271 1701L282 1707L271 1713M248 1725L344 1735M334 1728L344 1735L332 1740M250 1739L342 1747M332 1740L342 1747L331 1752M314 1723L401 1719M390 1713L401 1719L391 1725M384 1714L454 1711M443 1706L454 1711L443 1717M304 1727L396 1728M385 1722L396 1728L385 1734M311 1700L382 1709M372 1702L382 1709L370 1714M316 1711L389 1717M379 1710L389 1717L378 1722M298 1700L386 1716M376 1708L386 1716L374 1719M280 1732L371 1738M361 1731L371 1738L360 1743M365 1704L437 1695M425 1690L437 1695L426 1702M238 1706L299 1708M288 1702L299 1708L287 1714M386 1723L456 1733M446 1726L456 1733L444 1737M392 1728L455 1729M445 1723L455 1729L444 1735M370 1723L434 1733M424 1726L434 1733L422 1737M230 1705L299 1707M288 1701L299 1707L287 1713M321 1730L383 1731M372 1725L383 1731L372 1736M220 1711L311 1697M299 1693L311 1697L301 1705M552 1787L541 1780M548 1791L541 1780L554 1781M520 1778L508 1787M520 1785L508 1787L513 1776M571 1785L561 1758M559 1771L561 1758L570 1767M482 1788L461 1794M473 1797L461 1794L470 1785M506 1804L511 1828M514 1816L511 1828L503 1819M450 1818L428 1824M440 1827L428 1824L437 1816M480 1826L455 1834M467 1836L455 1834L464 1825M493 1783L475 1792M487 1793L475 1792L482 1782M448 1789L439 1803M450 1796L439 1803L440 1790M577 1781L568 1764M568 1777L568 1764L578 1772M486 1766L473 1752M476 1764L473 1752L485 1756M519 1748L511 1729M510 1742L511 1729L520 1737M498 1796L483 1787M490 1798L483 1787L496 1788M586 1780L578 1773M583 1785L578 1773L591 1776M416 1781L406 1777M413 1787L406 1777L418 1776M580 1812L562 1821M575 1821L562 1821L569 1811M441 1786L417 1786M428 1792L417 1786L428 1780M452 1777L431 1793M443 1791L431 1793L436 1781M590 1793L567 1800M580 1802L567 1800L576 1791M551 1774L523 1766M532 1774L523 1766L535 1763M502 1799L488 1800M500 1805L488 1800L499 1793M547 1775L522 1772M533 1779L522 1772L534 1768M621 1771L618 1781M627 1772L618 1781L616 1768M601 1798L587 1777M588 1789L587 1777L598 1783M507 1765L495 1764M506 1771L495 1764L507 1759M567 1783L546 1793M559 1794L546 1793L554 1783M586 1799L580 1790M581 1803L580 1790L591 1796M538 1790L509 1793M520 1798L509 1793L519 1786M545 1777L521 1763M528 1774L521 1763L534 1763M562 1791L540 1794M551 1798L540 1794L550 1787M569 1826L550 1845M562 1842L550 1845L553 1833M502 1776L489 1776M500 1781L489 1776L500 1770M558 1767L550 1756M552 1768L550 1756L561 1762M588 1792L579 1802M591 1798L579 1802L582 1790M530 1796L501 1793M511 1800L501 1793L512 1789M592 1806L579 1789M581 1801L579 1789L590 1794M419 1783L411 1759M409 1771L411 1759L420 1767M491 1795L478 1799M491 1801L478 1799L487 1790M572 1777L543 1779M554 1784L543 1779L553 1773M466 1824L443 1836M456 1836L443 1836L450 1826M490 1774L461 1773M472 1779L461 1773L472 1768M541 1789L529 1786M538 1794L529 1786L541 1783M469 1797L459 1810M470 1805L459 1810L461 1798M529 1797L508 1815M520 1812L508 1815L513 1803M576 1784L568 1772M570 1785L568 1772L579 1778M498 1802L487 1796M494 1806L487 1796L499 1795M533 1780L522 1776M530 1785L522 1776L534 1774M453 1778L436 1764M441 1776L436 1764L448 1767M438 1798L419 1812M431 1810L419 1812L425 1800M420 1778L410 1772M416 1783L410 1772L422 1773M776 1761L753 1768M765 1771L753 1768L762 1759M788 1771L759 1750M765 1761L759 1750L771 1752M781 1766L737 1779M749 1781L737 1779L746 1770M788 1762L750 1750M758 1759L750 1750L762 1748M722 1748L691 1757M703 1760L691 1757L699 1748M824 1745L801 1748M813 1752L801 1748L812 1741M682 1769L657 1780M670 1780L657 1780L665 1770M783 1771L760 1757M767 1768L760 1757L772 1758M777 1769L729 1765M739 1772L729 1765L740 1761M824 1758L798 1742M805 1753L798 1742L811 1743M771 1746L739 1715M743 1727L739 1715L751 1719M815 1770L763 1776M774 1781L763 1776L773 1769M809 1770L759 1748M767 1758L759 1748L772 1748M689 1777L652 1818M664 1813L652 1818L655 1805M760 1751L737 1752M748 1757L737 1752L748 1746M783 1755L731 1743M740 1751L731 1743L743 1740M765 1772L721 1751M729 1761L721 1751L734 1751M815 1765L786 1744M792 1755L786 1744L798 1745M740 1751L715 1738M722 1748L715 1738L728 1738M697 1761L665 1738M671 1749L665 1738L677 1740M671 1756L632 1760M643 1765L632 1760L642 1753M727 1771L704 1773M716 1778L704 1773L715 1766M702 1758L668 1768M680 1770L668 1768L677 1759M739 1765L692 1758M702 1766L692 1758L704 1754M782 1787L760 1793M772 1795L760 1793L769 1784M776 1760L739 1771M752 1773L739 1771L748 1762M703 1759L655 1743M663 1752L655 1743L667 1741M747 1777L705 1786M717 1789L705 1786L714 1778M727 1757L674 1760M685 1765L674 1760L684 1753M794 1757L753 1732M759 1743L753 1732L765 1733M697 1768L670 1764M680 1771L670 1764L682 1760M781 1762L769 1742M770 1755L769 1742L780 1748M735 1767L712 1784M724 1782L712 1784L717 1773M795 1772L753 1776M765 1780L753 1776L764 1769M847 1772L798 1771M809 1777L798 1771L809 1766M781 1786L744 1762M751 1773L744 1762L757 1763M755 1771L700 1770M711 1776L700 1770L712 1764M735 1773L693 1772M704 1778L693 1772L705 1766M812 1784L765 1782M776 1788L765 1782L776 1777M697 1774L668 1785M680 1787L668 1785L676 1776M775 1770L745 1761M754 1770L745 1761L757 1758M811 1751L776 1758M788 1762L776 1758L786 1750M713 1782L669 1757M675 1767L669 1757L681 1757M743 1775L700 1752M707 1763L700 1752L713 1752M809 1769L782 1763M791 1771L782 1763L794 1760M698 1761L664 1752M674 1760L664 1752L677 1749M790 1747L747 1739M757 1747L747 1739L759 1735M804 1756L765 1746M774 1754L765 1746L777 1743M821 1761L772 1780M784 1781L772 1780L780 1770M790 1787L768 1785M778 1792L768 1785L780 1780M787 1752L754 1743M763 1752L754 1743L767 1740M765 1789L721 1787M732 1793L721 1787L733 1781M756 1774L727 1749M731 1761L727 1749L739 1752M786 1758L750 1753M760 1761L750 1753L761 1749M804 1782L765 1796M777 1798L765 1796L773 1787M900 1719L925 1733M918 1723L925 1733L912 1733M920 1777L942 1796M937 1784L942 1796L929 1793M908 1723L908 1740M914 1729L908 1740L902 1729M908 1751L930 1725M919 1730L930 1725L928 1737M985 1767L1005 1775M997 1765L1005 1775L993 1776M953 1736L986 1729M974 1726L986 1729L977 1737M938 1755L970 1770M962 1760L970 1770L957 1771M841 1761L870 1745M858 1745L870 1745L863 1756M964 1763L988 1778M982 1768L988 1778L975 1778M960 1761L995 1759M984 1754L995 1759L985 1765M925 1731L951 1719M938 1718L951 1719L943 1729M894 1742L913 1728M901 1730L913 1728L908 1739M837 1758L858 1768M851 1758L858 1768L846 1769M974 1761L989 1755M976 1754L989 1755L981 1765M883 1757L918 1757M907 1751L918 1757L907 1763M908 1744L912 1718M905 1728L912 1718L916 1730M882 1761L903 1757M891 1753L903 1757L894 1765M955 1778L966 1767M954 1771L966 1767L963 1779M916 1774L934 1747M923 1752L934 1747L933 1759M951 1750L966 1765M962 1753L966 1765L954 1762M912 1735L941 1726M929 1723L941 1726L932 1735M924 1764L937 1750M925 1754L937 1750L934 1762M894 1756L927 1760M917 1752L927 1760L915 1764M907 1727L937 1713M925 1712L937 1713L929 1723M926 1744L939 1753M934 1742L939 1753L927 1752M961 1758L974 1743M963 1747L974 1743L972 1755M892 1736L878 1707M878 1720L878 1707L888 1715M992 1760L1007 1749M995 1751L1007 1749L1002 1761M927 1776L951 1764M939 1764L951 1764L944 1774M990 1764L1006 1761M994 1757L1006 1761L996 1769M873 1744L891 1746M880 1739L891 1746L880 1751M851 1762L881 1766M871 1759L881 1766L869 1771M925 1765L942 1754M929 1755L942 1754L935 1765M853 1746L875 1759M868 1748L875 1759L863 1758M951 1747L949 1725M944 1736L949 1725L956 1735M876 1756L880 1781M884 1770L880 1781L872 1771M911 1758L930 1773M924 1762L930 1773L917 1771M901 1740L926 1734M913 1731L926 1734L916 1743M895 1781L910 1770M897 1772L910 1770L905 1781M899 1744L906 1728M896 1736L906 1728L907 1741M984 1774L998 1748M987 1755L998 1748L998 1760M913 1764L936 1787M933 1775L936 1787L924 1783M965 1781L970 1765M961 1774L970 1765L972 1778M859 1750L884 1751M873 1745L884 1751L873 1756M970 1747L992 1743M980 1739L992 1743L982 1751M956 1771L977 1788M972 1777L977 1788L965 1786M928 1762L949 1776M943 1765L949 1776L936 1775M914 1747L935 1751M925 1744L935 1751L923 1755M848 1757L873 1758M862 1752L873 1758L862 1764M985 1752L1013 1750M1002 1745L1013 1750L1003 1757M870 1745L889 1719M877 1724L889 1719L887 1731M871 1759L869 1740M864 1752L869 1740L876 1751M859 1777L876 1772M864 1770L876 1772L867 1781M904 1742L931 1720M918 1722L931 1720L926 1732M925 1740L946 1753M940 1743L946 1753L934 1753M314 1607L336 1613M327 1604L336 1613L324 1616M355 1604L392 1618M383 1608L392 1618L379 1619M359 1613L392 1618M382 1610L392 1618L380 1622M363 1645L390 1656M382 1647L390 1656L377 1658M213 1656L284 1660M273 1653L284 1660L272 1665M143 1701L219 1707M208 1701L219 1707L208 1712M189 1697L250 1701M239 1695L250 1701L239 1706M221 1691L286 1694M276 1687L286 1694L275 1699M227 1695L291 1703M281 1696L291 1703L280 1707M212 1700L281 1703M270 1697L281 1703L270 1708M248 1697L295 1700M284 1693L295 1700L284 1705M260 1684L331 1682M320 1677L331 1682L320 1689M295 1696L364 1699M353 1693L364 1699L353 1704M337 1686L393 1689M383 1683L393 1689L382 1695M354 1691L364 1698M358 1687L364 1698L351 1697M176 1722L248 1726M238 1719L248 1726L237 1731M217 1717L302 1726M291 1719L302 1726L290 1730M249 1715L307 1724M297 1716L307 1724L295 1728M278 1721L338 1736M329 1728L338 1736L326 1739M332 1726L357 1726M346 1720L357 1726L346 1732M347 1717L398 1724M388 1717L398 1724L387 1728M224 1732L324 1736M313 1730L324 1736L313 1741M248 1731L324 1734M313 1728L324 1734L313 1740M268 1742L338 1736M327 1731L338 1736L328 1743M291 1747L367 1750M357 1743L367 1750L356 1755M173 1776L298 1774M287 1768L298 1774L287 1780M204 1778L273 1779M262 1773L273 1779L261 1785M228 1774L290 1770M278 1765L290 1770L279 1777M185 1789L260 1795M250 1788L260 1795L249 1800M352 1844L419 1842M408 1836L419 1842L408 1848M160 1878L236 1874M225 1869L236 1874L226 1880M271 1869L352 1870M341 1864L352 1870L341 1876M392 1874L420 1872M409 1867L420 1872L409 1879M369 1710L402 1717M392 1709L402 1717L390 1720M242 1751L271 1759M262 1751L271 1759L259 1762M319 1762L331 1770M325 1759L331 1770L319 1769M355 1757L374 1764M366 1755L374 1764L362 1766M397 1765L395 1762M395 1774L395 1762L405 1769M409 1734L400 1739M413 1739L400 1739L407 1729M375 1788L393 1793M384 1784L393 1793L381 1795M329 1798L355 1803M346 1795L355 1803L343 1807M254 1803L328 1803M317 1797L328 1803L317 1809M237 1807L260 1815M252 1806L260 1815L248 1817M260 1815L288 1820M278 1813L288 1820L276 1824M271 1824L310 1834M301 1826L310 1834L298 1837M283 1836L312 1839M302 1832L312 1839L301 1843M348 1817L367 1820M357 1812L367 1820L356 1824M376 1833L402 1839M393 1831L402 1839L390 1842M316 1843L352 1851M343 1843L352 1851L340 1855M317 1858L347 1860M336 1854L347 1860L335 1865M324 1855L347 1861M338 1852L347 1861L335 1864M373 1843L386 1848M378 1839L386 1848L374 1850M395 1841L400 1843M392 1834L400 1843L388 1845M223 1843L245 1848M236 1840L245 1848L233 1851M233 1867L257 1870M247 1863L257 1870L245 1875M235 1877L247 1883M239 1873L247 1883L234 1884M243 1886L271 1888M260 1881L271 1888L259 1893M274 1869L300 1877M291 1868L300 1877L288 1879M369 1862L378 1860M366 1857L378 1860L368 1868M369 1886L371 1879M362 1888L371 1879L374 1891M373 1791L416 1808M408 1799L416 1808L403 1810M362 1874L369 1869M357 1871L369 1869L364 1880M367 1680L393 1688M384 1679L393 1688L381 1690M385 1696L397 1700M388 1691L397 1700L384 1702M350 1703L371 1705M360 1698L371 1705L359 1710M363 1715L397 1717M386 1711L397 1717L385 1722M379 1745L411 1757M402 1747L411 1757L398 1758M283 1782L316 1782M304 1776L316 1782L305 1788M325 1907L387 1904M376 1899L387 1904L376 1910M393 1904L405 1905M395 1898L405 1905L394 1910M347 1924L436 1914M424 1909L436 1914L426 1921M362 1942L436 1936M425 1931L436 1936L426 1943M371 1889L369 1890M381 1887L369 1890L373 1878M430 1476L465 1495M458 1485L465 1495L453 1495M514 1488L536 1512M533 1500L536 1512L524 1507M423 1592L457 1613M451 1602L457 1613L445 1612M487 1593L531 1589M519 1584L531 1589L520 1596M403 1613L437 1623M428 1614L437 1623L425 1626M407 1632L447 1643M438 1634L447 1643L435 1646M418 1644L447 1652M438 1644L447 1652L435 1655M471 1630L519 1615M506 1613L519 1615L510 1624M462 1638L503 1637M492 1631L503 1637L492 1643M665 1634L688 1639M678 1631L688 1639L676 1642M434 1651L468 1665M460 1656L468 1665L455 1666M518 1659L495 1678M507 1675L495 1678L500 1666M403 1670L466 1669M455 1663L466 1669L455 1675M418 1669L488 1669M477 1663L488 1669L477 1675M433 1667L468 1665M456 1660L468 1665L457 1672M406 1679L442 1684M432 1677L442 1684L430 1688M416 1701L459 1701M448 1696L459 1701L448 1707M426 1696L454 1700M444 1692L454 1700L442 1704M419 1719L450 1720M440 1714L450 1720L439 1726M425 1726L437 1729M428 1720L437 1729L424 1732M473 1691L535 1687M523 1682L535 1687L524 1693M412 1769L464 1764M453 1759L464 1764L454 1770M427 1772L480 1760M468 1757L480 1760L470 1768M442 1772L500 1757M488 1754L500 1757L491 1765M409 1791L468 1789M456 1783L468 1789L457 1795M426 1820L462 1803M450 1803L462 1803L455 1813M477 1688L514 1669M502 1668L514 1669L507 1679M535 1695L613 1701M602 1695L613 1701L601 1706M533 1699L604 1695M593 1689L604 1695L593 1701M504 1707L566 1701M554 1696L566 1701L555 1708M473 1715L613 1715M601 1709L613 1715L601 1721M462 1720L521 1717M510 1712L521 1717L510 1723M469 1736L556 1739M545 1733L556 1739L544 1745M537 1728L606 1732M595 1726L606 1732L594 1738M547 1717L614 1715M603 1710L614 1715L603 1721M557 1724L597 1731M587 1723L597 1731L585 1735M521 1751L588 1750M577 1744L588 1750L577 1756M561 1749L594 1753M583 1746L594 1753L582 1758M521 1757L580 1758M569 1752L580 1758L569 1764M429 1759L480 1760M469 1754L480 1760L469 1766M441 1757L473 1758M462 1752L473 1758L461 1764M683 1719L710 1720M699 1714L710 1720L699 1726M642 1717L710 1722M699 1715L710 1722L699 1727M652 1755L683 1764M674 1755L683 1764L671 1766M613 1769L680 1774M669 1767L680 1774L668 1779M556 1774L531 1781M544 1783L531 1781L540 1772M563 1815L652 1815M641 1809L652 1815L641 1821M431 1812L507 1826M497 1818L507 1826L495 1829M447 1810L487 1815M476 1808L487 1815L475 1820M442 1831L494 1833M483 1826L494 1833L482 1838M495 1829L576 1833M566 1826L576 1833L565 1838M526 1828L563 1834M553 1827L563 1834L551 1838M431 1856L487 1850M475 1845L487 1850L476 1857M555 1866L611 1871M600 1864L611 1871L599 1876M407 1732L402 1738M414 1734L402 1738L406 1726M412 1753L402 1750M411 1759L402 1750L414 1748M397 1764L399 1767M399 1754L399 1767L388 1760M433 1791L442 1791M431 1785L442 1791L431 1797M478 1795L462 1803M475 1803L462 1803L469 1793M501 1770L499 1765M498 1778L499 1765L509 1772M512 1782L511 1798M518 1788L511 1798L506 1786M514 1791L511 1808M519 1799L511 1808L507 1796M507 1805L502 1815M512 1808L502 1815L502 1803M511 1819L502 1826M514 1823L502 1826L507 1814M483 1815L476 1819M489 1819L476 1819L484 1809M475 1843L483 1850M478 1838L483 1850L471 1847M497 1843L504 1850M500 1838L504 1850L492 1846M487 1833L495 1834M486 1826L495 1834L483 1838M500 1862L497 1855M497 1867L497 1855L507 1862M509 1872L538 1876M528 1869L538 1876L527 1880M538 1874L549 1879M541 1869L549 1879L536 1879M461 1876L457 1876M468 1882L457 1876L468 1870M531 1839L531 1848M537 1837L531 1848L526 1837M535 1845L512 1843M523 1850L512 1843L524 1838M581 1837L561 1838M572 1843L561 1838L572 1831M563 1791L561 1800M569 1790L561 1800L557 1788M552 1770L540 1774M552 1776L540 1774L549 1765M511 1745L492 1753M504 1754L492 1753L499 1743M634 1708L606 1722M618 1723L606 1722L613 1712M652 1717L683 1720M673 1713L683 1720L672 1725M704 1715L710 1719M703 1708L710 1719L698 1718M614 1726L606 1732M618 1730L606 1732L611 1721M630 1750L614 1757M627 1757L614 1757L622 1747M606 1746L580 1753M592 1756L580 1753L589 1745M614 1781L606 1784M618 1786L606 1784L614 1775M625 1791L613 1793M624 1797L613 1793L623 1785M632 1805L623 1803M633 1811L623 1803L635 1800M666 1788L654 1791M666 1794L654 1791L663 1782M683 1798L652 1801M664 1806L652 1801L663 1794M694 1755L682 1757M693 1761L682 1757L692 1749M669 1770L649 1774M661 1778L649 1774L659 1766M642 1770L632 1774M644 1776L632 1774L640 1765M445 1833L442 1829M445 1841L442 1829L454 1833M397 1845L423 1841M411 1837L423 1841L413 1848M443 1864L469 1870M460 1861L469 1870L457 1873M459 1876L457 1883M466 1873L457 1883L454 1870M595 1788L571 1796M583 1798L571 1796L580 1787M588 1767L585 1770M596 1765L585 1770L587 1758M448 1895L442 1891M448 1902L442 1891L454 1892M473 1899L550 1880M538 1877L550 1880L541 1888M537 1907L623 1890M611 1887L623 1890L613 1898M561 1897L649 1880M637 1876L649 1880L639 1888M619 1911L710 1888M698 1885L710 1888L701 1896M508 1926L502 1921M508 1933L502 1921L515 1923M553 1952L652 1928M640 1925L652 1928L643 1937M569 1958L650 1928M638 1927L650 1928L642 1938M443 1971L462 1971M451 1966L462 1971L451 1977M686 1974L710 1961M698 1961L710 1961L703 1971M694 2044L710 2028M698 2032L710 2028L706 2040M735 1542L754 1568M752 1556L754 1568L743 1563M747 1561L725 1574M737 1574L725 1574L731 1564M781 1565L752 1576M765 1577L752 1576L760 1567M752 1591L737 1607M749 1603L737 1607L740 1595M755 1631L749 1643M759 1636L749 1643L749 1630M848 1609L854 1615M850 1603L854 1615L842 1612M918 1647L939 1652M930 1644L939 1652L927 1655M945 1640L943 1646M952 1637L943 1646L940 1634M983 1667L984 1672M987 1660L984 1672L976 1662M860 1672L873 1681M867 1670L873 1681L860 1680M832 1686L794 1688M806 1694L794 1688L805 1682M920 1683L929 1685M920 1677L929 1685L918 1689M951 1689L972 1691M962 1684L972 1691L961 1696M985 1694L1006 1695M995 1688L1006 1695L995 1700M853 1697L881 1703M872 1695L881 1703L870 1706M870 1692L833 1702M846 1705L833 1702L843 1693M970 1708L978 1712M970 1701L978 1712L965 1712M786 1711L824 1712M813 1706L824 1712L812 1718M839 1717L878 1722M868 1715L878 1722L866 1727M865 1708L910 1710M899 1704L910 1710L899 1715M915 1712L924 1720M920 1709L924 1720L912 1717M937 1713L921 1722M933 1722L921 1722L927 1712M962 1719L1002 1724M992 1717L1002 1724L991 1728M978 1717L974 1710M974 1722L974 1710L984 1717M985 1738L992 1744M986 1732L992 1744L979 1742M960 1738L938 1744M951 1747L938 1744L948 1735M988 1749L967 1753M979 1756L967 1753L977 1745M881 1735L940 1733M929 1727L940 1733L929 1739M908 1735L937 1738M926 1731L937 1738L925 1743M791 1735L768 1742M780 1744L768 1742L776 1733M821 1735L791 1745M803 1747L791 1745L799 1736M841 1745L789 1753M801 1757L789 1753L799 1745M865 1744L913 1745M903 1739L913 1745L902 1751M896 1745L885 1760M896 1754L885 1760L887 1747M922 1753L913 1767M924 1760L913 1767L914 1754M942 1756L976 1760M965 1753L976 1760L964 1764M963 1754L953 1760M965 1760L953 1760L960 1749M988 1774L978 1774M989 1780L978 1774L989 1768M867 1788L853 1785M862 1793L853 1785L865 1782M892 1801L904 1808M897 1797L904 1808L891 1807M960 1808L976 1795M963 1797L976 1795L971 1807M880 1856L889 1847M877 1850L889 1847L885 1859M789 1753L775 1756M787 1759L775 1756L784 1748M905 1777L913 1770M901 1773L913 1770L909 1782M883 1774L896 1770M883 1768L896 1770L887 1779M931 1779L940 1774M928 1775L940 1774L934 1785M727 1767L711 1770M723 1774L711 1770L720 1762M849 1672L839 1677M851 1678L839 1677L847 1667M769 1681L766 1683M778 1683L766 1683L773 1673M759 1701L723 1708M735 1712L723 1708L733 1700M768 1720L728 1735M741 1736L728 1735L737 1725M705 1717L698 1722M711 1720L698 1722L704 1711M723 1715L705 1722M718 1724L705 1722L713 1713M730 1747L711 1756M723 1757L711 1756L718 1746M715 1736L707 1742M720 1741L707 1742L713 1731M793 1720L775 1728M787 1729L775 1728L783 1718M814 1713L793 1722M805 1723L793 1722L800 1713M825 1747L800 1753M812 1756L800 1753L809 1744M771 1749L753 1756M766 1757L753 1756L761 1747M757 1753L736 1760M748 1762L736 1760L744 1751M775 1760L753 1763M765 1767L753 1763L763 1756M800 1760L778 1765M790 1768L778 1765L788 1757M832 1774L810 1777M822 1781L810 1777L820 1770M718 1779L711 1776M718 1786L711 1776L723 1775M739 1804L732 1808M745 1808L732 1808L739 1797M777 1817L720 1827M731 1831L720 1827L729 1820M807 1776L798 1777M810 1781L798 1777L808 1769M797 1808L853 1795M841 1792L853 1795L843 1803M719 1795L727 1792M714 1791L727 1792L719 1801M753 1836L780 1827M768 1825L780 1827L771 1836M768 1795L769 1788M761 1797L769 1788L772 1800M784 1795L785 1788M777 1798L785 1788L789 1800M815 1811L828 1817M821 1807L828 1817L816 1818M723 1815L700 1817M711 1822L700 1817L711 1810M839 1834L839 1818M833 1829L839 1818L845 1829M746 1847L780 1831M768 1830L780 1831L773 1841M727 1858L780 1831M768 1831L780 1831L773 1841M778 1854L789 1850M777 1848L789 1850L780 1859M811 1851L897 1820M885 1818L897 1820L889 1829M847 1851L848 1838M841 1849L848 1838L853 1849M887 1849L901 1833M889 1837L901 1833L898 1845M890 1866L901 1865M889 1861L901 1865L891 1872M937 1826L938 1827M931 1817L938 1827L926 1828M828 1724L825 1724M836 1730L825 1724L836 1718M819 1787L846 1788M835 1782L846 1788L835 1794M782 1857L785 1852M774 1858L785 1852L784 1865M967 1813L970 1802M961 1811L970 1802L972 1815M897 1885L905 1880M892 1882L905 1880L899 1891M767 1899L835 1880M823 1877L835 1880L826 1889M753 1916L784 1908M771 1906L784 1908L774 1917M798 1909L842 1880M830 1881L842 1880L836 1891M803 1916L892 1882M880 1880L892 1882L884 1891M823 1900L860 1884M848 1883L860 1884L852 1893M761 1937L793 1920M780 1920L793 1920L786 1930M728 1962L736 1958M723 1957L736 1958L728 1968M709 1973L736 1948M724 1951L736 1948L732 1960M705 1987L776 1948M764 1949L776 1948L770 1959M735 1979L793 1939M780 1940L793 1939L787 1950M793 1964L853 1914M841 1916L853 1914L848 1925M748 1993L805 1937M793 1940L805 1937L801 1949M759 1990L821 1937M809 1940L821 1937L816 1949M768 1985L855 1919M842 1921L855 1919L849 1930M775 1987L848 1945M835 1945L848 1945L841 1956M779 2002L833 1959M821 1961L833 1959L828 1971M788 2006L832 1974M819 1976L832 1974L826 1986M744 2013L832 1969M819 1969L832 1969L824 1979M744 2048L789 2010M777 2013L789 2010L784 2022M709 2058L768 2026M755 2026L768 2026L761 2036M793 1948L800 1939M788 1944L800 1939L797 1951M492 2131L519 2106M507 2109L519 2106L515 2118" fill="none" stroke="#000" stroke-width="2.3" stroke-linejoin="miter"/>
<g fill="none" stroke="#a8a8a8" stroke-width="1"><circle cx="1651" cy="1801" r="8"/><circle cx="1660" cy="1845" r="8"/><circle cx="1596" cy="1831" r="8"/><circle cx="1604" cy="1799" r="8"/><circle cx="1665" cy="1764" r="8"/><circle cx="1603" cy="1770" r="8"/><circle cx="1674" cy="1819" r="8"/><circle cx="1680" cy="1793" r="8"/><circle cx="1482" cy="1746" r="8"/><circle cx="1602" cy="1692" r="8"/><circle cx="1660" cy="1684" r="8"/><circle cx="1641" cy="1775" r="8"/><circle cx="1665" cy="1772" r="8"/><circle cx="1922" cy="1647" r="8"/></g>
<g fill="rgba(30,110,240,0.75)" stroke="#2c5fae" stroke-width="1"><circle cx="1597" cy="1812" r="8"/><circle cx="1688" cy="1772" r="8"/><circle cx="1677" cy="1827" r="8"/><circle cx="1700" cy="1815" r="8"/><circle cx="1658" cy="1790" r="8"/><circle cx="1702" cy="1810" r="8"/><circle cx="1747" cy="1761" r="8"/><circle cx="1741" cy="1669" r="8"/><circle cx="1775" cy="1836" r="8"/><circle cx="1704" cy="1706" r="8"/><circle cx="1740" cy="1690" r="8"/><circle cx="1748" cy="1802" r="8"/><circle cx="1724" cy="1798" r="8"/><circle cx="1774" cy="1801" r="8"/><circle cx="1732" cy="1769" r="8"/><circle cx="1799" cy="1735" r="8"/><circle cx="1718" cy="1762" r="8"/><circle cx="1759" cy="1685" r="8"/><circle cx="1744" cy="1742" r="8"/><circle cx="1740" cy="1734" r="8"/><circle cx="1767" cy="1758" r="8"/><circle cx="1762" cy="1751" r="8"/><circle cx="1784" cy="1814" r="8"/><circle cx="1761" cy="1786" r="8"/><circle cx="1738" cy="1710" r="8"/><circle cx="1771" cy="1801" r="8"/><circle cx="1756" cy="1792" r="8"/><circle cx="1762" cy="1830" r="8"/><circle cx="1782" cy="1800" r="8"/><circle cx="1711" cy="1741" r="8"/><circle cx="1745" cy="1700" r="8"/><circle cx="1758" cy="1790" r="8"/><circle cx="1746" cy="1721" r="8"/><circle cx="1699" cy="1781" r="8"/><circle cx="1719" cy="1751" r="8"/><circle cx="1720" cy="1754" r="8"/><circle cx="1754" cy="1729" r="8"/><circle cx="1772" cy="1808" r="8"/><circle cx="1757" cy="1667" r="8"/><circle cx="1768" cy="1702" r="8"/><circle cx="1750" cy="1701" r="8"/><circle cx="1678" cy="1683" r="8"/><circle cx="1678" cy="1672" r="8"/><circle cx="1734" cy="1687" r="8"/><circle cx="1704" cy="1673" r="8"/><circle cx="1725" cy="1670" r="8"/><circle cx="1693" cy="1690" r="8"/><circle cx="1671" cy="1702" r="8"/><circle cx="1668" cy="1690" r="8"/><circle cx="1707" cy="1691" r="8"/><circle cx="1676" cy="1666" r="8"/><circle cx="1678" cy="1710" r="8"/><circle cx="1714" cy="1696" r="8"/><circle cx="1516" cy="1688" r="8"/><circle cx="1493" cy="1734" r="8"/><circle cx="1472" cy="1813" r="8"/><circle cx="1480" cy="1823" r="8"/><circle cx="1587" cy="1670" r="8"/><circle cx="1574" cy="1683" r="8"/><circle cx="1637" cy="1706" r="8"/><circle cx="1634" cy="1716" r="8"/><circle cx="1604" cy="1721" r="8"/><circle cx="1628" cy="1731" r="8"/><circle cx="1663" cy="1740" r="8"/><circle cx="1682" cy="1732" r="8"/><circle cx="1671" cy="1715" r="8"/><circle cx="1704" cy="1649" r="8"/><circle cx="1708" cy="1670" r="8"/><circle cx="1742" cy="1680" r="8"/><circle cx="1751" cy="1689" r="8"/><circle cx="1809" cy="1651" r="8"/><circle cx="1806" cy="1701" r="8"/><circle cx="1809" cy="1721" r="8"/><circle cx="1782" cy="1697" r="8"/><circle cx="1763" cy="1734" r="8"/><circle cx="1796" cy="1734" r="8"/><circle cx="1728" cy="1725" r="8"/><circle cx="1706" cy="1766" r="8"/><circle cx="1813" cy="1759" r="8"/><circle cx="1823" cy="1765" r="8"/><circle cx="1804" cy="1768" r="8"/><circle cx="1578" cy="1735" r="8"/><circle cx="1539" cy="1759" r="8"/><circle cx="1547" cy="1778" r="8"/><circle cx="1535" cy="1775" r="8"/><circle cx="1704" cy="1690" r="8"/><circle cx="1619" cy="1852" r="8"/><circle cx="1758" cy="1863" r="8"/><circle cx="1775" cy="1859" r="8"/><circle cx="1772" cy="1923" r="8"/><circle cx="1782" cy="1925" r="8"/><circle cx="1734" cy="1965" r="8"/><circle cx="1778" cy="1980" r="8"/><circle cx="1689" cy="1990" r="8"/><circle cx="1635" cy="2013" r="8"/><circle cx="1813" cy="1833" r="8"/><circle cx="1806" cy="1806" r="8"/><circle cx="1820" cy="1809" r="8"/><circle cx="1844" cy="1815" r="8"/><circle cx="1859" cy="1737" r="8"/><circle cx="1726" cy="1477" r="8"/><circle cx="1590" cy="2081" r="8"/><circle cx="1658" cy="2061" r="8"/><circle cx="1778" cy="2070" r="8"/><circle cx="1771" cy="2057" r="8"/><circle cx="1759" cy="2040" r="8"/><circle cx="1742" cy="2026" r="8"/><circle cx="1786" cy="2035" r="8"/><circle cx="1783" cy="2045" r="8"/><circle cx="1711" cy="2112" r="8"/><circle cx="1689" cy="1576" r="8"/></g>
<g fill="rgba(40,228,100,0.72)" stroke="#3a9a5a" stroke-width="1"><circle cx="1679" cy="1809" r="8"/><circle cx="1683" cy="1819" r="8"/><circle cx="1641" cy="1797" r="8"/><circle cx="1677" cy="1808" r="8"/><circle cx="1669" cy="1828" r="8"/><circle cx="1669" cy="1839" r="8"/><circle cx="1634" cy="1821" r="8"/><circle cx="1635" cy="1794" r="8"/><circle cx="1633" cy="1795" r="8"/><circle cx="1598" cy="1829" r="8"/><circle cx="1743" cy="1806" r="8"/><circle cx="1583" cy="1798" r="8"/><circle cx="1593" cy="1786" r="8"/><circle cx="1673" cy="1833" r="8"/><circle cx="1632" cy="1803" r="8"/><circle cx="1671" cy="1828" r="8"/><circle cx="1567" cy="1808" r="8"/><circle cx="1646" cy="1803" r="8"/><circle cx="1659" cy="1790" r="8"/><circle cx="1703" cy="1810" r="8"/><circle cx="1721" cy="1818" r="8"/><circle cx="1645" cy="1823" r="8"/><circle cx="1687" cy="1789" r="8"/><circle cx="1643" cy="1782" r="8"/><circle cx="1631" cy="1779" r="8"/><circle cx="1630" cy="1814" r="8"/><circle cx="1640" cy="1779" r="8"/><circle cx="1661" cy="1803" r="8"/><circle cx="1682" cy="1850" r="8"/><circle cx="1630" cy="1819" r="8"/><circle cx="1597" cy="1838" r="8"/><circle cx="1711" cy="1814" r="8"/><circle cx="1704" cy="1808" r="8"/><circle cx="1610" cy="1796" r="8"/><circle cx="1691" cy="1783" r="8"/><circle cx="1673" cy="1829" r="8"/><circle cx="1557" cy="1802" r="8"/><circle cx="1622" cy="1802" r="8"/><circle cx="1744" cy="1803" r="8"/><circle cx="1683" cy="1808" r="8"/><circle cx="1603" cy="1824" r="8"/><circle cx="1673" cy="1784" r="8"/><circle cx="1731" cy="1782" r="8"/><circle cx="1739" cy="1833" r="8"/><circle cx="1633" cy="1829" r="8"/><circle cx="1662" cy="1802" r="8"/><circle cx="1598" cy="1821" r="8"/><circle cx="1673" cy="1799" r="8"/><circle cx="1706" cy="1802" r="8"/><circle cx="1633" cy="1789" r="8"/><circle cx="1680" cy="1800" r="8"/><circle cx="1646" cy="1850" r="8"/><circle cx="1674" cy="1779" r="8"/><circle cx="1637" cy="1809" r="8"/><circle cx="1573" cy="1795" r="8"/><circle cx="1592" cy="1798" r="8"/><circle cx="1670" cy="1777" r="8"/><circle cx="1654" cy="1817" r="8"/><circle cx="1594" cy="1813" r="8"/><circle cx="1625" cy="1812" r="8"/><circle cx="1624" cy="1827" r="8"/><circle cx="1581" cy="1808" r="8"/><circle cx="1696" cy="1840" r="8"/><circle cx="1710" cy="1775" r="8"/><circle cx="1648" cy="1822" r="8"/><circle cx="1637" cy="1820" r="8"/><circle cx="1695" cy="1814" r="8"/><circle cx="1625" cy="1807" r="8"/><circle cx="1753" cy="1800" r="8"/><circle cx="1622" cy="1827" r="8"/><circle cx="1654" cy="1812" r="8"/><circle cx="1701" cy="1838" r="8"/><circle cx="1624" cy="1784" r="8"/><circle cx="1631" cy="1821" r="8"/><circle cx="1710" cy="1803" r="8"/><circle cx="1709" cy="1815" r="8"/><circle cx="1635" cy="1810" r="8"/><circle cx="1664" cy="1782" r="8"/><circle cx="1695" cy="1805" r="8"/><circle cx="1623" cy="1797" r="8"/><circle cx="1639" cy="1800" r="8"/><circle cx="1673" cy="1800" r="8"/><circle cx="1613" cy="1810" r="8"/><circle cx="1658" cy="1785" r="8"/><circle cx="1669" cy="1818" r="8"/><circle cx="1687" cy="1825" r="8"/><circle cx="1664" cy="1835" r="8"/><circle cx="1697" cy="1769" r="8"/><circle cx="1625" cy="1797" r="8"/><circle cx="1594" cy="1794" r="8"/><circle cx="1637" cy="1803" r="8"/><circle cx="1619" cy="1780" r="8"/><circle cx="1572" cy="1808" r="8"/><circle cx="1631" cy="1787" r="8"/><circle cx="1666" cy="1828" r="8"/><circle cx="1623" cy="1842" r="8"/><circle cx="1724" cy="1780" r="8"/><circle cx="1696" cy="1813" r="8"/><circle cx="1591" cy="1776" r="8"/><circle cx="1637" cy="1804" r="8"/><circle cx="1646" cy="1784" r="8"/><circle cx="1618" cy="1798" r="8"/><circle cx="1592" cy="1782" r="8"/><circle cx="1653" cy="1791" r="8"/><circle cx="1615" cy="1810" r="8"/><circle cx="1617" cy="1807" r="8"/><circle cx="1617" cy="1842" r="8"/><circle cx="1642" cy="1774" r="8"/><circle cx="1725" cy="1812" r="8"/><circle cx="1648" cy="1777" r="8"/><circle cx="1628" cy="1799" r="8"/><circle cx="1689" cy="1843" r="8"/><circle cx="1687" cy="1811" r="8"/><circle cx="1665" cy="1788" r="8"/><circle cx="1649" cy="1804" r="8"/><circle cx="1701" cy="1791" r="8"/><circle cx="1693" cy="1808" r="8"/><circle cx="1652" cy="1855" r="8"/><circle cx="1652" cy="1817" r="8"/><circle cx="1660" cy="1801" r="8"/><circle cx="1679" cy="1832" r="8"/><circle cx="1673" cy="1818" r="8"/><circle cx="1702" cy="1803" r="8"/><circle cx="1620" cy="1831" r="8"/><circle cx="1698" cy="1800" r="8"/><circle cx="1591" cy="1828" r="8"/><circle cx="1745" cy="1739" r="8"/><circle cx="1738" cy="1768" r="8"/><circle cx="1775" cy="1710" r="8"/><circle cx="1761" cy="1840" r="8"/><circle cx="1770" cy="1756" r="8"/><circle cx="1790" cy="1754" r="8"/><circle cx="1746" cy="1787" r="8"/><circle cx="1773" cy="1756" r="8"/><circle cx="1743" cy="1756" r="8"/><circle cx="1776" cy="1700" r="8"/><circle cx="1706" cy="1736" r="8"/><circle cx="1736" cy="1752" r="8"/><circle cx="1764" cy="1767" r="8"/><circle cx="1759" cy="1749" r="8"/><circle cx="1762" cy="1681" r="8"/><circle cx="1717" cy="1749" r="8"/><circle cx="1753" cy="1725" r="8"/><circle cx="1727" cy="1715" r="8"/><circle cx="1738" cy="1739" r="8"/><circle cx="1731" cy="1728" r="8"/><circle cx="1763" cy="1780" r="8"/><circle cx="1693" cy="1747" r="8"/><circle cx="1707" cy="1698" r="8"/><circle cx="1768" cy="1734" r="8"/><circle cx="1718" cy="1693" r="8"/><circle cx="1806" cy="1742" r="8"/><circle cx="1839" cy="1737" r="8"/><circle cx="1778" cy="1775" r="8"/><circle cx="1827" cy="1784" r="8"/><circle cx="1620" cy="1771" r="8"/><circle cx="1682" cy="1768" r="8"/><circle cx="1720" cy="1766" r="8"/><circle cx="1754" cy="1754" r="8"/><circle cx="1768" cy="1763" r="8"/><circle cx="1797" cy="1753" r="8"/><circle cx="1540" cy="1811" r="8"/><circle cx="1565" cy="1818" r="8"/><circle cx="1582" cy="1808" r="8"/><circle cx="1596" cy="1796" r="8"/><circle cx="1573" cy="1837" r="8"/><circle cx="1582" cy="1852" r="8"/><circle cx="1602" cy="1842" r="8"/><circle cx="1621" cy="1797" r="8"/><circle cx="1634" cy="1809" r="8"/><circle cx="1620" cy="1828" r="8"/><circle cx="1634" cy="1847" r="8"/><circle cx="1651" cy="1802" r="8"/><circle cx="1659" cy="1823" r="8"/><circle cx="1671" cy="1799" r="8"/><circle cx="1678" cy="1815" r="8"/><circle cx="1689" cy="1801" r="8"/><circle cx="1685" cy="1833" r="8"/><circle cx="1671" cy="1849" r="8"/><circle cx="1699" cy="1794" r="8"/><circle cx="1703" cy="1815" r="8"/><circle cx="1713" cy="1804" r="8"/><circle cx="1723" cy="1818" r="8"/><circle cx="1730" cy="1797" r="8"/><circle cx="1742" cy="1811" r="8"/><circle cx="1744" cy="1849" r="8"/><circle cx="1720" cy="1837" r="8"/><circle cx="1692" cy="1866" r="8"/><circle cx="1651" cy="1906" r="8"/><circle cx="1727" cy="1890" r="8"/><circle cx="1772" cy="1877" r="8"/><circle cx="1590" cy="1823" r="8"/><circle cx="1608" cy="1815" r="8"/><circle cx="1642" cy="1832" r="8"/><circle cx="1665" cy="1837" r="8"/><circle cx="1703" cy="1846" r="8"/><circle cx="1558" cy="1820" r="8"/><circle cx="1604" cy="1852" r="8"/><circle cx="2092" cy="1590" r="8"/><circle cx="2075" cy="1608" r="8"/><circle cx="1943" cy="1660" r="8"/><circle cx="1891" cy="1768" r="8"/><circle cx="1855" cy="1803" r="8"/><circle cx="1943" cy="1836" r="8"/></g>
<g fill="rgba(208,235,0,0.75)" stroke="#9aab2a" stroke-width="1"><circle cx="1426" cy="1651" r="8"/><circle cx="1466" cy="1650" r="8"/><circle cx="1498" cy="1660" r="8"/><circle cx="1430" cy="1678" r="8"/><circle cx="1467" cy="1688" r="8"/><circle cx="1436" cy="1713" r="8"/><circle cx="1361" cy="1729" r="8"/><circle cx="1343" cy="1744" r="8"/><circle cx="1400" cy="1745" r="8"/><circle cx="1416" cy="1750" r="8"/><circle cx="1437" cy="1747" r="8"/><circle cx="1446" cy="1730" r="8"/><circle cx="1244" cy="1766" r="8"/><circle cx="1462" cy="1759" r="8"/><circle cx="1355" cy="1791" r="8"/><circle cx="1411" cy="1787" r="8"/><circle cx="1436" cy="1803" r="8"/><circle cx="1525" cy="1747" r="8"/><circle cx="1683" cy="1584" r="8"/><circle cx="1565" cy="1617" r="8"/><circle cx="1585" cy="1633" r="8"/><circle cx="1601" cy="1633" r="8"/><circle cx="1609" cy="1626" r="8"/><circle cx="1604" cy="1648" r="8"/><circle cx="1613" cy="1640" r="8"/><circle cx="1641" cy="1638" r="8"/><circle cx="1657" cy="1626" r="8"/><circle cx="1659" cy="1646" r="8"/><circle cx="1682" cy="1658" r="8"/><circle cx="1631" cy="1660" r="8"/><circle cx="1533" cy="1645" r="8"/><circle cx="1545" cy="1725" r="8"/><circle cx="1535" cy="1728" r="8"/><circle cx="1530" cy="1746" r="8"/><circle cx="1608" cy="1753" r="8"/><circle cx="1453" cy="1941" r="8"/><circle cx="1451" cy="1960" r="8"/><circle cx="1454" cy="1999" r="8"/><circle cx="1514" cy="2062" r="8"/><circle cx="1525" cy="2100" r="8"/><circle cx="1606" cy="2025" r="8"/><circle cx="1615" cy="2135" r="8"/></g>
<g fill="rgba(200,35,235,0.72)" stroke="#8a3a9e" stroke-width="1"><circle cx="1761" cy="1772" r="8"/><circle cx="1792" cy="1738" r="8"/><circle cx="1755" cy="1760" r="8"/><circle cx="1753" cy="1719" r="8"/><circle cx="1770" cy="1741" r="8"/><circle cx="1797" cy="1736" r="8"/><circle cx="1766" cy="1799" r="8"/><circle cx="1730" cy="1725" r="8"/><circle cx="1767" cy="1685" r="8"/><circle cx="1749" cy="1771" r="8"/><circle cx="1655" cy="1678" r="8"/><circle cx="1663" cy="1686" r="8"/><circle cx="1639" cy="1707" r="8"/><circle cx="1734" cy="1687" r="8"/><circle cx="1703" cy="1680" r="8"/><circle cx="1658" cy="1666" r="8"/><circle cx="1706" cy="1664" r="8"/><circle cx="1696" cy="1652" r="8"/><circle cx="1757" cy="1683" r="8"/><circle cx="1808" cy="1665" r="8"/><circle cx="1828" cy="1694" r="8"/><circle cx="1818" cy="1701" r="8"/><circle cx="1720" cy="1663" r="8"/><circle cx="1685" cy="1715" r="8"/><circle cx="1711" cy="1713" r="8"/><circle cx="1642" cy="1728" r="8"/><circle cx="1841" cy="1747" r="8"/><circle cx="1772" cy="1715" r="8"/><circle cx="1703" cy="1737" r="8"/><circle cx="1784" cy="1885" r="8"/><circle cx="1746" cy="1892" r="8"/><circle cx="1801" cy="1953" r="8"/><circle cx="1830" cy="1975" r="8"/><circle cx="1697" cy="1970" r="8"/><circle cx="1844" cy="1844" r="8"/><circle cx="1839" cy="1861" r="8"/><circle cx="1778" cy="1833" r="8"/><circle cx="1892" cy="1582" r="8"/><circle cx="1941" cy="1590" r="8"/><circle cx="1884" cy="1615" r="8"/><circle cx="1888" cy="1682" r="8"/><circle cx="1916" cy="1791" r="8"/><circle cx="1890" cy="1832" r="8"/><circle cx="1915" cy="1842" r="8"/><circle cx="1927" cy="1862" r="8"/><circle cx="1876" cy="1867" r="8"/><circle cx="1865" cy="1873" r="8"/></g>
<g fill="rgba(235,28,28,0.72)" stroke="#b83232" stroke-width="1"><circle cx="1766" cy="1775" r="8"/><circle cx="1757" cy="1762" r="8"/><circle cx="1753" cy="1697" r="8"/><circle cx="1744" cy="1740" r="8"/><circle cx="1739" cy="1804" r="8"/><circle cx="1714" cy="1813" r="8"/><circle cx="1771" cy="1781" r="8"/><circle cx="1708" cy="1821" r="8"/><circle cx="1804" cy="1763" r="8"/><circle cx="1781" cy="1700" r="8"/><circle cx="1737" cy="1760" r="8"/><circle cx="1748" cy="1730" r="8"/><circle cx="1745" cy="1792" r="8"/><circle cx="1759" cy="1850" r="8"/><circle cx="1771" cy="1736" r="8"/><circle cx="1704" cy="1701" r="8"/><circle cx="1735" cy="1740" r="8"/><circle cx="1728" cy="1767" r="8"/><circle cx="1751" cy="1771" r="8"/><circle cx="1716" cy="1785" r="8"/><circle cx="1756" cy="1767" r="8"/><circle cx="1774" cy="1773" r="8"/><circle cx="1752" cy="1778" r="8"/><circle cx="1740" cy="1711" r="8"/><circle cx="1753" cy="1728" r="8"/><circle cx="1722" cy="1791" r="8"/><circle cx="1720" cy="1798" r="8"/><circle cx="1731" cy="1737" r="8"/><circle cx="1762" cy="1746" r="8"/><circle cx="1735" cy="1703" r="8"/><circle cx="1782" cy="1742" r="8"/><circle cx="1729" cy="1737" r="8"/><circle cx="1742" cy="1778" r="8"/><circle cx="1760" cy="1706" r="8"/><circle cx="1741" cy="1719" r="8"/><circle cx="1743" cy="1785" r="8"/><circle cx="1780" cy="1740" r="8"/><circle cx="1734" cy="1813" r="8"/><circle cx="1738" cy="1749" r="8"/><circle cx="1710" cy="1717" r="8"/><circle cx="1763" cy="1798" r="8"/><circle cx="1722" cy="1702" r="8"/><circle cx="1704" cy="1683" r="8"/><circle cx="1699" cy="1664" r="8"/><circle cx="1714" cy="1705" r="8"/><circle cx="1652" cy="1691" r="8"/><circle cx="1660" cy="1667" r="8"/><circle cx="1715" cy="1678" r="8"/><circle cx="1700" cy="1677" r="8"/><circle cx="1714" cy="1640" r="8"/><circle cx="1602" cy="1701" r="8"/><circle cx="1665" cy="1700" r="8"/><circle cx="1703" cy="1711" r="8"/><circle cx="1735" cy="1687" r="8"/><circle cx="1745" cy="1716" r="8"/><circle cx="1783" cy="1687" r="8"/><circle cx="1766" cy="1702" r="8"/><circle cx="1787" cy="1718" r="8"/><circle cx="1844" cy="1723" r="8"/><circle cx="1823" cy="1749" r="8"/><circle cx="1711" cy="1684" r="8"/><circle cx="1718" cy="1735" r="8"/><circle cx="1713" cy="1753" r="8"/><circle cx="1811" cy="1787" r="8"/><circle cx="1718" cy="1865" r="8"/><circle cx="1711" cy="1882" r="8"/><circle cx="1728" cy="1878" r="8"/><circle cx="1754" cy="1885" r="8"/><circle cx="1754" cy="1904" r="8"/><circle cx="1714" cy="1908" r="8"/><circle cx="1672" cy="1904" r="8"/><circle cx="1790" cy="1899" r="8"/><circle cx="1804" cy="1920" r="8"/><circle cx="1778" cy="1935" r="8"/><circle cx="1737" cy="1942" r="8"/><circle cx="1734" cy="1939" r="8"/><circle cx="1716" cy="1970" r="8"/><circle cx="1726" cy="1985" r="8"/><circle cx="1763" cy="1987" r="8"/><circle cx="1827" cy="1832" r="8"/><circle cx="1839" cy="1870" r="8"/><circle cx="1689" cy="2009" r="8"/><circle cx="1703" cy="2013" r="8"/><circle cx="1746" cy="1823" r="8"/><circle cx="1784" cy="1811" r="8"/><circle cx="2006" cy="1608" r="8"/><circle cx="1979" cy="1666" r="8"/><circle cx="1982" cy="1690" r="8"/><circle cx="1921" cy="1739" r="8"/><circle cx="1879" cy="1741" r="8"/><circle cx="1689" cy="2061" r="8"/><circle cx="1710" cy="2055" r="8"/><circle cx="1745" cy="2051" r="8"/><circle cx="1790" cy="2060" r="8"/><circle cx="1717" cy="2106" r="8"/><circle cx="1704" cy="2121" r="8"/></g>
<path d="M1679 1809L1674 1798M1674 1810L1674 1798L1684 1806M1683 1819L1695 1836M1693 1824L1695 1836L1684 1831M1641 1797L1625 1802M1638 1804L1625 1802L1634 1793M1677 1808L1692 1802M1680 1800L1692 1802L1684 1811M1669 1828L1682 1825M1670 1822L1682 1825L1673 1833M1669 1839L1690 1833M1678 1830L1690 1833L1681 1841M1634 1821L1645 1820M1633 1815L1645 1820L1634 1827M1635 1794L1633 1781M1629 1793L1633 1781L1640 1792M1633 1795L1625 1808M1636 1801L1625 1808L1626 1795M1598 1829L1622 1823M1609 1820L1622 1823L1612 1831M1743 1806L1752 1824M1752 1811L1752 1824L1742 1816M1583 1798L1592 1820M1593 1808L1592 1820L1582 1812M1593 1786L1574 1800M1586 1798L1574 1800L1579 1789M1673 1833L1653 1840M1665 1842L1653 1840L1661 1831M1632 1803L1644 1802M1632 1798L1644 1802L1633 1809M1671 1828L1681 1815M1670 1820L1681 1815L1679 1827M1567 1808L1554 1822M1565 1818L1554 1822L1557 1810M1646 1803L1659 1819M1657 1807L1659 1819L1648 1814M1659 1790L1674 1788M1663 1783L1674 1788L1664 1795M1703 1810L1708 1819M1708 1807L1708 1819L1698 1812M1721 1818L1728 1839M1730 1827L1728 1839L1719 1831M1645 1823L1639 1806M1638 1818L1639 1806L1649 1814M1687 1789L1684 1773M1680 1785L1684 1773L1692 1782M1643 1782L1659 1797M1655 1785L1659 1797L1647 1793M1631 1779L1638 1769M1627 1774L1638 1769L1636 1782M1630 1814L1625 1829M1634 1821L1625 1829L1623 1817M1640 1779L1644 1758M1636 1768L1644 1758L1647 1770M1661 1803L1672 1794M1660 1796L1672 1794L1667 1805M1682 1850L1664 1863M1676 1861L1664 1863L1670 1852M1630 1819L1619 1836M1630 1830L1619 1836L1620 1823M1597 1838L1597 1858M1603 1847L1597 1858L1591 1847M1597 1812L1594 1824M1602 1814L1594 1824L1591 1812M1711 1814L1701 1815M1713 1819L1701 1815L1711 1808M1704 1808L1696 1831M1705 1822L1696 1831L1694 1818M1610 1796L1612 1815M1617 1804L1612 1815L1605 1805M1691 1783L1706 1794M1700 1783L1706 1794L1693 1793M1673 1829L1692 1822M1680 1821L1692 1822L1684 1832M1557 1802L1542 1815M1554 1813L1542 1815L1546 1804M1622 1802L1628 1790M1618 1797L1628 1790L1628 1803M1651 1801L1645 1787M1644 1800L1645 1787L1655 1795M1744 1803L1744 1821M1750 1810L1744 1821L1738 1810M1683 1808L1678 1818M1688 1810L1678 1818L1677 1805M1603 1824L1609 1832M1607 1820L1609 1832L1598 1827M1673 1784L1652 1786M1664 1791L1652 1786L1663 1779M1731 1782L1724 1792M1735 1786L1724 1792L1725 1780M1739 1833L1717 1823M1725 1833L1717 1823L1730 1823M1633 1829L1652 1822M1640 1821L1652 1822L1644 1832M1662 1802L1647 1807M1659 1809L1647 1807L1656 1798M1688 1772L1686 1749M1681 1760L1686 1749L1693 1759M1598 1821L1586 1825M1598 1827L1586 1825L1595 1816M1673 1799L1675 1814M1679 1802L1675 1814L1667 1804M1706 1802L1703 1818M1711 1808L1703 1818L1699 1806M1633 1789L1635 1803M1639 1791L1635 1803L1627 1792M1680 1800L1697 1814M1692 1802L1697 1814L1685 1811M1646 1850L1656 1855M1649 1845L1656 1855L1644 1855M1674 1779L1662 1796M1673 1790L1662 1796L1664 1783M1637 1809L1628 1830M1638 1822L1628 1830L1627 1817M1573 1795L1568 1777M1565 1789L1568 1777L1576 1786M1592 1798L1590 1816M1597 1805L1590 1816L1585 1804M1670 1777L1686 1757M1674 1762L1686 1757L1683 1770M1654 1817L1669 1837M1667 1825L1669 1837L1657 1832M1594 1813L1602 1804M1590 1808L1602 1804L1599 1816M1625 1812L1640 1830M1637 1817L1640 1830L1629 1825M1624 1827L1631 1813M1621 1821L1631 1813L1631 1826M1581 1808L1596 1825M1593 1813L1596 1825L1585 1821M1696 1840L1683 1832M1689 1843L1683 1832L1696 1833M1710 1775L1726 1763M1713 1765L1726 1763L1720 1775M1648 1822L1656 1801M1647 1809L1656 1801L1657 1814M1637 1820L1624 1828M1637 1827L1624 1828L1631 1817M1695 1814L1710 1821M1702 1811L1710 1821L1697 1822M1625 1807L1636 1812M1629 1802L1636 1812L1624 1812M1753 1800L1765 1792M1753 1793L1765 1792L1760 1803M1622 1827L1632 1819M1619 1822L1632 1819L1627 1831M1654 1812L1671 1803M1658 1803L1671 1803L1664 1814M1701 1838L1719 1852M1714 1841L1719 1852L1707 1850M1624 1784L1633 1799M1632 1786L1633 1799L1622 1793M1631 1821L1618 1800M1619 1813L1618 1800L1629 1807M1710 1803L1698 1814M1710 1811L1698 1814L1702 1802M1709 1815L1717 1792M1708 1801L1717 1792L1719 1805M1635 1810L1618 1799M1624 1810L1618 1799L1630 1800M1664 1782L1665 1771M1658 1782L1665 1771L1670 1783M1660 1845L1673 1840M1661 1838L1673 1840L1665 1849M1695 1805L1705 1821M1704 1808L1705 1821L1694 1815M1596 1831L1610 1845M1606 1833L1610 1845L1598 1841M1623 1797L1642 1789M1629 1788L1642 1789L1634 1798M1639 1800L1625 1810M1637 1808L1625 1810L1630 1799M1604 1799L1584 1803M1596 1807L1584 1803L1594 1795M1677 1827L1665 1818M1670 1829L1665 1818L1677 1820M1673 1800L1692 1808M1684 1798L1692 1808L1679 1809M1613 1810L1612 1830M1618 1819L1612 1830L1606 1819M1658 1785L1676 1790M1667 1781L1676 1790L1664 1792M1669 1818L1679 1824M1672 1813L1679 1824L1666 1823M1687 1825L1684 1837M1693 1828L1684 1837L1681 1825M1665 1764L1677 1768M1668 1759L1677 1768L1665 1770M1664 1835L1667 1852M1671 1841L1667 1852L1659 1842M1697 1769L1709 1747M1698 1754L1709 1747L1709 1759M1625 1797L1647 1805M1639 1796L1647 1805L1635 1807M1594 1794L1588 1779M1587 1791L1588 1779L1597 1787M1637 1803L1625 1821M1636 1815L1625 1821L1626 1809M1619 1780L1610 1793M1621 1788L1610 1793L1612 1781M1700 1815L1705 1802M1696 1810L1705 1802L1706 1815M1572 1808L1561 1823M1572 1818L1561 1823L1563 1811M1631 1787L1645 1772M1633 1776L1645 1772L1641 1784M1666 1828L1654 1817M1658 1829L1654 1817L1666 1820M1623 1842L1637 1859M1634 1847L1637 1859L1625 1854M1724 1780L1719 1757M1716 1769L1719 1757L1727 1767M1696 1813L1694 1798M1690 1810L1694 1798L1701 1808M1658 1790L1641 1797M1654 1798L1641 1797L1649 1787M1591 1776L1595 1792M1598 1780L1595 1792L1586 1783M1637 1804L1629 1827M1638 1818L1629 1827L1627 1814M1646 1784L1658 1784M1646 1779L1658 1784L1646 1790M1618 1798L1613 1781M1611 1794L1613 1781L1622 1790M1592 1782L1610 1796M1605 1785L1610 1796L1598 1794M1653 1791L1657 1801M1659 1789L1657 1801L1648 1793M1615 1810L1633 1807M1621 1803L1633 1807L1623 1814M1617 1807L1639 1809M1629 1802L1639 1809L1627 1814M1617 1842L1603 1852M1615 1851L1603 1852L1608 1841M1642 1774L1647 1788M1649 1775L1647 1788L1638 1779M1725 1812L1728 1796M1720 1806L1728 1796L1732 1808M1648 1777L1629 1771M1637 1780L1629 1771L1641 1769M1628 1799L1636 1780M1626 1788L1636 1780L1637 1793M1689 1843L1698 1851M1693 1839L1698 1851L1686 1849M1687 1811L1676 1812M1688 1816L1676 1812L1686 1805M1665 1788L1656 1798M1668 1794L1656 1798L1659 1786M1649 1804L1668 1794M1656 1794L1668 1794L1661 1804M1603 1770L1599 1794M1607 1784L1599 1794L1595 1783M1701 1791L1684 1787M1693 1795L1684 1787L1696 1784M1693 1808L1694 1789M1687 1799L1694 1789L1699 1800M1652 1855L1641 1853M1651 1861L1641 1853L1653 1850M1652 1817L1641 1831M1652 1826L1641 1831L1643 1819M1660 1801L1676 1814M1671 1803L1676 1814L1664 1812M1702 1810L1709 1802M1698 1806L1709 1802L1706 1814M1679 1832L1675 1848M1683 1840L1675 1848L1672 1836M1674 1819L1675 1800M1668 1810L1675 1800L1680 1811M1673 1818L1665 1811M1669 1823L1665 1811L1677 1814M1702 1803L1687 1785M1690 1797L1687 1785L1698 1789M1620 1831L1597 1836M1609 1840L1597 1836L1607 1828M1698 1800L1713 1799M1702 1794L1713 1799L1702 1806M1680 1793L1700 1778M1687 1780L1700 1778L1694 1789M1591 1828L1582 1823M1589 1833L1582 1823L1594 1823M1766 1775L1783 1763M1771 1765L1783 1763L1778 1774M1745 1739L1757 1721M1746 1727L1757 1721L1756 1733M1747 1761L1756 1770M1752 1758L1756 1770L1744 1766M1741 1669L1756 1665M1744 1662L1756 1665L1747 1674M1761 1772L1773 1781M1768 1770L1773 1781L1760 1779M1757 1762L1748 1774M1760 1769L1748 1774L1750 1761M1775 1836L1755 1826M1763 1836L1755 1826L1767 1826M1753 1697L1745 1712M1756 1705L1745 1712L1745 1699M1738 1768L1745 1750M1736 1757L1745 1750L1747 1762M1744 1740L1737 1729M1738 1742L1737 1729L1748 1736M1739 1804L1750 1807M1741 1799L1750 1807L1738 1810M1792 1738L1763 1740M1774 1745L1763 1740L1773 1733M1775 1710L1759 1709M1770 1715L1759 1709L1770 1704M1714 1813L1726 1796M1715 1802L1726 1796L1724 1809M1704 1706L1714 1719M1712 1707L1714 1719L1703 1714M1755 1760L1731 1744M1736 1755L1731 1744L1743 1745M1753 1719L1771 1710M1758 1710L1771 1710L1764 1720M1771 1781L1762 1791M1774 1787L1762 1791L1765 1779M1761 1840L1733 1843M1744 1848L1733 1843L1743 1836M1708 1821L1723 1818M1711 1815L1723 1818L1713 1826M1740 1690L1730 1700M1742 1696L1730 1700L1734 1688M1770 1756L1743 1765M1755 1767L1743 1765L1751 1756M1804 1763L1791 1759M1799 1768L1791 1759L1803 1757M1781 1700L1756 1685M1762 1695L1756 1685L1768 1685M1737 1760L1766 1757M1755 1752L1766 1757L1756 1764M1748 1802L1733 1801M1744 1807L1733 1801L1744 1796M1790 1754L1811 1756M1800 1749L1811 1756L1799 1761M1748 1730L1744 1702M1740 1714L1744 1702L1751 1712M1724 1798L1710 1796M1720 1803L1710 1796L1721 1791M1745 1792L1761 1802M1755 1791L1761 1802L1749 1801M1759 1850L1785 1844M1773 1841L1785 1844L1776 1853M1746 1787L1725 1791M1736 1795L1725 1791L1735 1783M1774 1801L1759 1806M1771 1808L1759 1806L1767 1797M1770 1741L1766 1730M1764 1743L1766 1730L1775 1738M1732 1769L1720 1775M1732 1775L1720 1775L1727 1765M1799 1735L1787 1729M1795 1739L1787 1729L1800 1728M1773 1756L1753 1757M1764 1762L1753 1757L1763 1750M1718 1762L1734 1743M1722 1748L1734 1743L1731 1755M1771 1736L1758 1754M1769 1749L1758 1754L1760 1742M1759 1685L1740 1671M1745 1682L1740 1671L1752 1672M1743 1756L1741 1769M1749 1759L1741 1769L1737 1758M1704 1701L1693 1681M1693 1693L1693 1681L1703 1687M1744 1742L1733 1758M1744 1752L1733 1758L1734 1745M1740 1734L1752 1729M1740 1728L1752 1729L1744 1738M1776 1700L1777 1687M1770 1697L1777 1687L1782 1698M1735 1740L1714 1747M1727 1749L1714 1747L1723 1738M1767 1758L1747 1766M1759 1768L1747 1766L1755 1757M1762 1751L1760 1735M1756 1746L1760 1735L1767 1745M1784 1814L1776 1826M1787 1820L1776 1826L1777 1813M1706 1736L1694 1743M1707 1742L1694 1743L1700 1733M1761 1786L1773 1797M1769 1785L1773 1797L1761 1793M1728 1767L1727 1751M1722 1763L1727 1751L1733 1762M1736 1752L1730 1733M1728 1746L1730 1733L1739 1742M1751 1771L1739 1778M1752 1777L1739 1778L1745 1768M1716 1785L1701 1760M1702 1773L1701 1760L1712 1767M1738 1710L1766 1701M1753 1699L1766 1701L1757 1710M1797 1736L1798 1718M1791 1729L1798 1718L1803 1729M1771 1801L1769 1819M1776 1809L1769 1819L1764 1808M1756 1767L1763 1756M1752 1762L1763 1756L1762 1769M1766 1799L1768 1811M1772 1799L1768 1811L1760 1802M1774 1773L1768 1762M1768 1774L1768 1762L1778 1769M1752 1778L1765 1786M1759 1775L1765 1786L1753 1785M1756 1792L1745 1804M1757 1800L1745 1804L1748 1792M1740 1711L1747 1730M1749 1717L1747 1730L1737 1721M1762 1830L1750 1811M1751 1823L1750 1811L1761 1817M1764 1767L1741 1749M1746 1761L1741 1749L1753 1751M1753 1728L1754 1716M1747 1726L1754 1716L1759 1727M1759 1749L1767 1738M1755 1744L1767 1738L1765 1751M1782 1800L1802 1801M1792 1795L1802 1801L1791 1807M1762 1681L1785 1682M1774 1676L1785 1682L1774 1687M1717 1749L1700 1738M1706 1749L1700 1738L1712 1739M1711 1741L1714 1729M1706 1739L1714 1729L1717 1742M1753 1725L1756 1743M1760 1731L1756 1743L1748 1733M1722 1791L1716 1811M1725 1802L1716 1811L1713 1798M1720 1798L1694 1788M1702 1798L1694 1788L1706 1787M1745 1700L1734 1710M1746 1707L1734 1710L1738 1698M1731 1737L1733 1716M1726 1726L1733 1716L1738 1728M1758 1790L1741 1767M1743 1779L1741 1767L1752 1772M1746 1721L1767 1702M1755 1705L1767 1702L1763 1714M1762 1746L1775 1770M1775 1757L1775 1770L1764 1763M1735 1703L1714 1716M1726 1715L1714 1716L1720 1705M1782 1742L1767 1756M1779 1753L1767 1756L1771 1744M1729 1737L1704 1735M1714 1741L1704 1735L1715 1730M1727 1715L1736 1697M1726 1704L1736 1697L1736 1709M1742 1778L1757 1785M1749 1775L1757 1785L1745 1786M1730 1725L1704 1731M1716 1734L1704 1731L1713 1723M1760 1706L1777 1682M1766 1688L1777 1682L1775 1694M1699 1781L1702 1753M1695 1764L1702 1753L1707 1765M1738 1739L1723 1734M1732 1743L1723 1734L1735 1732M1741 1719L1725 1739M1736 1734L1725 1739L1727 1727M1731 1728L1720 1703M1719 1715L1720 1703L1730 1711M1763 1780L1767 1795M1770 1783L1767 1795L1759 1785M1743 1785L1725 1794M1737 1794L1725 1794L1732 1784M1780 1740L1765 1727M1769 1738L1765 1727L1777 1730M1767 1685L1765 1660M1760 1671L1765 1660L1772 1670M1719 1751L1728 1775M1730 1763L1728 1775L1719 1767M1720 1754L1714 1731M1711 1744L1714 1731L1723 1741M1734 1813L1723 1820M1736 1819L1723 1820L1729 1809M1738 1749L1743 1725M1735 1735L1743 1725L1746 1737M1749 1771L1737 1777M1750 1778L1737 1777L1745 1767M1693 1747L1688 1767M1697 1758L1688 1767L1685 1755M1754 1729L1759 1714M1750 1723L1759 1714L1761 1727M1772 1808L1753 1818M1766 1818L1753 1818L1760 1808M1710 1717L1702 1730M1713 1724L1702 1730L1703 1717M1707 1698L1710 1711M1713 1699L1710 1711L1702 1701M1757 1667L1762 1692M1766 1680L1762 1692L1754 1682M1768 1734L1783 1733M1772 1728L1783 1733L1773 1740M1718 1693L1736 1682M1724 1683L1736 1682L1730 1693M1763 1798L1744 1797M1755 1804L1744 1797L1755 1792M1768 1702L1758 1694M1763 1705L1758 1694L1770 1696M1655 1678L1660 1706M1664 1694L1660 1706L1652 1696M1750 1701L1756 1724M1759 1712L1756 1724L1748 1715M1663 1686L1670 1704M1671 1692L1670 1704L1660 1696M1678 1683L1678 1709M1683 1698L1678 1709L1672 1698M1639 1707L1653 1716M1647 1706L1653 1716L1641 1715M1734 1687L1722 1710M1732 1703L1722 1710L1722 1698M1722 1702L1722 1725M1728 1714L1722 1725L1716 1714M1704 1683L1694 1696M1705 1691L1694 1696L1696 1684M1699 1664L1695 1684M1703 1674L1695 1684L1692 1672M1714 1705L1711 1723M1719 1713L1711 1723L1707 1711M1678 1672L1692 1695M1691 1682L1692 1695L1681 1688M1734 1687L1729 1707M1737 1698L1729 1707L1726 1695M1703 1680L1687 1694M1699 1692L1687 1694L1691 1683M1704 1673L1687 1677M1699 1680L1687 1677L1696 1669M1652 1691L1633 1709M1645 1705L1633 1709L1637 1697M1725 1670L1722 1688M1729 1678L1722 1688L1718 1676M1693 1690L1690 1707M1698 1697L1690 1707L1686 1695M1671 1702L1654 1713M1667 1712L1654 1713L1661 1702M1658 1666L1648 1692M1658 1683L1648 1692L1647 1679M1668 1690L1690 1707M1685 1695L1690 1707L1678 1705M1660 1667L1650 1689M1660 1681L1650 1689L1650 1676M1715 1678L1721 1707M1725 1695L1721 1707L1713 1697M1706 1664L1707 1693M1713 1682L1707 1693L1701 1682M1696 1652L1684 1664M1696 1660L1684 1664L1688 1652M1707 1691L1705 1708M1712 1697L1705 1708L1700 1696M1676 1666L1653 1683M1666 1681L1653 1683L1659 1671M1757 1683L1755 1711M1762 1701L1755 1711L1750 1700M1700 1677L1709 1695M1709 1683L1709 1695L1699 1687M1678 1710L1677 1728M1683 1717L1677 1728L1672 1716M1714 1696L1710 1713M1718 1703L1710 1713L1707 1701M1426 1651L1462 1641M1450 1639L1462 1641L1453 1650M1466 1650L1523 1652M1512 1646L1523 1652L1512 1657M1498 1660L1540 1666M1530 1658L1540 1666L1528 1670M1430 1678L1491 1671M1479 1666L1491 1671L1481 1678M1467 1688L1518 1690M1508 1683L1518 1690L1507 1695M1436 1713L1489 1708M1478 1703L1489 1708L1479 1715M1361 1729L1418 1717M1406 1714L1418 1717L1409 1725M1343 1744L1386 1729M1373 1727L1386 1729L1377 1738M1400 1745L1451 1733M1439 1730L1451 1733L1442 1741M1416 1750L1470 1731M1458 1729L1470 1731L1462 1740M1437 1747L1496 1728M1484 1725L1496 1728L1487 1737M1446 1730L1499 1722M1488 1718L1499 1722L1489 1729M1244 1766L1281 1761M1269 1757L1281 1761L1271 1769M1462 1759L1513 1752M1502 1747L1513 1752L1503 1759M1355 1791L1406 1767M1394 1767L1406 1767L1399 1777M1411 1787L1462 1767M1449 1766L1462 1767L1453 1777M1436 1803L1484 1790M1472 1787L1484 1790L1475 1798M1525 1747L1540 1747M1529 1741L1540 1747L1529 1752M1516 1688L1527 1702M1525 1690L1527 1702L1516 1697M1493 1734L1496 1738M1494 1726L1496 1738L1485 1733M1472 1813L1510 1806M1498 1802L1510 1806L1500 1814M1480 1823L1512 1826M1501 1819L1512 1826L1500 1831M1482 1746L1529 1733M1517 1730L1529 1733L1520 1741M1683 1584L1703 1612M1701 1600L1703 1612L1691 1606M1565 1617L1627 1654M1620 1643L1627 1654L1614 1653M1585 1633L1634 1658M1626 1647L1634 1658L1621 1658M1601 1633L1642 1646M1633 1637L1642 1646L1630 1648M1609 1626L1630 1656M1629 1643L1630 1656L1619 1650M1604 1648L1635 1656M1626 1648L1635 1656L1623 1659M1613 1640L1627 1649M1620 1638L1627 1649L1614 1648M1641 1638L1646 1652M1648 1640L1646 1652L1637 1644M1657 1626L1680 1649M1676 1637L1680 1649L1668 1645M1659 1646L1673 1670M1673 1657L1673 1670L1663 1663M1682 1658L1703 1685M1700 1673L1703 1685L1691 1680M1631 1660L1652 1681M1649 1669L1652 1681L1640 1678M1533 1645L1586 1650M1576 1643L1586 1650L1575 1655M1545 1725L1580 1730M1570 1723L1580 1730L1568 1734M1535 1728L1592 1732M1581 1725L1592 1732L1581 1737M1530 1746L1582 1751M1571 1744L1582 1751L1570 1756M1608 1753L1649 1763M1640 1755L1649 1763L1637 1766M1587 1670L1587 1680M1593 1669L1587 1680L1581 1669M1574 1683L1578 1692M1579 1680L1578 1692L1568 1685M1637 1706L1637 1720M1643 1709L1637 1720L1631 1709M1634 1716L1666 1732M1659 1722L1666 1732L1654 1732M1604 1721L1615 1733M1612 1720L1615 1733L1603 1728M1628 1731L1652 1740M1644 1731L1652 1740L1640 1742M1663 1740L1666 1746M1665 1733L1666 1746L1655 1740M1682 1732L1699 1742M1693 1731L1699 1742L1687 1742M1671 1715L1673 1721M1676 1709L1673 1721L1665 1712M1704 1649L1711 1658M1709 1645L1711 1658L1700 1653M1708 1670L1709 1680M1713 1668L1709 1680L1702 1670M1742 1680L1746 1687M1746 1674L1746 1687L1735 1680M1751 1689L1753 1701M1757 1689L1753 1701L1745 1691M1809 1651L1804 1659M1815 1653L1804 1659L1805 1647M1806 1701L1808 1708M1811 1696L1808 1708L1799 1698M1809 1721L1806 1727M1817 1721L1806 1727L1807 1714M1782 1697L1778 1708M1787 1699L1778 1708L1776 1695M1763 1734L1761 1742M1769 1732L1761 1742L1758 1730M1796 1734L1792 1740M1802 1733L1792 1740L1792 1728M1728 1725L1725 1732M1735 1725L1725 1732L1725 1719M1706 1766L1704 1763M1704 1775L1704 1763L1714 1770M1813 1759L1806 1766M1818 1763L1806 1766L1810 1754M1823 1765L1820 1770M1831 1764L1820 1770L1821 1757M1804 1768L1799 1778M1809 1771L1799 1778L1799 1766M1578 1735L1573 1744M1584 1737L1573 1744L1574 1731M1539 1759L1537 1761M1549 1757L1537 1761L1541 1749M1547 1778L1568 1787M1560 1777L1568 1787L1556 1788M1535 1775L1556 1782M1547 1773L1556 1782L1544 1784M1704 1690L1708 1699M1709 1687L1708 1699L1698 1691M1714 1640L1720 1654M1721 1642L1720 1654L1710 1646M1602 1701L1616 1716M1613 1704L1616 1716L1605 1712M1665 1700L1685 1711M1679 1701L1685 1711L1673 1711M1703 1711L1706 1718M1706 1706L1706 1718L1696 1711M1735 1687L1734 1701M1741 1691L1734 1701L1729 1689M1745 1716L1746 1728M1751 1717L1746 1728L1739 1718M1783 1687L1778 1704M1787 1695L1778 1704L1775 1692M1766 1702L1772 1709M1770 1697L1772 1709L1760 1704M1787 1718L1785 1727M1793 1717L1785 1727L1782 1715M1844 1723L1839 1735M1849 1727L1839 1735L1838 1723M1823 1749L1816 1761M1827 1754L1816 1761L1817 1749M1711 1684L1713 1692M1716 1680L1713 1692L1705 1682M1718 1735L1716 1744M1724 1734L1716 1744L1713 1732M1713 1753L1720 1754M1710 1746L1720 1754L1708 1757M1811 1787L1806 1792M1818 1789L1806 1792L1810 1780M1808 1665L1806 1658M1803 1670L1806 1658L1814 1667M1828 1694L1841 1708M1838 1695L1841 1708L1829 1703M1818 1701L1823 1704M1817 1693L1823 1704L1811 1703M1720 1663L1733 1668M1725 1658L1733 1668L1720 1669M1685 1715L1682 1711M1685 1723L1682 1711L1694 1715M1711 1713L1713 1718M1715 1706L1713 1718L1704 1709M1642 1728L1651 1732M1643 1722L1651 1732L1638 1733M1841 1747L1844 1744M1832 1748L1844 1744L1840 1756M1772 1715L1768 1718M1780 1714L1768 1718L1772 1706M1703 1737L1704 1740M1705 1728L1704 1740L1694 1733M1806 1742L1803 1747M1814 1741L1803 1747L1804 1735M1839 1737L1834 1744M1845 1739L1834 1744L1836 1732M1778 1775L1772 1773M1781 1782L1772 1773L1784 1770M1827 1784L1822 1787M1834 1786L1822 1787L1827 1776M1620 1771L1613 1784M1623 1777L1613 1784L1613 1771M1682 1768L1675 1766M1684 1775L1675 1766L1687 1763M1720 1766L1713 1768M1725 1771L1713 1768L1722 1760M1754 1754L1751 1763M1760 1755L1751 1763L1749 1750M1768 1763L1763 1768M1775 1764L1763 1768L1767 1756M1797 1753L1794 1756M1806 1752L1794 1756L1798 1744M1602 1692L1602 1694M1608 1683L1602 1694L1597 1683M1660 1684L1663 1699M1667 1687L1663 1699L1655 1689M1641 1775L1639 1768M1637 1780L1639 1768L1648 1776M1665 1772L1647 1777M1659 1780L1647 1777L1657 1768M1540 1811L1537 1808M1541 1820L1537 1808L1549 1811M1565 1818L1561 1815M1565 1826L1561 1815L1573 1818M1582 1808L1575 1804M1582 1814L1575 1804L1587 1804M1596 1796L1587 1794M1597 1802L1587 1794L1599 1790M1573 1837L1571 1832M1569 1844L1571 1832L1580 1840M1582 1852L1580 1847M1578 1860L1580 1847L1589 1856M1602 1842L1599 1837M1600 1849L1599 1837L1610 1843M1621 1797L1615 1794M1622 1804L1615 1794L1627 1793M1634 1809L1627 1806M1634 1816L1627 1806L1639 1806M1620 1828L1613 1825M1620 1835L1613 1825L1625 1825M1634 1847L1632 1842M1630 1854L1632 1842L1641 1851M1651 1802L1644 1799M1651 1809L1644 1799L1656 1799M1659 1823L1651 1821M1660 1829L1651 1821L1663 1818M1671 1799L1666 1796M1672 1807L1666 1796L1679 1797M1678 1815L1671 1813M1681 1821L1671 1813L1684 1810M1689 1801L1682 1799M1691 1807L1682 1799L1694 1796M1685 1833L1678 1832M1688 1840L1678 1832L1690 1829M1671 1849L1651 1849M1662 1855L1651 1849L1662 1843M1699 1794L1694 1790M1700 1801L1694 1790L1706 1792M1703 1815L1696 1813M1705 1821L1696 1813L1708 1810M1713 1804L1708 1802M1716 1811L1708 1802L1720 1800M1723 1818L1718 1816M1727 1825L1718 1816L1730 1814M1730 1797L1725 1794M1731 1805L1725 1794L1737 1795M1742 1811L1737 1809M1746 1818L1737 1809L1749 1807M1744 1849L1739 1847M1747 1856L1739 1847L1751 1845M1720 1837L1715 1835M1723 1844L1715 1835L1727 1833M1692 1866L1665 1863M1675 1870L1665 1863L1676 1858M1651 1906L1640 1906M1651 1912L1640 1906L1651 1900M1727 1890L1723 1884M1723 1896L1723 1884L1733 1891M1772 1877L1775 1871M1764 1877L1775 1871L1774 1884M1590 1823L1585 1820M1591 1831L1585 1820L1598 1821M1608 1815L1602 1811M1608 1822L1602 1811L1615 1812M1642 1832L1637 1830M1646 1839L1637 1830L1649 1828M1665 1837L1658 1835M1667 1844L1658 1835L1670 1832M1703 1846L1697 1844M1706 1853L1697 1844L1710 1842M1558 1820L1556 1815M1554 1827L1556 1815L1565 1823M1604 1852L1599 1849M1605 1860L1599 1849L1611 1850M1619 1852L1616 1851M1622 1862L1616 1851L1629 1852M1758 1863L1758 1871M1764 1860L1758 1871L1752 1860M1775 1859L1775 1873M1781 1862L1775 1873L1769 1862M1772 1923L1768 1930M1778 1923L1768 1930L1768 1918M1782 1925L1777 1935M1787 1928L1777 1935L1776 1923M1734 1965L1721 1958M1728 1968L1721 1958L1734 1958M1778 1980L1768 1968M1771 1980L1768 1968L1780 1973M1689 1990L1689 1978M1683 1989L1689 1978L1695 1989M1635 2013L1632 2008M1633 2020L1632 2008L1643 2014M1813 1833L1801 1852M1812 1846L1801 1852L1802 1840M1806 1806L1804 1815M1812 1805L1804 1815L1801 1803M1820 1809L1823 1823M1826 1811L1823 1823L1815 1814M1844 1815L1844 1830M1850 1819L1844 1830L1838 1819M1718 1865L1716 1859M1714 1872L1716 1859L1725 1868M1711 1882L1703 1873M1706 1885L1703 1873L1714 1877M1728 1878L1737 1885M1732 1874L1737 1885L1725 1883M1754 1885L1740 1884M1751 1891L1740 1884L1752 1879M1754 1904L1753 1890M1748 1902L1753 1890L1760 1901M1714 1908L1713 1887M1707 1898L1713 1887L1719 1898M1672 1904L1666 1885M1664 1898L1666 1885L1675 1894M1790 1899L1775 1906M1787 1907L1775 1906L1783 1896M1804 1920L1799 1911M1800 1924L1799 1911L1810 1918M1778 1935L1766 1940M1779 1941L1766 1940L1774 1931M1737 1942L1732 1920M1729 1932L1732 1920L1740 1929M1734 1939L1739 1927M1729 1934L1739 1927L1740 1939M1716 1970L1711 1942M1707 1954L1711 1942L1719 1952M1726 1985L1720 1958M1716 1970L1720 1958L1728 1967M1763 1987L1765 1961M1758 1972L1765 1961L1770 1973M1827 1832L1820 1825M1823 1837L1820 1825L1832 1829M1839 1870L1834 1866M1840 1877L1834 1866L1846 1867M1689 2009L1690 1987M1684 1998L1690 1987L1695 1998M1703 2013L1694 1992M1693 2005L1694 1992L1704 2000M1746 1823L1737 1820M1745 1829L1737 1820L1749 1818M1784 1811L1778 1815M1791 1813L1778 1815L1784 1803M1784 1885L1785 1890M1787 1878L1785 1890L1776 1882M1746 1892L1740 1890M1749 1899L1740 1890L1753 1888M1801 1953L1794 1949M1801 1959L1794 1949L1806 1949M1830 1975L1813 1968M1821 1978L1813 1968L1825 1967M1697 1970L1699 1963M1691 1972L1699 1963L1702 1975M1844 1844L1839 1844M1850 1850L1839 1844L1850 1838M1839 1861L1823 1863M1835 1867L1823 1863L1834 1856M1778 1833L1777 1828M1775 1841L1777 1828L1786 1837M1892 1582L1912 1594M1906 1583L1912 1594L1900 1593M1941 1590L1947 1608M1949 1595L1947 1608L1937 1599M1884 1615L1885 1633M1890 1622L1885 1633L1878 1623M2006 1608L1972 1616M1984 1619L1972 1616L1981 1608M2092 1590L2067 1598M2080 1600L2067 1598L2076 1589M2075 1608L2046 1607M2056 1613L2046 1607L2057 1602M1922 1647L1915 1652M1927 1651L1915 1652L1922 1641M1943 1660L1922 1680M1935 1677L1922 1680L1926 1668M1979 1666L1963 1681M1975 1678L1963 1681L1967 1669M1982 1690L1965 1702M1977 1701L1965 1702L1970 1691M1888 1682L1881 1695M1891 1688L1881 1695L1881 1682M1921 1739L1913 1740M1925 1744L1913 1740L1923 1733M1879 1741L1868 1738M1877 1747L1868 1738L1880 1735M1859 1737L1855 1749M1864 1740L1855 1749L1853 1737M1891 1768L1877 1785M1888 1781L1877 1785L1879 1773M1916 1791L1908 1786M1914 1797L1908 1786L1920 1787M1726 1477L1725 1492M1732 1481L1725 1492L1720 1480M1453 1941L1474 1906M1463 1912L1474 1906L1473 1918M1451 1960L1486 1925M1474 1929L1486 1925L1482 1937M1454 1999L1455 1972M1448 1983L1455 1972L1460 1983M1514 2062L1519 2023M1512 2033L1519 2023L1523 2034M1525 2100L1536 2068M1527 2076L1536 2068L1538 2080M1606 2025L1610 1993M1603 2004L1610 1993L1614 2005M1590 2081L1584 2052M1580 2064L1584 2052L1592 2062M1658 2061L1644 2052M1650 2063L1644 2052L1657 2053M1615 2135L1630 2102M1620 2110L1630 2102L1631 2115M1689 2061L1689 2030M1683 2041L1689 2030L1695 2041M1710 2055L1710 2023M1704 2034L1710 2023L1715 2034M1745 2051L1743 2035M1739 2046L1743 2035L1750 2045M1790 2060L1788 2040M1783 2052L1788 2040L1795 2051M1778 2070L1766 2056M1768 2068L1766 2056L1777 2060M1771 2057L1767 2054M1771 2066L1767 2054L1779 2057M1759 2040L1747 2023M1748 2035L1747 2023L1758 2028M1742 2026L1729 2018M1736 2029L1729 2018L1742 2019M1786 2035L1781 2031M1787 2042L1781 2031L1794 2033M1783 2045L1785 2040M1776 2049L1785 2040L1787 2052M1717 2106L1720 2082M1713 2093L1720 2082L1725 2094M1711 2112L1704 2094M1702 2106L1704 2094L1713 2101M1704 2121L1697 2097M1694 2109L1697 2097L1706 2106M1855 1803L1839 1809M1851 1811L1839 1809L1847 1800M1890 1832L1877 1825M1884 1836L1877 1825L1889 1825M1915 1842L1903 1836M1910 1846L1903 1836L1915 1835M1943 1836L1917 1831M1927 1839L1917 1831L1929 1827M1927 1862L1910 1862M1922 1868L1910 1862L1921 1856M1876 1867L1864 1859M1870 1870L1864 1859L1876 1860M1865 1873L1848 1868M1857 1877L1848 1868L1861 1865M1689 1576L1697 1598M1699 1586L1697 1598L1688 1590" fill="none" stroke="#000" stroke-width="2.3" stroke-linejoin="miter"/>
<rect x="109.0" y="513.7" width="913.7" height="711.5" fill="none" stroke="#000" stroke-width="1.8"/>
<line x1="168.4" y1="1225.2" x2="168.4" y2="1244.6" stroke="#000" stroke-width="1.8"/>
<text x="168.4" y="1279.8" font-size="30" text-anchor="middle">−30</text>
<line x1="298.3" y1="1225.2" x2="298.3" y2="1244.6" stroke="#000" stroke-width="1.8"/>
<text x="298.3" y="1279.8" font-size="30" text-anchor="middle">−20</text>
<line x1="428.2" y1="1225.2" x2="428.2" y2="1244.6" stroke="#000" stroke-width="1.8"/>
<text x="428.2" y="1279.8" font-size="30" text-anchor="middle">−10</text>
<line x1="558.1" y1="1225.2" x2="558.1" y2="1244.6" stroke="#000" stroke-width="1.8"/>
<text x="558.1" y="1279.8" font-size="30" text-anchor="middle">0</text>
<line x1="688.0" y1="1225.2" x2="688.0" y2="1244.6" stroke="#000" stroke-width="1.8"/>
<text x="688.0" y="1279.8" font-size="30" text-anchor="middle">10</text>
<line x1="817.9" y1="1225.2" x2="817.9" y2="1244.6" stroke="#000" stroke-width="1.8"/>
<text x="817.9" y="1279.8" font-size="30" text-anchor="middle">20</text>
<line x1="947.8" y1="1225.2" x2="947.8" y2="1244.6" stroke="#000" stroke-width="1.8"/>
<text x="947.8" y="1279.8" font-size="30" text-anchor="middle">30</text>
<line x1="89.6" y1="1187.3" x2="109.0" y2="1187.3" stroke="#000" stroke-width="1.8"/>
<text x="0" y="0" font-size="30" text-anchor="middle" transform="translate(76.4,1187.3) rotate(-90)">−30</text>
<line x1="89.6" y1="1070.4" x2="109.0" y2="1070.4" stroke="#000" stroke-width="1.8"/>
<text x="0" y="0" font-size="30" text-anchor="middle" transform="translate(76.4,1070.4) rotate(-90)">−20</text>
<line x1="89.6" y1="953.6" x2="109.0" y2="953.6" stroke="#000" stroke-width="1.8"/>
<text x="0" y="0" font-size="30" text-anchor="middle" transform="translate(76.4,953.6) rotate(-90)">−10</text>
<line x1="89.6" y1="836.7" x2="109.0" y2="836.7" stroke="#000" stroke-width="1.8"/>
<text x="0" y="0" font-size="30" text-anchor="middle" transform="translate(76.4,836.7) rotate(-90)">0</text>
<line x1="89.6" y1="719.8" x2="109.0" y2="719.8" stroke="#000" stroke-width="1.8"/>
<text x="0" y="0" font-size="30" text-anchor="middle" transform="translate(76.4,719.8) rotate(-90)">10</text>
<line x1="89.6" y1="603.0" x2="109.0" y2="603.0" stroke="#000" stroke-width="1.8"/>
<text x="0" y="0" font-size="30" text-anchor="middle" transform="translate(76.4,603.0) rotate(-90)">20</text>
<rect x="1210.5" y="513.7" width="914.0" height="711.1" fill="none" stroke="#000" stroke-width="1.8"/>
<line x1="1259.1" y1="1224.8" x2="1259.1" y2="1244.2" stroke="#000" stroke-width="1.8"/>
<text x="1259.1" y="1279.4" font-size="30" text-anchor="middle">−30</text>
<line x1="1409.2" y1="1224.8" x2="1409.2" y2="1244.2" stroke="#000" stroke-width="1.8"/>
<text x="1409.2" y="1279.4" font-size="30" text-anchor="middle">−20</text>
<line x1="1559.3" y1="1224.8" x2="1559.3" y2="1244.2" stroke="#000" stroke-width="1.8"/>
<text x="1559.3" y="1279.4" font-size="30" text-anchor="middle">−10</text>
<line x1="1709.4" y1="1224.8" x2="1709.4" y2="1244.2" stroke="#000" stroke-width="1.8"/>
<text x="1709.4" y="1279.4" font-size="30" text-anchor="middle">0</text>
<line x1="1859.5" y1="1224.8" x2="1859.5" y2="1244.2" stroke="#000" stroke-width="1.8"/>
<text x="1859.5" y="1279.4" font-size="30" text-anchor="middle">10</text>
<line x1="2009.6" y1="1224.8" x2="2009.6" y2="1244.2" stroke="#000" stroke-width="1.8"/>
<text x="2009.6" y="1279.4" font-size="30" text-anchor="middle">20</text>
<line x1="1191.1" y1="1209.0" x2="1210.5" y2="1209.0" stroke="#000" stroke-width="1.8"/>
<text x="0" y="0" font-size="30" text-anchor="middle" transform="translate(1177.9,1209.0) rotate(-90)">−20</text>
<line x1="1191.1" y1="1114.9" x2="1210.5" y2="1114.9" stroke="#000" stroke-width="1.8"/>
<text x="0" y="0" font-size="30" text-anchor="middle" transform="translate(1177.9,1114.9) rotate(-90)">−15</text>
<line x1="1191.1" y1="1020.8" x2="1210.5" y2="1020.8" stroke="#000" stroke-width="1.8"/>
<text x="0" y="0" font-size="30" text-anchor="middle" transform="translate(1177.9,1020.8) rotate(-90)">−10</text>
<line x1="1191.1" y1="926.6" x2="1210.5" y2="926.6" stroke="#000" stroke-width="1.8"/>
<text x="0" y="0" font-size="30" text-anchor="middle" transform="translate(1177.9,926.6) rotate(-90)">−5</text>
<line x1="1191.1" y1="832.5" x2="1210.5" y2="832.5" stroke="#000" stroke-width="1.8"/>
<text x="0" y="0" font-size="30" text-anchor="middle" transform="translate(1177.9,832.5) rotate(-90)">0</text>
<line x1="1191.1" y1="738.4" x2="1210.5" y2="738.4" stroke="#000" stroke-width="1.8"/>
<text x="0" y="0" font-size="30" text-anchor="middle" transform="translate(1177.9,738.4) rotate(-90)">5</text>
<line x1="1191.1" y1="644.2" x2="1210.5" y2="644.2" stroke="#000" stroke-width="1.8"/>
<text x="0" y="0" font-size="30" text-anchor="middle" transform="translate(1177.9,644.2) rotate(-90)">10</text>
<line x1="1191.1" y1="550.1" x2="1210.5" y2="550.1" stroke="#000" stroke-width="1.8"/>
<text x="0" y="0" font-size="30" text-anchor="middle" transform="translate(1177.9,550.1) rotate(-90)">15</text>
<rect x="109.0" y="1450.2" width="913.7" height="711.2" fill="none" stroke="#000" stroke-width="1.8"/>
<line x1="129.4" y1="2161.4" x2="129.4" y2="2180.8" stroke="#000" stroke-width="1.8"/>
<text x="129.4" y="2216.0" font-size="30" text-anchor="middle">−20</text>
<line x1="250.4" y1="2161.4" x2="250.4" y2="2180.8" stroke="#000" stroke-width="1.8"/>
<text x="250.4" y="2216.0" font-size="30" text-anchor="middle">−15</text>
<line x1="371.3" y1="2161.4" x2="371.3" y2="2180.8" stroke="#000" stroke-width="1.8"/>
<text x="371.3" y="2216.0" font-size="30" text-anchor="middle">−10</text>
<line x1="492.3" y1="2161.4" x2="492.3" y2="2180.8" stroke="#000" stroke-width="1.8"/>
<text x="492.3" y="2216.0" font-size="30" text-anchor="middle">−5</text>
<line x1="613.2" y1="2161.4" x2="613.2" y2="2180.8" stroke="#000" stroke-width="1.8"/>
<text x="613.2" y="2216.0" font-size="30" text-anchor="middle">0</text>
<line x1="734.2" y1="2161.4" x2="734.2" y2="2180.8" stroke="#000" stroke-width="1.8"/>
<text x="734.2" y="2216.0" font-size="30" text-anchor="middle">5</text>
<line x1="855.1" y1="2161.4" x2="855.1" y2="2180.8" stroke="#000" stroke-width="1.8"/>
<text x="855.1" y="2216.0" font-size="30" text-anchor="middle">10</text>
<line x1="976.1" y1="2161.4" x2="976.1" y2="2180.8" stroke="#000" stroke-width="1.8"/>
<text x="976.1" y="2216.0" font-size="30" text-anchor="middle">15</text>
<line x1="89.6" y1="2038.8" x2="109.0" y2="2038.8" stroke="#000" stroke-width="1.8"/>
<text x="0" y="0" font-size="30" text-anchor="middle" transform="translate(76.4,2038.8) rotate(-90)">−20</text>
<line x1="89.6" y1="1907.7" x2="109.0" y2="1907.7" stroke="#000" stroke-width="1.8"/>
<text x="0" y="0" font-size="30" text-anchor="middle" transform="translate(76.4,1907.7) rotate(-90)">−10</text>
<line x1="89.6" y1="1776.6" x2="109.0" y2="1776.6" stroke="#000" stroke-width="1.8"/>
<text x="0" y="0" font-size="30" text-anchor="middle" transform="translate(76.4,1776.6) rotate(-90)">0</text>
<line x1="89.6" y1="1645.5" x2="109.0" y2="1645.5" stroke="#000" stroke-width="1.8"/>
<text x="0" y="0" font-size="30" text-anchor="middle" transform="translate(76.4,1645.5) rotate(-90)">10</text>
<line x1="89.6" y1="1514.4" x2="109.0" y2="1514.4" stroke="#000" stroke-width="1.8"/>
<text x="0" y="0" font-size="30" text-anchor="middle" transform="translate(76.4,1514.4) rotate(-90)">20</text>
<rect x="1210.5" y="1450.1" width="914.0" height="711.1" fill="none" stroke="#000" stroke-width="1.8"/>
<line x1="1367.2" y1="2161.2" x2="1367.2" y2="2180.6" stroke="#000" stroke-width="1.8"/>
<text x="1367.2" y="2215.8" font-size="30" text-anchor="middle">−20</text>
<line x1="1535.7" y1="2161.2" x2="1535.7" y2="2180.6" stroke="#000" stroke-width="1.8"/>
<text x="1535.7" y="2215.8" font-size="30" text-anchor="middle">−10</text>
<line x1="1704.2" y1="2161.2" x2="1704.2" y2="2180.6" stroke="#000" stroke-width="1.8"/>
<text x="1704.2" y="2215.8" font-size="30" text-anchor="middle">0</text>
<line x1="1872.7" y1="2161.2" x2="1872.7" y2="2180.6" stroke="#000" stroke-width="1.8"/>
<text x="1872.7" y="2215.8" font-size="30" text-anchor="middle">10</text>
<line x1="2041.2" y1="2161.2" x2="2041.2" y2="2180.6" stroke="#000" stroke-width="1.8"/>
<text x="2041.2" y="2215.8" font-size="30" text-anchor="middle">20</text>
<line x1="1191.1" y1="2135.8" x2="1210.5" y2="2135.8" stroke="#000" stroke-width="1.8"/>
<text x="0" y="0" font-size="30" text-anchor="middle" transform="translate(1177.9,2135.8) rotate(-90)">−20</text>
<line x1="1191.1" y1="1968.5" x2="1210.5" y2="1968.5" stroke="#000" stroke-width="1.8"/>
<text x="0" y="0" font-size="30" text-anchor="middle" transform="translate(1177.9,1968.5) rotate(-90)">−10</text>
<line x1="1191.1" y1="1801.2" x2="1210.5" y2="1801.2" stroke="#000" stroke-width="1.8"/>
<text x="0" y="0" font-size="30" text-anchor="middle" transform="translate(1177.9,1801.2) rotate(-90)">0</text>
<line x1="1191.1" y1="1634.0" x2="1210.5" y2="1634.0" stroke="#000" stroke-width="1.8"/>
<text x="0" y="0" font-size="30" text-anchor="middle" transform="translate(1177.9,1634.0) rotate(-90)">10</text>
<line x1="1191.1" y1="1466.7" x2="1210.5" y2="1466.7" stroke="#000" stroke-width="1.8"/>
<text x="0" y="0" font-size="30" text-anchor="middle" transform="translate(1177.9,1466.7) rotate(-90)">20</text>
<text x="458.9" y="484.3" font-size="37" font-weight="bold" textLength="215.5" lengthAdjust="spacingAndGlyphs">PC1 vs. PC2</text>
<text x="1560.0" y="484.3" font-size="37" font-weight="bold" textLength="215.4" lengthAdjust="spacingAndGlyphs">PC2 vs. PC3</text>
<text x="458.9" y="1421.0" font-size="37" font-weight="bold" textLength="214.2" lengthAdjust="spacingAndGlyphs">PC3 vs. PC4</text>
<text x="1560.0" y="1421.0" font-size="37" font-weight="bold" textLength="215.1" lengthAdjust="spacingAndGlyphs">PC4 vs. PC5</text>
<text x="312.1" y="1333.5" font-size="36" textLength="490.5" lengthAdjust="spacingAndGlyphs">PC1: chromaffin differentiation</text>
<text x="1511.1" y="1334.2" font-size="36" textLength="347.9" lengthAdjust="spacingAndGlyphs">PC2: sympathoblasts</text>
<text x="385.0" y="2269.3" font-size="36" textLength="285.4" lengthAdjust="spacingAndGlyphs">PC3: bridge state</text>
<text x="1535.7" y="2268.6" font-size="36" textLength="307.6" lengthAdjust="spacingAndGlyphs">PC4: cell cycle exit</text>
<text x="0" y="0" font-size="36" textLength="349.8" lengthAdjust="spacingAndGlyphs" transform="translate(27.9,1006.1) rotate(-90)">PC2: sympathoblasts</text>
<text x="0" y="0" font-size="36" textLength="283.4" lengthAdjust="spacingAndGlyphs" transform="translate(1128.6,1004.2) rotate(-90)">PC3: bridge state</text>
<text x="0" y="0" font-size="36" textLength="303.3" lengthAdjust="spacingAndGlyphs" transform="translate(27.2,1945.5) rotate(-90)">PC4: cell cycle exit</text>
<text x="0" y="0" font-size="36" textLength="240.8" lengthAdjust="spacingAndGlyphs" transform="translate(1128.6,1843.6) rotate(-90)">PC5: cell cycle</text>
<text x="26" y="503.5" font-size="47" font-weight="bold">f</text>
<text x="1117.5" y="494" font-size="47" font-weight="bold">g</text>
<text x="19.5" y="1441" font-size="47" font-weight="bold">h</text>
<text x="1131" y="1438.5" font-size="47" font-weight="bold">i</text>
</svg>
</body></html>
